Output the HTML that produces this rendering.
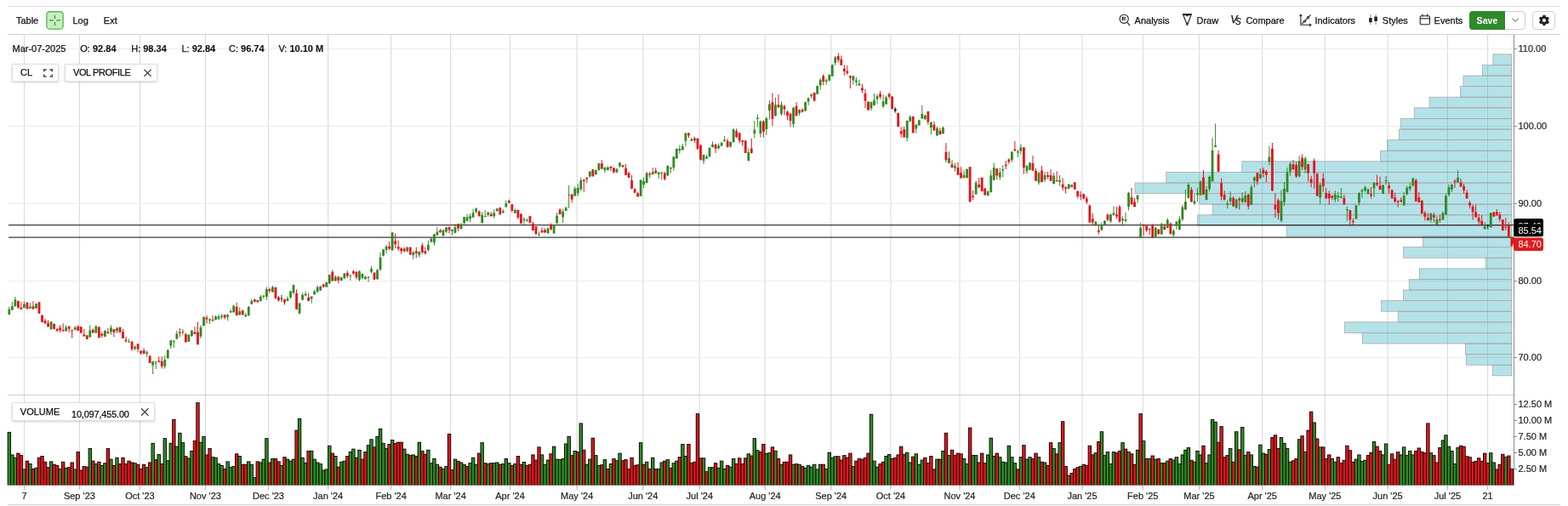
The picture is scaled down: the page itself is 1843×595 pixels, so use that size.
<!DOCTYPE html>
<html><head><meta charset="utf-8"><title>Chart</title>
<style>
html,body{margin:0;padding:0;background:#fff;}
#w{position:relative;width:1843px;height:595px;overflow:hidden;background:#fff;font-family:"Liberation Sans", Arial, sans-serif;}
svg text{font-family:"Liberation Sans", Arial, sans-serif;}
.ax{font-size:11px;fill:#222;stroke:#222;stroke-width:0.2px;}
.lbl{font-size:11px;fill:#fff;}
.t{position:absolute;font-size:11px;line-height:13px;color:#1e1e1e;white-space:nowrap;}
.b{font-weight:bold;}
.box{position:absolute;background:#fff;border:1px solid #dedede;box-shadow:0 1px 3px rgba(0,0,0,0.18);border-radius:1px;}
.btn{position:absolute;border:1px solid #cfcfcf;border-radius:4px;background:#fff;box-sizing:border-box;}
</style></head><body><div id="w">
<svg width="1843" height="595" viewBox="0 0 1843 595" style="position:absolute;left:0;top:0">
<line x1="28.5" y1="41" x2="28.5" y2="574" stroke="#dadada" stroke-width="1.1"/>
<line x1="93.4" y1="41" x2="93.4" y2="574" stroke="#dadada" stroke-width="1.1"/>
<line x1="164.4" y1="41" x2="164.4" y2="574" stroke="#dadada" stroke-width="1.1"/>
<line x1="241.4" y1="41" x2="241.4" y2="574" stroke="#dadada" stroke-width="1.1"/>
<line x1="315.5" y1="41" x2="315.5" y2="574" stroke="#dadada" stroke-width="1.1"/>
<line x1="385.6" y1="41" x2="385.6" y2="574" stroke="#dadada" stroke-width="1.1"/>
<line x1="459.6" y1="41" x2="459.6" y2="574" stroke="#dadada" stroke-width="1.1"/>
<line x1="529.6" y1="41" x2="529.6" y2="574" stroke="#dadada" stroke-width="1.1"/>
<line x1="599.5" y1="41" x2="599.5" y2="574" stroke="#dadada" stroke-width="1.1"/>
<line x1="678.2" y1="41" x2="678.2" y2="574" stroke="#dadada" stroke-width="1.1"/>
<line x1="755.8" y1="41" x2="755.8" y2="574" stroke="#dadada" stroke-width="1.1"/>
<line x1="822.3" y1="41" x2="822.3" y2="574" stroke="#dadada" stroke-width="1.1"/>
<line x1="899.2" y1="41" x2="899.2" y2="574" stroke="#dadada" stroke-width="1.1"/>
<line x1="976.7" y1="41" x2="976.7" y2="574" stroke="#dadada" stroke-width="1.1"/>
<line x1="1047" y1="41" x2="1047" y2="574" stroke="#dadada" stroke-width="1.1"/>
<line x1="1128" y1="41" x2="1128" y2="574" stroke="#dadada" stroke-width="1.1"/>
<line x1="1198.3" y1="41" x2="1198.3" y2="574" stroke="#dadada" stroke-width="1.1"/>
<line x1="1272" y1="41" x2="1272" y2="574" stroke="#dadada" stroke-width="1.1"/>
<line x1="1343.3" y1="41" x2="1343.3" y2="574" stroke="#dadada" stroke-width="1.1"/>
<line x1="1409.5" y1="41" x2="1409.5" y2="574" stroke="#dadada" stroke-width="1.1"/>
<line x1="1483.7" y1="41" x2="1483.7" y2="574" stroke="#dadada" stroke-width="1.1"/>
<line x1="1557.4" y1="41" x2="1557.4" y2="574" stroke="#dadada" stroke-width="1.1"/>
<line x1="1631.1" y1="41" x2="1631.1" y2="574" stroke="#dadada" stroke-width="1.1"/>
<line x1="1701.4" y1="41" x2="1701.4" y2="574" stroke="#dadada" stroke-width="1.1"/>
<line x1="1748.6" y1="41" x2="1748.6" y2="574" stroke="#dadada" stroke-width="1.1"/>
<line x1="10" y1="57.5" x2="1779" y2="57.5" stroke="#ececec" stroke-width="1"/>
<line x1="10" y1="148.5" x2="1779" y2="148.5" stroke="#ececec" stroke-width="1"/>
<line x1="10" y1="239.5" x2="1779" y2="239.5" stroke="#ececec" stroke-width="1"/>
<line x1="10" y1="330.5" x2="1779" y2="330.5" stroke="#ececec" stroke-width="1"/>
<line x1="10" y1="420.5" x2="1779" y2="420.5" stroke="#ececec" stroke-width="1"/>
<rect x="1754.9" y="63.8" width="21.8" height="12.6" fill="rgba(40,172,189,0.35)" stroke="#ababab" stroke-width="0.8"/>
<rect x="1742.5" y="76.4" width="34.2" height="12.6" fill="rgba(40,172,189,0.35)" stroke="#ababab" stroke-width="0.8"/>
<rect x="1720.0" y="89.0" width="56.7" height="12.6" fill="rgba(40,172,189,0.35)" stroke="#ababab" stroke-width="0.8"/>
<rect x="1716.4" y="101.6" width="60.3" height="12.6" fill="rgba(40,172,189,0.35)" stroke="#ababab" stroke-width="0.8"/>
<rect x="1680.1" y="114.2" width="96.6" height="12.6" fill="rgba(40,172,189,0.35)" stroke="#ababab" stroke-width="0.8"/>
<rect x="1662.3" y="126.8" width="114.4" height="12.6" fill="rgba(40,172,189,0.35)" stroke="#ababab" stroke-width="0.8"/>
<rect x="1646.3" y="139.4" width="130.4" height="12.6" fill="rgba(40,172,189,0.35)" stroke="#ababab" stroke-width="0.8"/>
<rect x="1644.6" y="152.0" width="132.1" height="12.6" fill="rgba(40,172,189,0.35)" stroke="#ababab" stroke-width="0.8"/>
<rect x="1630.4" y="164.6" width="146.3" height="12.6" fill="rgba(40,172,189,0.35)" stroke="#ababab" stroke-width="0.8"/>
<rect x="1622.6" y="177.2" width="154.1" height="12.6" fill="rgba(40,172,189,0.35)" stroke="#ababab" stroke-width="0.8"/>
<rect x="1459.8" y="189.8" width="316.9" height="12.6" fill="rgba(40,172,189,0.35)" stroke="#ababab" stroke-width="0.8"/>
<rect x="1370.8" y="202.4" width="405.9" height="12.6" fill="rgba(40,172,189,0.35)" stroke="#ababab" stroke-width="0.8"/>
<rect x="1334.1" y="215.0" width="442.6" height="12.6" fill="rgba(40,172,189,0.35)" stroke="#ababab" stroke-width="0.8"/>
<rect x="1409.8" y="227.6" width="366.9" height="12.6" fill="rgba(40,172,189,0.35)" stroke="#ababab" stroke-width="0.8"/>
<rect x="1425.3" y="240.2" width="351.4" height="12.6" fill="rgba(40,172,189,0.35)" stroke="#ababab" stroke-width="0.8"/>
<rect x="1407.7" y="252.8" width="369.0" height="12.6" fill="rgba(40,172,189,0.35)" stroke="#ababab" stroke-width="0.8"/>
<rect x="1512.2" y="265.4" width="264.5" height="12.6" fill="rgba(40,172,189,0.35)" stroke="#ababab" stroke-width="0.8"/>
<rect x="1672.3" y="278.0" width="104.4" height="12.6" fill="rgba(40,172,189,0.35)" stroke="#ababab" stroke-width="0.8"/>
<rect x="1649.6" y="290.6" width="127.1" height="12.6" fill="rgba(40,172,189,0.35)" stroke="#ababab" stroke-width="0.8"/>
<rect x="1746.4" y="303.2" width="30.3" height="12.6" fill="rgba(40,172,189,0.35)" stroke="#ababab" stroke-width="0.8"/>
<rect x="1668.4" y="315.8" width="108.3" height="12.6" fill="rgba(40,172,189,0.35)" stroke="#ababab" stroke-width="0.8"/>
<rect x="1656.2" y="328.4" width="120.5" height="12.6" fill="rgba(40,172,189,0.35)" stroke="#ababab" stroke-width="0.8"/>
<rect x="1649.6" y="341.0" width="127.1" height="12.6" fill="rgba(40,172,189,0.35)" stroke="#ababab" stroke-width="0.8"/>
<rect x="1623.6" y="353.6" width="153.1" height="12.6" fill="rgba(40,172,189,0.35)" stroke="#ababab" stroke-width="0.8"/>
<rect x="1643.2" y="366.2" width="133.5" height="12.6" fill="rgba(40,172,189,0.35)" stroke="#ababab" stroke-width="0.8"/>
<rect x="1580.3" y="378.8" width="196.4" height="12.6" fill="rgba(40,172,189,0.35)" stroke="#ababab" stroke-width="0.8"/>
<rect x="1601.5" y="391.4" width="175.2" height="12.6" fill="rgba(40,172,189,0.35)" stroke="#ababab" stroke-width="0.8"/>
<rect x="1722.5" y="404.0" width="54.2" height="12.6" fill="rgba(40,172,189,0.35)" stroke="#ababab" stroke-width="0.8"/>
<rect x="1723.4" y="416.6" width="53.3" height="12.6" fill="rgba(40,172,189,0.35)" stroke="#ababab" stroke-width="0.8"/>
<rect x="1754.3" y="429.2" width="22.4" height="12.6" fill="rgba(40,172,189,0.35)" stroke="#ababab" stroke-width="0.8"/>
<line x1="10" y1="264.7" x2="1779" y2="264.7" stroke="#3a3a3a" stroke-width="1.2"/>
<line x1="10" y1="279.1" x2="1779" y2="279.1" stroke="#3a3a3a" stroke-width="1.2"/>
<line x1="10.83" y1="360.6" x2="10.83" y2="370.7" stroke="#2f8a22" stroke-width="1"/>
<rect x="9.43" y="363.7" width="2.8" height="6.0" fill="#2f8a22"/>
<line x1="14.35" y1="355.1" x2="14.35" y2="364.7" stroke="#2f8a22" stroke-width="1"/>
<rect x="12.95" y="360.1" width="2.8" height="4.5" fill="#2f8a22"/>
<line x1="17.87" y1="349.0" x2="17.87" y2="360.6" stroke="#2f8a22" stroke-width="1"/>
<rect x="16.47" y="352.1" width="2.8" height="8.1" fill="#2f8a22"/>
<line x1="21.38" y1="353.6" x2="21.38" y2="363.1" stroke="#e3141b" stroke-width="1"/>
<rect x="19.98" y="353.9" width="2.8" height="7.8" fill="#e3141b"/>
<line x1="24.90" y1="355.1" x2="24.90" y2="363.7" stroke="#e3141b" stroke-width="1"/>
<rect x="23.50" y="361.6" width="2.8" height="2.0" fill="#e3141b"/>
<line x1="28.42" y1="354.1" x2="28.42" y2="362.1" stroke="#2f8a22" stroke-width="1"/>
<rect x="27.02" y="357.6" width="2.8" height="4.5" fill="#2f8a22"/>
<line x1="31.94" y1="355.1" x2="31.94" y2="363.7" stroke="#e3141b" stroke-width="1"/>
<rect x="30.54" y="355.9" width="2.8" height="7.3" fill="#e3141b"/>
<line x1="35.45" y1="356.1" x2="35.45" y2="362.9" stroke="#2f8a22" stroke-width="1"/>
<rect x="34.05" y="360.6" width="2.8" height="2.0" fill="#2f8a22"/>
<line x1="38.97" y1="354.1" x2="38.97" y2="363.7" stroke="#e3141b" stroke-width="1"/>
<rect x="37.57" y="360.1" width="2.8" height="3.5" fill="#e3141b"/>
<line x1="42.49" y1="356.6" x2="42.49" y2="363.1" stroke="#2f8a22" stroke-width="1"/>
<rect x="41.09" y="357.1" width="2.8" height="5.5" fill="#2f8a22"/>
<line x1="46.01" y1="355.1" x2="46.01" y2="369.2" stroke="#e3141b" stroke-width="1"/>
<rect x="44.61" y="355.3" width="2.8" height="13.4" fill="#e3141b"/>
<line x1="49.53" y1="370.2" x2="49.53" y2="378.8" stroke="#e3141b" stroke-width="1"/>
<rect x="48.13" y="370.7" width="2.8" height="8.1" fill="#e3141b"/>
<line x1="53.04" y1="374.7" x2="53.04" y2="380.8" stroke="#e3141b" stroke-width="1"/>
<rect x="51.64" y="377.1" width="2.8" height="3.2" fill="#e3141b"/>
<line x1="56.56" y1="376.3" x2="56.56" y2="384.3" stroke="#e3141b" stroke-width="1"/>
<rect x="55.16" y="379.8" width="2.8" height="4.5" fill="#e3141b"/>
<line x1="60.08" y1="377.8" x2="60.08" y2="387.3" stroke="#2f8a22" stroke-width="1"/>
<rect x="58.68" y="378.3" width="2.8" height="9.1" fill="#2f8a22"/>
<line x1="63.60" y1="380.3" x2="63.60" y2="387.3" stroke="#e3141b" stroke-width="1"/>
<rect x="62.20" y="380.8" width="2.8" height="6.0" fill="#e3141b"/>
<line x1="67.12" y1="385.8" x2="67.12" y2="390.4" stroke="#e3141b" stroke-width="1"/>
<rect x="65.72" y="386.8" width="2.8" height="2.0" fill="#e3141b"/>
<line x1="70.63" y1="382.3" x2="70.63" y2="390.9" stroke="#e3141b" stroke-width="1"/>
<rect x="69.23" y="385.3" width="2.8" height="3.0" fill="#e3141b"/>
<line x1="74.15" y1="380.3" x2="74.15" y2="389.9" stroke="#e3141b" stroke-width="1"/>
<rect x="72.75" y="387.9" width="2.8" height="1.5" fill="#e3141b"/>
<line x1="77.67" y1="382.3" x2="77.67" y2="389.9" stroke="#2f8a22" stroke-width="1"/>
<rect x="76.27" y="384.8" width="2.8" height="4.5" fill="#2f8a22"/>
<line x1="81.19" y1="383.3" x2="81.19" y2="390.9" stroke="#e3141b" stroke-width="1"/>
<rect x="79.79" y="383.8" width="2.8" height="3.0" fill="#e3141b"/>
<line x1="84.71" y1="387.3" x2="84.71" y2="397.4" stroke="#e3141b" stroke-width="1"/>
<rect x="83.31" y="388.4" width="2.8" height="1.0" fill="#e3141b"/>
<line x1="88.22" y1="383.3" x2="88.22" y2="388.4" stroke="#2f8a22" stroke-width="1"/>
<rect x="86.82" y="385.1" width="2.8" height="2.7" fill="#2f8a22"/>
<line x1="91.74" y1="382.3" x2="91.74" y2="389.4" stroke="#e3141b" stroke-width="1"/>
<rect x="90.34" y="383.8" width="2.8" height="5.0" fill="#e3141b"/>
<line x1="95.26" y1="383.8" x2="95.26" y2="392.4" stroke="#e3141b" stroke-width="1"/>
<rect x="93.86" y="384.3" width="2.8" height="7.1" fill="#e3141b"/>
<line x1="98.78" y1="386.8" x2="98.78" y2="395.4" stroke="#e3141b" stroke-width="1"/>
<rect x="97.38" y="393.4" width="2.8" height="2.0" fill="#e3141b"/>
<line x1="102.30" y1="393.9" x2="102.30" y2="398.9" stroke="#e3141b" stroke-width="1"/>
<rect x="100.90" y="394.4" width="2.8" height="4.5" fill="#e3141b"/>
<line x1="105.81" y1="382.3" x2="105.81" y2="396.4" stroke="#2f8a22" stroke-width="1"/>
<rect x="104.41" y="388.4" width="2.8" height="8.1" fill="#2f8a22"/>
<line x1="109.33" y1="386.3" x2="109.33" y2="391.4" stroke="#e3141b" stroke-width="1"/>
<rect x="107.93" y="387.9" width="2.8" height="3.5" fill="#e3141b"/>
<line x1="112.85" y1="382.3" x2="112.85" y2="391.9" stroke="#2f8a22" stroke-width="1"/>
<rect x="111.45" y="383.8" width="2.8" height="7.6" fill="#2f8a22"/>
<rect x="114.97" y="384.3" width="2.8" height="13.1" fill="#e3141b"/>
<line x1="119.89" y1="390.3" x2="119.89" y2="397.4" stroke="#e3141b" stroke-width="1"/>
<rect x="118.49" y="392.5" width="2.8" height="2.2" fill="#e3141b"/>
<line x1="123.41" y1="388.1" x2="123.41" y2="396.3" stroke="#2f8a22" stroke-width="1"/>
<rect x="122.00" y="389.0" width="2.8" height="6.8" fill="#2f8a22"/>
<line x1="126.92" y1="385.9" x2="126.92" y2="392.5" stroke="#e3141b" stroke-width="1"/>
<rect x="125.52" y="390.3" width="2.8" height="1.6" fill="#e3141b"/>
<line x1="130.44" y1="382.4" x2="130.44" y2="393.6" stroke="#2f8a22" stroke-width="1"/>
<rect x="129.04" y="385.4" width="2.8" height="4.9" fill="#2f8a22"/>
<line x1="133.96" y1="387.0" x2="133.96" y2="396.3" stroke="#e3141b" stroke-width="1"/>
<rect x="132.56" y="387.2" width="2.8" height="3.6" fill="#e3141b"/>
<line x1="137.48" y1="384.3" x2="137.48" y2="391.9" stroke="#2f8a22" stroke-width="1"/>
<rect x="136.08" y="385.9" width="2.8" height="3.3" fill="#2f8a22"/>
<line x1="140.99" y1="384.3" x2="140.99" y2="390.8" stroke="#e3141b" stroke-width="1"/>
<rect x="139.59" y="384.8" width="2.8" height="6.0" fill="#e3141b"/>
<line x1="144.51" y1="387.0" x2="144.51" y2="397.9" stroke="#e3141b" stroke-width="1"/>
<rect x="143.11" y="390.3" width="2.8" height="7.6" fill="#e3141b"/>
<line x1="148.03" y1="395.8" x2="148.03" y2="402.9" stroke="#e3141b" stroke-width="1"/>
<rect x="146.63" y="399.6" width="2.8" height="1.6" fill="#e3141b"/>
<line x1="151.55" y1="398.5" x2="151.55" y2="402.9" stroke="#2f8a22" stroke-width="1"/>
<rect x="150.15" y="401.4" width="2.8" height="1.0" fill="#2f8a22"/>
<line x1="155.07" y1="400.7" x2="155.07" y2="412.7" stroke="#e3141b" stroke-width="1"/>
<rect x="153.67" y="401.8" width="2.8" height="8.7" fill="#e3141b"/>
<line x1="158.58" y1="406.1" x2="158.58" y2="412.1" stroke="#2f8a22" stroke-width="1"/>
<rect x="157.18" y="407.8" width="2.8" height="2.2" fill="#2f8a22"/>
<line x1="162.10" y1="403.9" x2="162.10" y2="413.8" stroke="#e3141b" stroke-width="1"/>
<rect x="160.70" y="404.3" width="2.8" height="6.2" fill="#e3141b"/>
<line x1="165.62" y1="412.1" x2="165.62" y2="417.1" stroke="#e3141b" stroke-width="1"/>
<rect x="164.22" y="412.7" width="2.8" height="2.7" fill="#e3141b"/>
<line x1="169.14" y1="409.4" x2="169.14" y2="416.5" stroke="#e3141b" stroke-width="1"/>
<rect x="167.74" y="412.1" width="2.8" height="3.8" fill="#e3141b"/>
<line x1="172.66" y1="412.1" x2="172.66" y2="419.8" stroke="#2f8a22" stroke-width="1"/>
<rect x="171.26" y="414.3" width="2.8" height="1.6" fill="#2f8a22"/>
<line x1="176.17" y1="417.6" x2="176.17" y2="426.9" stroke="#e3141b" stroke-width="1"/>
<rect x="174.77" y="418.7" width="2.8" height="8.2" fill="#e3141b"/>
<line x1="179.69" y1="424.2" x2="179.69" y2="440.0" stroke="#2f8a22" stroke-width="1"/>
<rect x="178.29" y="425.2" width="2.8" height="4.4" fill="#2f8a22"/>
<line x1="183.21" y1="424.2" x2="183.21" y2="434.0" stroke="#2f8a22" stroke-width="1"/>
<rect x="181.81" y="426.3" width="2.8" height="1.1" fill="#2f8a22"/>
<line x1="186.73" y1="419.2" x2="186.73" y2="426.3" stroke="#e3141b" stroke-width="1"/>
<rect x="185.33" y="424.2" width="2.8" height="1.6" fill="#e3141b"/>
<line x1="190.25" y1="419.2" x2="190.25" y2="433.4" stroke="#e3141b" stroke-width="1"/>
<rect x="188.85" y="424.7" width="2.8" height="6.0" fill="#e3141b"/>
<line x1="193.76" y1="418.1" x2="193.76" y2="433.4" stroke="#2f8a22" stroke-width="1"/>
<rect x="192.36" y="423.1" width="2.8" height="7.6" fill="#2f8a22"/>
<line x1="197.28" y1="411.0" x2="197.28" y2="421.8" stroke="#2f8a22" stroke-width="1"/>
<rect x="195.88" y="411.6" width="2.8" height="9.8" fill="#2f8a22"/>
<line x1="200.80" y1="399.6" x2="200.80" y2="410.0" stroke="#2f8a22" stroke-width="1"/>
<rect x="199.40" y="400.3" width="2.8" height="6.3" fill="#2f8a22"/>
<line x1="204.32" y1="399.6" x2="204.32" y2="408.9" stroke="#2f8a22" stroke-width="1"/>
<rect x="202.92" y="401.0" width="2.8" height="1.0" fill="#2f8a22"/>
<line x1="207.84" y1="388.7" x2="207.84" y2="399.0" stroke="#2f8a22" stroke-width="1"/>
<rect x="206.44" y="392.5" width="2.8" height="6.0" fill="#2f8a22"/>
<line x1="211.35" y1="385.9" x2="211.35" y2="396.3" stroke="#e3141b" stroke-width="1"/>
<rect x="209.95" y="390.8" width="2.8" height="1.1" fill="#e3141b"/>
<line x1="214.87" y1="387.0" x2="214.87" y2="393.6" stroke="#2f8a22" stroke-width="1"/>
<rect x="213.47" y="390.1" width="2.8" height="1.0" fill="#2f8a22"/>
<line x1="218.39" y1="391.4" x2="218.39" y2="402.9" stroke="#e3141b" stroke-width="1"/>
<rect x="216.99" y="393.0" width="2.8" height="9.3" fill="#e3141b"/>
<line x1="221.91" y1="393.0" x2="221.91" y2="401.8" stroke="#2f8a22" stroke-width="1"/>
<rect x="220.51" y="393.6" width="2.8" height="8.2" fill="#2f8a22"/>
<line x1="225.43" y1="388.0" x2="225.43" y2="396.2" stroke="#2f8a22" stroke-width="1"/>
<rect x="224.03" y="388.6" width="2.8" height="6.3" fill="#2f8a22"/>
<line x1="228.94" y1="384.2" x2="228.94" y2="393.0" stroke="#e3141b" stroke-width="1"/>
<rect x="227.54" y="390.5" width="2.8" height="2.5" fill="#e3141b"/>
<line x1="232.46" y1="378.5" x2="232.46" y2="405.6" stroke="#e3141b" stroke-width="1"/>
<rect x="231.06" y="390.5" width="2.8" height="14.5" fill="#e3141b"/>
<line x1="235.98" y1="382.3" x2="235.98" y2="398.0" stroke="#2f8a22" stroke-width="1"/>
<rect x="234.58" y="384.8" width="2.8" height="10.7" fill="#2f8a22"/>
<line x1="239.50" y1="372.2" x2="239.50" y2="383.6" stroke="#2f8a22" stroke-width="1"/>
<rect x="238.10" y="372.8" width="2.8" height="10.1" fill="#2f8a22"/>
<line x1="243.02" y1="371.0" x2="243.02" y2="380.4" stroke="#e3141b" stroke-width="1"/>
<rect x="241.62" y="373.5" width="2.8" height="1.9" fill="#e3141b"/>
<line x1="246.53" y1="374.1" x2="246.53" y2="381.0" stroke="#2f8a22" stroke-width="1"/>
<rect x="245.13" y="375.4" width="2.8" height="1.3" fill="#2f8a22"/>
<line x1="250.05" y1="371.0" x2="250.05" y2="378.5" stroke="#e3141b" stroke-width="1"/>
<rect x="248.65" y="375.9" width="2.8" height="1.0" fill="#e3141b"/>
<line x1="253.57" y1="371.0" x2="253.57" y2="376.6" stroke="#2f8a22" stroke-width="1"/>
<rect x="252.17" y="372.2" width="2.8" height="3.8" fill="#2f8a22"/>
<line x1="257.09" y1="369.7" x2="257.09" y2="376.6" stroke="#2f8a22" stroke-width="1"/>
<rect x="255.69" y="372.2" width="2.8" height="2.5" fill="#2f8a22"/>
<line x1="260.61" y1="369.1" x2="260.61" y2="375.4" stroke="#2f8a22" stroke-width="1"/>
<rect x="259.21" y="371.6" width="2.8" height="1.3" fill="#2f8a22"/>
<line x1="264.12" y1="369.7" x2="264.12" y2="375.4" stroke="#e3141b" stroke-width="1"/>
<rect x="262.73" y="370.3" width="2.8" height="3.2" fill="#e3141b"/>
<line x1="267.64" y1="369.1" x2="267.64" y2="377.3" stroke="#2f8a22" stroke-width="1"/>
<rect x="266.24" y="370.3" width="2.8" height="2.5" fill="#2f8a22"/>
<line x1="271.16" y1="363.4" x2="271.16" y2="367.8" stroke="#2f8a22" stroke-width="1"/>
<rect x="269.76" y="365.9" width="2.8" height="1.5" fill="#2f8a22"/>
<line x1="274.68" y1="358.4" x2="274.68" y2="367.6" stroke="#2f8a22" stroke-width="1"/>
<rect x="273.28" y="359.6" width="2.8" height="7.6" fill="#2f8a22"/>
<line x1="278.20" y1="355.8" x2="278.20" y2="371.0" stroke="#e3141b" stroke-width="1"/>
<rect x="276.80" y="360.9" width="2.8" height="10.1" fill="#e3141b"/>
<line x1="281.71" y1="361.5" x2="281.71" y2="370.6" stroke="#2f8a22" stroke-width="1"/>
<rect x="280.31" y="365.9" width="2.8" height="4.4" fill="#2f8a22"/>
<line x1="285.23" y1="364.0" x2="285.23" y2="370.3" stroke="#e3141b" stroke-width="1"/>
<rect x="283.83" y="365.3" width="2.8" height="5.0" fill="#e3141b"/>
<line x1="288.75" y1="367.8" x2="288.75" y2="372.8" stroke="#2f8a22" stroke-width="1"/>
<rect x="287.35" y="370.3" width="2.8" height="1.9" fill="#2f8a22"/>
<line x1="292.27" y1="359.6" x2="292.27" y2="371.6" stroke="#2f8a22" stroke-width="1"/>
<rect x="290.87" y="360.9" width="2.8" height="10.1" fill="#2f8a22"/>
<line x1="295.79" y1="351.4" x2="295.79" y2="357.7" stroke="#2f8a22" stroke-width="1"/>
<rect x="294.39" y="353.9" width="2.8" height="3.8" fill="#2f8a22"/>
<line x1="299.30" y1="351.4" x2="299.30" y2="355.8" stroke="#e3141b" stroke-width="1"/>
<rect x="297.90" y="352.1" width="2.8" height="2.5" fill="#e3141b"/>
<line x1="302.82" y1="352.7" x2="302.82" y2="355.8" stroke="#e3141b" stroke-width="1"/>
<rect x="301.42" y="353.1" width="2.8" height="2.1" fill="#e3141b"/>
<line x1="306.34" y1="347.0" x2="306.34" y2="354.6" stroke="#2f8a22" stroke-width="1"/>
<rect x="304.94" y="348.9" width="2.8" height="5.0" fill="#2f8a22"/>
<line x1="309.86" y1="347.0" x2="309.86" y2="351.4" stroke="#2f8a22" stroke-width="1"/>
<rect x="308.46" y="347.6" width="2.8" height="1.3" fill="#2f8a22"/>
<line x1="313.38" y1="337.6" x2="313.38" y2="352.7" stroke="#2f8a22" stroke-width="1"/>
<rect x="311.98" y="340.1" width="2.8" height="8.8" fill="#2f8a22"/>
<line x1="316.89" y1="338.2" x2="316.89" y2="344.5" stroke="#e3141b" stroke-width="1"/>
<rect x="315.50" y="340.1" width="2.8" height="1.9" fill="#e3141b"/>
<line x1="320.41" y1="335.7" x2="320.41" y2="343.9" stroke="#2f8a22" stroke-width="1"/>
<rect x="319.01" y="337.6" width="2.8" height="5.7" fill="#2f8a22"/>
<line x1="323.93" y1="337.6" x2="323.93" y2="351.4" stroke="#e3141b" stroke-width="1"/>
<rect x="322.53" y="337.8" width="2.8" height="13.0" fill="#e3141b"/>
<line x1="327.45" y1="348.3" x2="327.45" y2="354.6" stroke="#e3141b" stroke-width="1"/>
<rect x="326.05" y="349.5" width="2.8" height="3.8" fill="#e3141b"/>
<line x1="330.97" y1="346.8" x2="330.97" y2="355.0" stroke="#2a2a2a" stroke-width="1"/>
<rect x="329.57" y="350.7" width="2.8" height="1.0" fill="#2a2a2a"/>
<line x1="334.48" y1="351.5" x2="334.48" y2="358.5" stroke="#e3141b" stroke-width="1"/>
<rect x="333.08" y="352.1" width="2.8" height="3.5" fill="#e3141b"/>
<line x1="338.00" y1="348.5" x2="338.00" y2="354.4" stroke="#2f8a22" stroke-width="1"/>
<rect x="336.60" y="350.9" width="2.8" height="2.9" fill="#2f8a22"/>
<line x1="341.52" y1="342.1" x2="341.52" y2="351.5" stroke="#2f8a22" stroke-width="1"/>
<rect x="340.12" y="342.4" width="2.8" height="7.3" fill="#2f8a22"/>
<line x1="345.04" y1="334.4" x2="345.04" y2="346.2" stroke="#2f8a22" stroke-width="1"/>
<rect x="343.64" y="335.0" width="2.8" height="9.4" fill="#2f8a22"/>
<line x1="348.56" y1="340.3" x2="348.56" y2="363.8" stroke="#e3141b" stroke-width="1"/>
<rect x="347.16" y="345.0" width="2.8" height="18.8" fill="#e3141b"/>
<line x1="352.07" y1="356.2" x2="352.07" y2="369.7" stroke="#2f8a22" stroke-width="1"/>
<rect x="350.68" y="356.4" width="2.8" height="12.1" fill="#2f8a22"/>
<line x1="355.59" y1="344.4" x2="355.59" y2="353.2" stroke="#2f8a22" stroke-width="1"/>
<rect x="354.19" y="346.8" width="2.8" height="5.9" fill="#2f8a22"/>
<line x1="359.11" y1="342.6" x2="359.11" y2="348.5" stroke="#2f8a22" stroke-width="1"/>
<rect x="357.71" y="345.6" width="2.8" height="1.8" fill="#2f8a22"/>
<line x1="362.63" y1="344.4" x2="362.63" y2="354.4" stroke="#e3141b" stroke-width="1"/>
<rect x="361.23" y="349.7" width="2.8" height="4.1" fill="#e3141b"/>
<line x1="366.15" y1="348.5" x2="366.15" y2="356.8" stroke="#2f8a22" stroke-width="1"/>
<rect x="364.75" y="348.5" width="2.8" height="2.9" fill="#2f8a22"/>
<line x1="369.66" y1="340.9" x2="369.66" y2="346.8" stroke="#2f8a22" stroke-width="1"/>
<rect x="368.26" y="342.6" width="2.8" height="3.5" fill="#2f8a22"/>
<line x1="373.18" y1="335.6" x2="373.18" y2="343.8" stroke="#2f8a22" stroke-width="1"/>
<rect x="371.78" y="337.7" width="2.8" height="5.5" fill="#2f8a22"/>
<line x1="376.70" y1="336.2" x2="376.70" y2="342.1" stroke="#2f8a22" stroke-width="1"/>
<rect x="375.30" y="336.8" width="2.8" height="4.7" fill="#2f8a22"/>
<line x1="380.22" y1="333.8" x2="380.22" y2="338.5" stroke="#e3141b" stroke-width="1"/>
<rect x="378.82" y="334.4" width="2.8" height="2.9" fill="#e3141b"/>
<line x1="383.74" y1="331.5" x2="383.74" y2="337.7" stroke="#2f8a22" stroke-width="1"/>
<rect x="382.34" y="332.1" width="2.8" height="5.3" fill="#2f8a22"/>
<line x1="387.25" y1="322.6" x2="387.25" y2="334.4" stroke="#2f8a22" stroke-width="1"/>
<rect x="385.86" y="323.2" width="2.8" height="10.0" fill="#2f8a22"/>
<line x1="390.77" y1="317.4" x2="390.77" y2="330.6" stroke="#e3141b" stroke-width="1"/>
<rect x="389.37" y="319.7" width="2.8" height="10.6" fill="#e3141b"/>
<line x1="394.29" y1="323.8" x2="394.29" y2="330.6" stroke="#2f8a22" stroke-width="1"/>
<rect x="392.89" y="325.6" width="2.8" height="4.7" fill="#2f8a22"/>
<line x1="397.81" y1="324.4" x2="397.81" y2="333.2" stroke="#e3141b" stroke-width="1"/>
<rect x="396.41" y="325.6" width="2.8" height="4.1" fill="#e3141b"/>
<line x1="401.33" y1="325.6" x2="401.33" y2="330.3" stroke="#2f8a22" stroke-width="1"/>
<rect x="399.93" y="326.2" width="2.8" height="3.5" fill="#2f8a22"/>
<line x1="404.84" y1="320.9" x2="404.84" y2="328.5" stroke="#2f8a22" stroke-width="1"/>
<rect x="403.44" y="321.5" width="2.8" height="5.3" fill="#2f8a22"/>
<line x1="408.36" y1="318.5" x2="408.36" y2="326.8" stroke="#e3141b" stroke-width="1"/>
<rect x="406.96" y="320.9" width="2.8" height="3.5" fill="#e3141b"/>
<line x1="411.88" y1="323.2" x2="411.88" y2="329.7" stroke="#2f8a22" stroke-width="1"/>
<rect x="410.48" y="323.6" width="2.8" height="1.0" fill="#2f8a22"/>
<line x1="415.40" y1="317.4" x2="415.40" y2="323.2" stroke="#e3141b" stroke-width="1"/>
<rect x="414.00" y="319.1" width="2.8" height="2.4" fill="#e3141b"/>
<line x1="418.92" y1="319.1" x2="418.92" y2="328.5" stroke="#e3141b" stroke-width="1"/>
<rect x="417.52" y="319.7" width="2.8" height="6.5" fill="#e3141b"/>
<line x1="422.43" y1="317.9" x2="422.43" y2="330.9" stroke="#2f8a22" stroke-width="1"/>
<rect x="421.03" y="319.1" width="2.8" height="10.0" fill="#2f8a22"/>
<line x1="425.95" y1="321.5" x2="425.95" y2="328.5" stroke="#2f8a22" stroke-width="1"/>
<rect x="424.55" y="322.1" width="2.8" height="4.7" fill="#2f8a22"/>
<line x1="429.47" y1="324.4" x2="429.47" y2="328.5" stroke="#2f8a22" stroke-width="1"/>
<rect x="428.07" y="325.6" width="2.8" height="2.7" fill="#2f8a22"/>
<line x1="432.99" y1="325.0" x2="432.99" y2="331.5" stroke="#2f8a22" stroke-width="1"/>
<rect x="431.59" y="325.4" width="2.8" height="1.0" fill="#2f8a22"/>
<line x1="436.51" y1="312.8" x2="436.51" y2="321.6" stroke="#2f8a22" stroke-width="1"/>
<rect x="435.11" y="316.2" width="2.8" height="3.4" fill="#2f8a22"/>
<line x1="440.02" y1="320.2" x2="440.02" y2="329.0" stroke="#e3141b" stroke-width="1"/>
<rect x="438.62" y="320.6" width="2.8" height="8.1" fill="#e3141b"/>
<line x1="443.54" y1="316.2" x2="443.54" y2="328.7" stroke="#2f8a22" stroke-width="1"/>
<rect x="442.14" y="317.5" width="2.8" height="10.8" fill="#2f8a22"/>
<line x1="447.06" y1="296.7" x2="447.06" y2="318.9" stroke="#2f8a22" stroke-width="1"/>
<rect x="445.66" y="302.7" width="2.8" height="14.1" fill="#2f8a22"/>
<line x1="450.58" y1="293.3" x2="450.58" y2="301.4" stroke="#2f8a22" stroke-width="1"/>
<rect x="449.18" y="293.3" width="2.8" height="7.4" fill="#2f8a22"/>
<line x1="454.10" y1="287.9" x2="454.10" y2="297.8" stroke="#2f8a22" stroke-width="1"/>
<rect x="452.70" y="290.0" width="2.8" height="4.0" fill="#2f8a22"/>
<line x1="457.61" y1="283.9" x2="457.61" y2="294.0" stroke="#e3141b" stroke-width="1"/>
<rect x="456.21" y="289.7" width="2.8" height="2.7" fill="#e3141b"/>
<line x1="461.13" y1="273.2" x2="461.13" y2="295.3" stroke="#2f8a22" stroke-width="1"/>
<rect x="459.73" y="273.4" width="2.8" height="20.6" fill="#2f8a22"/>
<line x1="464.65" y1="274.5" x2="464.65" y2="292.0" stroke="#e3141b" stroke-width="1"/>
<rect x="463.25" y="283.2" width="2.8" height="4.0" fill="#e3141b"/>
<line x1="468.17" y1="282.6" x2="468.17" y2="294.7" stroke="#e3141b" stroke-width="1"/>
<rect x="466.77" y="290.0" width="2.8" height="2.7" fill="#e3141b"/>
<line x1="471.69" y1="290.6" x2="471.69" y2="298.7" stroke="#e3141b" stroke-width="1"/>
<rect x="470.29" y="292.0" width="2.8" height="3.4" fill="#e3141b"/>
<line x1="475.20" y1="290.6" x2="475.20" y2="296.7" stroke="#e3141b" stroke-width="1"/>
<rect x="473.81" y="292.4" width="2.8" height="3.0" fill="#e3141b"/>
<line x1="478.72" y1="290.6" x2="478.72" y2="296.7" stroke="#2f8a22" stroke-width="1"/>
<rect x="477.32" y="290.6" width="2.8" height="4.7" fill="#2f8a22"/>
<line x1="482.24" y1="290.6" x2="482.24" y2="300.1" stroke="#e3141b" stroke-width="1"/>
<rect x="480.84" y="290.6" width="2.8" height="8.7" fill="#e3141b"/>
<line x1="485.76" y1="295.3" x2="485.76" y2="304.8" stroke="#2f8a22" stroke-width="1"/>
<rect x="484.36" y="296.7" width="2.8" height="3.4" fill="#2f8a22"/>
<line x1="489.28" y1="290.6" x2="489.28" y2="303.4" stroke="#e3141b" stroke-width="1"/>
<rect x="487.88" y="295.3" width="2.8" height="2.7" fill="#e3141b"/>
<line x1="492.79" y1="295.3" x2="492.79" y2="302.7" stroke="#2f8a22" stroke-width="1"/>
<rect x="491.39" y="296.0" width="2.8" height="4.0" fill="#2f8a22"/>
<line x1="496.31" y1="285.9" x2="496.31" y2="298.7" stroke="#e3141b" stroke-width="1"/>
<rect x="494.91" y="288.6" width="2.8" height="8.1" fill="#e3141b"/>
<line x1="499.83" y1="290.6" x2="499.83" y2="299.4" stroke="#e3141b" stroke-width="1"/>
<rect x="498.43" y="295.3" width="2.8" height="2.7" fill="#e3141b"/>
<line x1="503.35" y1="282.6" x2="503.35" y2="296.0" stroke="#2f8a22" stroke-width="1"/>
<rect x="501.95" y="287.9" width="2.8" height="6.1" fill="#2f8a22"/>
<line x1="506.87" y1="279.9" x2="506.87" y2="284.6" stroke="#2f8a22" stroke-width="1"/>
<rect x="505.47" y="280.6" width="2.8" height="4.0" fill="#2f8a22"/>
<line x1="510.38" y1="275.2" x2="510.38" y2="288.6" stroke="#2f8a22" stroke-width="1"/>
<rect x="508.99" y="275.4" width="2.8" height="9.8" fill="#2f8a22"/>
<line x1="513.90" y1="267.1" x2="513.90" y2="277.2" stroke="#2f8a22" stroke-width="1"/>
<rect x="512.50" y="272.5" width="2.8" height="4.0" fill="#2f8a22"/>
<line x1="517.42" y1="269.1" x2="517.42" y2="273.8" stroke="#e3141b" stroke-width="1"/>
<rect x="516.02" y="271.1" width="2.8" height="2.0" fill="#e3141b"/>
<line x1="520.94" y1="269.8" x2="520.94" y2="277.9" stroke="#2f8a22" stroke-width="1"/>
<rect x="519.54" y="270.5" width="2.8" height="6.7" fill="#2f8a22"/>
<line x1="524.46" y1="267.1" x2="524.46" y2="273.8" stroke="#2f8a22" stroke-width="1"/>
<rect x="523.06" y="267.4" width="2.8" height="5.1" fill="#2f8a22"/>
<line x1="527.98" y1="266.4" x2="527.98" y2="274.5" stroke="#e3141b" stroke-width="1"/>
<rect x="526.58" y="267.1" width="2.8" height="3.4" fill="#e3141b"/>
<line x1="531.49" y1="269.8" x2="531.49" y2="276.5" stroke="#2f8a22" stroke-width="1"/>
<rect x="530.09" y="269.8" width="2.8" height="2.0" fill="#2f8a22"/>
<line x1="535.01" y1="263.1" x2="535.01" y2="274.5" stroke="#2f8a22" stroke-width="1"/>
<rect x="533.61" y="267.1" width="2.8" height="6.7" fill="#2f8a22"/>
<line x1="538.53" y1="263.1" x2="538.53" y2="271.8" stroke="#e3141b" stroke-width="1"/>
<rect x="537.13" y="263.3" width="2.8" height="5.1" fill="#e3141b"/>
<line x1="542.05" y1="262.3" x2="542.05" y2="269.4" stroke="#2f8a22" stroke-width="1"/>
<rect x="540.65" y="263.3" width="2.8" height="6.0" fill="#2f8a22"/>
<line x1="545.57" y1="255.2" x2="545.57" y2="263.8" stroke="#2f8a22" stroke-width="1"/>
<rect x="544.17" y="255.2" width="2.8" height="7.1" fill="#2f8a22"/>
<line x1="549.08" y1="251.7" x2="549.08" y2="260.8" stroke="#2f8a22" stroke-width="1"/>
<rect x="547.68" y="255.2" width="2.8" height="4.5" fill="#2f8a22"/>
<line x1="552.60" y1="251.2" x2="552.60" y2="261.3" stroke="#2f8a22" stroke-width="1"/>
<rect x="551.20" y="254.2" width="2.8" height="3.0" fill="#2f8a22"/>
<line x1="556.12" y1="245.7" x2="556.12" y2="255.8" stroke="#2f8a22" stroke-width="1"/>
<rect x="554.72" y="250.2" width="2.8" height="5.5" fill="#2f8a22"/>
<line x1="559.64" y1="244.2" x2="559.64" y2="251.2" stroke="#2f8a22" stroke-width="1"/>
<rect x="558.24" y="245.2" width="2.8" height="4.0" fill="#2f8a22"/>
<line x1="563.15" y1="247.2" x2="563.15" y2="254.7" stroke="#e3141b" stroke-width="1"/>
<rect x="561.75" y="248.7" width="2.8" height="5.5" fill="#e3141b"/>
<line x1="566.67" y1="249.2" x2="566.67" y2="262.3" stroke="#2f8a22" stroke-width="1"/>
<rect x="565.27" y="252.7" width="2.8" height="9.6" fill="#2f8a22"/>
<line x1="570.19" y1="247.2" x2="570.19" y2="255.2" stroke="#2f8a22" stroke-width="1"/>
<rect x="568.79" y="254.0" width="2.8" height="1.0" fill="#2f8a22"/>
<line x1="573.71" y1="249.2" x2="573.71" y2="254.7" stroke="#2f8a22" stroke-width="1"/>
<rect x="572.31" y="249.7" width="2.8" height="3.0" fill="#2f8a22"/>
<line x1="577.23" y1="249.2" x2="577.23" y2="254.7" stroke="#e3141b" stroke-width="1"/>
<rect x="575.83" y="251.7" width="2.8" height="2.5" fill="#e3141b"/>
<line x1="580.75" y1="246.2" x2="580.75" y2="256.8" stroke="#2f8a22" stroke-width="1"/>
<rect x="579.35" y="250.2" width="2.8" height="4.0" fill="#2f8a22"/>
<line x1="584.26" y1="244.7" x2="584.26" y2="248.7" stroke="#2f8a22" stroke-width="1"/>
<rect x="582.86" y="245.2" width="2.8" height="3.0" fill="#2f8a22"/>
<line x1="587.78" y1="243.7" x2="587.78" y2="253.2" stroke="#e3141b" stroke-width="1"/>
<rect x="586.38" y="244.2" width="2.8" height="7.6" fill="#e3141b"/>
<line x1="591.30" y1="246.2" x2="591.30" y2="250.7" stroke="#2f8a22" stroke-width="1"/>
<rect x="589.90" y="248.2" width="2.8" height="2.0" fill="#2f8a22"/>
<line x1="594.82" y1="235.6" x2="594.82" y2="244.2" stroke="#2f8a22" stroke-width="1"/>
<rect x="593.42" y="239.1" width="2.8" height="4.0" fill="#2f8a22"/>
<line x1="598.34" y1="234.6" x2="598.34" y2="238.6" stroke="#e3141b" stroke-width="1"/>
<rect x="596.94" y="236.1" width="2.8" height="2.5" fill="#e3141b"/>
<line x1="601.85" y1="240.1" x2="601.85" y2="249.7" stroke="#e3141b" stroke-width="1"/>
<rect x="600.45" y="240.3" width="2.8" height="7.4" fill="#e3141b"/>
<line x1="605.37" y1="245.7" x2="605.37" y2="250.7" stroke="#2f8a22" stroke-width="1"/>
<rect x="603.97" y="246.7" width="2.8" height="4.0" fill="#2f8a22"/>
<line x1="608.89" y1="246.2" x2="608.89" y2="257.8" stroke="#e3141b" stroke-width="1"/>
<rect x="607.49" y="247.0" width="2.8" height="8.8" fill="#e3141b"/>
<line x1="612.41" y1="250.7" x2="612.41" y2="263.3" stroke="#e3141b" stroke-width="1"/>
<rect x="611.01" y="251.7" width="2.8" height="11.1" fill="#e3141b"/>
<line x1="615.93" y1="255.2" x2="615.93" y2="263.8" stroke="#2f8a22" stroke-width="1"/>
<rect x="614.53" y="257.8" width="2.8" height="1.5" fill="#2f8a22"/>
<line x1="619.44" y1="256.8" x2="619.44" y2="260.8" stroke="#2f8a22" stroke-width="1"/>
<rect x="618.04" y="258.8" width="2.8" height="1.0" fill="#2f8a22"/>
<line x1="622.96" y1="253.7" x2="622.96" y2="262.8" stroke="#e3141b" stroke-width="1"/>
<rect x="621.56" y="254.2" width="2.8" height="7.6" fill="#e3141b"/>
<line x1="626.48" y1="260.8" x2="626.48" y2="271.4" stroke="#e3141b" stroke-width="1"/>
<rect x="625.08" y="262.8" width="2.8" height="8.1" fill="#e3141b"/>
<line x1="630.00" y1="265.8" x2="630.00" y2="275.4" stroke="#e3141b" stroke-width="1"/>
<rect x="628.60" y="266.3" width="2.8" height="9.1" fill="#e3141b"/>
<line x1="633.51" y1="272.4" x2="633.51" y2="277.4" stroke="#2f8a22" stroke-width="1"/>
<rect x="632.12" y="275.9" width="2.8" height="1.0" fill="#2f8a22"/>
<line x1="637.03" y1="267.3" x2="637.03" y2="273.9" stroke="#e3141b" stroke-width="1"/>
<rect x="635.63" y="270.9" width="2.8" height="2.5" fill="#e3141b"/>
<line x1="640.55" y1="268.4" x2="640.55" y2="273.9" stroke="#e3141b" stroke-width="1"/>
<rect x="639.15" y="270.4" width="2.8" height="3.0" fill="#e3141b"/>
<line x1="644.07" y1="267.3" x2="644.07" y2="274.9" stroke="#2f8a22" stroke-width="1"/>
<rect x="642.67" y="268.4" width="2.8" height="6.0" fill="#2f8a22"/>
<line x1="647.59" y1="262.4" x2="647.59" y2="271.2" stroke="#e3141b" stroke-width="1"/>
<rect x="646.19" y="264.8" width="2.8" height="4.8" fill="#e3141b"/>
<line x1="651.11" y1="264.0" x2="651.11" y2="274.7" stroke="#2f8a22" stroke-width="1"/>
<rect x="649.71" y="264.5" width="2.8" height="9.9" fill="#2f8a22"/>
<line x1="654.62" y1="249.7" x2="654.62" y2="263.2" stroke="#2f8a22" stroke-width="1"/>
<rect x="653.22" y="253.6" width="2.8" height="8.8" fill="#2f8a22"/>
<line x1="658.14" y1="244.9" x2="658.14" y2="252.0" stroke="#e3141b" stroke-width="1"/>
<rect x="656.74" y="246.5" width="2.8" height="5.6" fill="#e3141b"/>
<line x1="661.66" y1="245.7" x2="661.66" y2="262.4" stroke="#2f8a22" stroke-width="1"/>
<rect x="660.26" y="248.9" width="2.8" height="6.4" fill="#2f8a22"/>
<line x1="665.18" y1="243.3" x2="665.18" y2="248.1" stroke="#2f8a22" stroke-width="1"/>
<rect x="663.78" y="244.1" width="2.8" height="4.0" fill="#2f8a22"/>
<line x1="668.70" y1="217.7" x2="668.70" y2="244.9" stroke="#2f8a22" stroke-width="1"/>
<rect x="667.30" y="228.8" width="2.8" height="1.0" fill="#2f8a22"/>
<line x1="672.21" y1="227.3" x2="672.21" y2="238.5" stroke="#e3141b" stroke-width="1"/>
<rect x="670.81" y="228.9" width="2.8" height="5.6" fill="#e3141b"/>
<line x1="675.73" y1="219.3" x2="675.73" y2="230.5" stroke="#2f8a22" stroke-width="1"/>
<rect x="674.33" y="221.7" width="2.8" height="8.8" fill="#2f8a22"/>
<line x1="679.25" y1="216.1" x2="679.25" y2="230.5" stroke="#2f8a22" stroke-width="1"/>
<rect x="677.85" y="220.9" width="2.8" height="6.4" fill="#2f8a22"/>
<line x1="682.77" y1="208.9" x2="682.77" y2="224.9" stroke="#2f8a22" stroke-width="1"/>
<rect x="681.37" y="212.1" width="2.8" height="10.4" fill="#2f8a22"/>
<line x1="686.28" y1="210.5" x2="686.28" y2="225.7" stroke="#e3141b" stroke-width="1"/>
<rect x="684.88" y="211.3" width="2.8" height="1.6" fill="#e3141b"/>
<line x1="689.80" y1="208.1" x2="689.80" y2="215.3" stroke="#e3141b" stroke-width="1"/>
<rect x="688.40" y="208.9" width="2.8" height="1.6" fill="#e3141b"/>
<line x1="693.32" y1="201.0" x2="693.32" y2="208.9" stroke="#2f8a22" stroke-width="1"/>
<rect x="691.92" y="201.8" width="2.8" height="5.6" fill="#2f8a22"/>
<line x1="696.84" y1="198.6" x2="696.84" y2="207.3" stroke="#e3141b" stroke-width="1"/>
<rect x="695.44" y="199.4" width="2.8" height="8.0" fill="#e3141b"/>
<line x1="700.36" y1="199.4" x2="700.36" y2="205.8" stroke="#2f8a22" stroke-width="1"/>
<rect x="698.96" y="200.2" width="2.8" height="4.8" fill="#2f8a22"/>
<line x1="703.88" y1="191.4" x2="703.88" y2="200.6" stroke="#2f8a22" stroke-width="1"/>
<rect x="702.48" y="192.2" width="2.8" height="8.0" fill="#2f8a22"/>
<line x1="707.39" y1="188.2" x2="707.39" y2="198.6" stroke="#e3141b" stroke-width="1"/>
<rect x="705.99" y="192.2" width="2.8" height="6.4" fill="#e3141b"/>
<line x1="710.91" y1="196.2" x2="710.91" y2="203.4" stroke="#2f8a22" stroke-width="1"/>
<rect x="709.51" y="197.0" width="2.8" height="3.2" fill="#2f8a22"/>
<line x1="714.43" y1="195.4" x2="714.43" y2="200.2" stroke="#2f8a22" stroke-width="1"/>
<rect x="713.03" y="197.0" width="2.8" height="3.2" fill="#2f8a22"/>
<line x1="717.95" y1="195.4" x2="717.95" y2="201.0" stroke="#e3141b" stroke-width="1"/>
<rect x="716.55" y="195.9" width="2.8" height="1.9" fill="#e3141b"/>
<line x1="721.47" y1="197.0" x2="721.47" y2="203.8" stroke="#e3141b" stroke-width="1"/>
<rect x="720.07" y="197.5" width="2.8" height="5.1" fill="#e3141b"/>
<line x1="724.98" y1="197.8" x2="724.98" y2="203.4" stroke="#2f8a22" stroke-width="1"/>
<rect x="723.58" y="198.6" width="2.8" height="4.0" fill="#2f8a22"/>
<line x1="728.50" y1="190.6" x2="728.50" y2="197.0" stroke="#2f8a22" stroke-width="1"/>
<rect x="727.10" y="191.4" width="2.8" height="4.0" fill="#2f8a22"/>
<line x1="732.02" y1="193.8" x2="732.02" y2="197.0" stroke="#e3141b" stroke-width="1"/>
<rect x="730.62" y="194.3" width="2.8" height="1.9" fill="#e3141b"/>
<line x1="735.54" y1="193.0" x2="735.54" y2="205.8" stroke="#e3141b" stroke-width="1"/>
<rect x="734.14" y="197.8" width="2.8" height="8.0" fill="#e3141b"/>
<line x1="739.06" y1="201.8" x2="739.06" y2="208.9" stroke="#e3141b" stroke-width="1"/>
<rect x="737.66" y="203.4" width="2.8" height="5.6" fill="#e3141b"/>
<line x1="742.57" y1="205.8" x2="742.57" y2="222.5" stroke="#e3141b" stroke-width="1"/>
<rect x="741.17" y="212.1" width="2.8" height="9.6" fill="#e3141b"/>
<line x1="746.09" y1="220.9" x2="746.09" y2="227.3" stroke="#e3141b" stroke-width="1"/>
<rect x="744.69" y="222.5" width="2.8" height="4.0" fill="#e3141b"/>
<line x1="749.61" y1="225.7" x2="749.61" y2="231.3" stroke="#e3141b" stroke-width="1"/>
<rect x="748.21" y="227.3" width="2.8" height="4.0" fill="#e3141b"/>
<rect x="751.73" y="211.4" width="2.8" height="19.3" fill="#2f8a22"/>
<line x1="756.64" y1="208.6" x2="756.64" y2="221.4" stroke="#2f8a22" stroke-width="1"/>
<rect x="755.25" y="212.9" width="2.8" height="4.3" fill="#2f8a22"/>
<line x1="760.16" y1="202.1" x2="760.16" y2="215.7" stroke="#2f8a22" stroke-width="1"/>
<rect x="758.76" y="203.6" width="2.8" height="11.4" fill="#2f8a22"/>
<line x1="763.68" y1="202.1" x2="763.68" y2="209.3" stroke="#e3141b" stroke-width="1"/>
<rect x="762.28" y="204.3" width="2.8" height="1.4" fill="#e3141b"/>
<line x1="767.20" y1="197.1" x2="767.20" y2="205.7" stroke="#2f8a22" stroke-width="1"/>
<rect x="765.80" y="202.1" width="2.8" height="2.9" fill="#2f8a22"/>
<line x1="770.72" y1="197.1" x2="770.72" y2="204.3" stroke="#e3141b" stroke-width="1"/>
<rect x="769.32" y="200.7" width="2.8" height="2.9" fill="#e3141b"/>
<line x1="774.24" y1="202.1" x2="774.24" y2="210.0" stroke="#2f8a22" stroke-width="1"/>
<rect x="772.84" y="202.9" width="2.8" height="2.1" fill="#2f8a22"/>
<line x1="777.75" y1="202.1" x2="777.75" y2="211.4" stroke="#2f8a22" stroke-width="1"/>
<rect x="776.35" y="202.7" width="2.8" height="1.0" fill="#2f8a22"/>
<line x1="781.27" y1="202.1" x2="781.27" y2="212.1" stroke="#e3141b" stroke-width="1"/>
<rect x="779.87" y="203.6" width="2.8" height="7.1" fill="#e3141b"/>
<line x1="784.79" y1="194.3" x2="784.79" y2="207.1" stroke="#2f8a22" stroke-width="1"/>
<rect x="783.39" y="195.0" width="2.8" height="11.4" fill="#2f8a22"/>
<line x1="788.31" y1="196.4" x2="788.31" y2="203.6" stroke="#2f8a22" stroke-width="1"/>
<rect x="786.91" y="197.1" width="2.8" height="1.4" fill="#2f8a22"/>
<line x1="791.83" y1="183.6" x2="791.83" y2="200.7" stroke="#2f8a22" stroke-width="1"/>
<rect x="790.43" y="184.3" width="2.8" height="12.9" fill="#2f8a22"/>
<line x1="795.34" y1="174.3" x2="795.34" y2="186.4" stroke="#2f8a22" stroke-width="1"/>
<rect x="793.94" y="175.0" width="2.8" height="11.4" fill="#2f8a22"/>
<line x1="798.86" y1="170.7" x2="798.86" y2="180.7" stroke="#2f8a22" stroke-width="1"/>
<rect x="797.46" y="175.0" width="2.8" height="2.1" fill="#2f8a22"/>
<line x1="802.38" y1="169.3" x2="802.38" y2="176.4" stroke="#2f8a22" stroke-width="1"/>
<rect x="800.98" y="172.1" width="2.8" height="4.3" fill="#2f8a22"/>
<line x1="805.90" y1="156.4" x2="805.90" y2="172.1" stroke="#2f8a22" stroke-width="1"/>
<rect x="804.50" y="156.4" width="2.8" height="9.3" fill="#2f8a22"/>
<line x1="809.41" y1="156.0" x2="809.41" y2="162.1" stroke="#e3141b" stroke-width="1"/>
<rect x="808.01" y="156.4" width="2.8" height="2.9" fill="#e3141b"/>
<line x1="812.93" y1="162.1" x2="812.93" y2="166.4" stroke="#2f8a22" stroke-width="1"/>
<rect x="811.53" y="163.6" width="2.8" height="2.1" fill="#2f8a22"/>
<line x1="816.45" y1="160.7" x2="816.45" y2="167.9" stroke="#e3141b" stroke-width="1"/>
<rect x="815.05" y="162.9" width="2.8" height="2.1" fill="#e3141b"/>
<line x1="819.97" y1="162.1" x2="819.97" y2="176.4" stroke="#e3141b" stroke-width="1"/>
<rect x="818.57" y="162.9" width="2.8" height="12.1" fill="#e3141b"/>
<line x1="823.49" y1="170.0" x2="823.49" y2="188.6" stroke="#e3141b" stroke-width="1"/>
<rect x="822.09" y="170.7" width="2.8" height="17.1" fill="#e3141b"/>
<line x1="827.00" y1="181.4" x2="827.00" y2="192.9" stroke="#2f8a22" stroke-width="1"/>
<rect x="825.61" y="182.1" width="2.8" height="7.1" fill="#2f8a22"/>
<line x1="830.52" y1="182.1" x2="830.52" y2="187.1" stroke="#2f8a22" stroke-width="1"/>
<rect x="829.12" y="184.3" width="2.8" height="2.1" fill="#2f8a22"/>
<line x1="834.04" y1="172.9" x2="834.04" y2="184.6" stroke="#2f8a22" stroke-width="1"/>
<rect x="832.64" y="174.0" width="2.8" height="10.3" fill="#2f8a22"/>
<line x1="837.56" y1="166.4" x2="837.56" y2="173.6" stroke="#2f8a22" stroke-width="1"/>
<rect x="836.16" y="170.0" width="2.8" height="2.9" fill="#2f8a22"/>
<line x1="841.08" y1="168.6" x2="841.08" y2="180.0" stroke="#e3141b" stroke-width="1"/>
<rect x="839.68" y="170.0" width="2.8" height="5.0" fill="#e3141b"/>
<line x1="844.60" y1="168.6" x2="844.60" y2="175.7" stroke="#2f8a22" stroke-width="1"/>
<rect x="843.20" y="171.4" width="2.8" height="2.9" fill="#2f8a22"/>
<line x1="848.11" y1="166.4" x2="848.11" y2="172.1" stroke="#2f8a22" stroke-width="1"/>
<rect x="846.71" y="167.9" width="2.8" height="3.6" fill="#2f8a22"/>
<line x1="851.63" y1="160.0" x2="851.63" y2="166.9" stroke="#2f8a22" stroke-width="1"/>
<rect x="850.23" y="164.3" width="2.8" height="1.4" fill="#2f8a22"/>
<line x1="855.15" y1="162.9" x2="855.15" y2="173.6" stroke="#e3141b" stroke-width="1"/>
<rect x="853.75" y="165.7" width="2.8" height="7.1" fill="#e3141b"/>
<line x1="858.67" y1="166.3" x2="858.67" y2="173.8" stroke="#2f8a22" stroke-width="1"/>
<rect x="857.27" y="167.0" width="2.8" height="5.3" fill="#2f8a22"/>
<line x1="862.18" y1="151.1" x2="862.18" y2="167.8" stroke="#2f8a22" stroke-width="1"/>
<rect x="860.78" y="152.2" width="2.8" height="14.8" fill="#2f8a22"/>
<line x1="865.70" y1="151.1" x2="865.70" y2="162.5" stroke="#e3141b" stroke-width="1"/>
<rect x="864.30" y="154.2" width="2.8" height="6.8" fill="#e3141b"/>
<line x1="869.22" y1="155.7" x2="869.22" y2="168.5" stroke="#e3141b" stroke-width="1"/>
<rect x="867.82" y="156.4" width="2.8" height="9.1" fill="#e3141b"/>
<line x1="872.74" y1="164.7" x2="872.74" y2="171.6" stroke="#e3141b" stroke-width="1"/>
<rect x="871.34" y="165.2" width="2.8" height="1.8" fill="#e3141b"/>
<line x1="876.26" y1="164.7" x2="876.26" y2="179.9" stroke="#e3141b" stroke-width="1"/>
<rect x="874.86" y="165.5" width="2.8" height="14.4" fill="#e3141b"/>
<line x1="879.77" y1="174.6" x2="879.77" y2="189.7" stroke="#2f8a22" stroke-width="1"/>
<rect x="878.38" y="179.1" width="2.8" height="9.8" fill="#2f8a22"/>
<line x1="883.29" y1="162.5" x2="883.29" y2="180.6" stroke="#e3141b" stroke-width="1"/>
<rect x="881.89" y="174.6" width="2.8" height="5.3" fill="#e3141b"/>
<line x1="886.81" y1="142.1" x2="886.81" y2="162.5" stroke="#2f8a22" stroke-width="1"/>
<rect x="885.41" y="152.6" width="2.8" height="4.5" fill="#2f8a22"/>
<line x1="890.33" y1="134.5" x2="890.33" y2="149.6" stroke="#2f8a22" stroke-width="1"/>
<rect x="888.93" y="138.3" width="2.8" height="1.5" fill="#2f8a22"/>
<line x1="893.85" y1="141.3" x2="893.85" y2="161.7" stroke="#2f8a22" stroke-width="1"/>
<rect x="892.45" y="142.8" width="2.8" height="14.4" fill="#2f8a22"/>
<line x1="897.37" y1="141.3" x2="897.37" y2="161.7" stroke="#e3141b" stroke-width="1"/>
<rect x="895.97" y="142.8" width="2.8" height="12.1" fill="#e3141b"/>
<line x1="900.88" y1="137.5" x2="900.88" y2="158.7" stroke="#2f8a22" stroke-width="1"/>
<rect x="899.48" y="139.0" width="2.8" height="12.9" fill="#2f8a22"/>
<line x1="904.40" y1="117.9" x2="904.40" y2="140.5" stroke="#2f8a22" stroke-width="1"/>
<rect x="903.00" y="122.4" width="2.8" height="7.6" fill="#2f8a22"/>
<line x1="907.92" y1="109.5" x2="907.92" y2="148.1" stroke="#e3141b" stroke-width="1"/>
<rect x="906.52" y="120.1" width="2.8" height="19.7" fill="#e3141b"/>
<line x1="911.44" y1="114.8" x2="911.44" y2="136.8" stroke="#2f8a22" stroke-width="1"/>
<rect x="910.04" y="123.2" width="2.8" height="12.9" fill="#2f8a22"/>
<line x1="914.96" y1="111.1" x2="914.96" y2="126.9" stroke="#e3141b" stroke-width="1"/>
<rect x="913.56" y="123.2" width="2.8" height="3.0" fill="#e3141b"/>
<line x1="918.47" y1="119.4" x2="918.47" y2="136.0" stroke="#2f8a22" stroke-width="1"/>
<rect x="917.07" y="123.2" width="2.8" height="10.6" fill="#2f8a22"/>
<line x1="921.99" y1="123.2" x2="921.99" y2="135.3" stroke="#e3141b" stroke-width="1"/>
<rect x="920.59" y="124.7" width="2.8" height="3.8" fill="#e3141b"/>
<line x1="925.51" y1="130.0" x2="925.51" y2="141.3" stroke="#e3141b" stroke-width="1"/>
<rect x="924.11" y="131.5" width="2.8" height="4.5" fill="#e3141b"/>
<line x1="929.03" y1="133.0" x2="929.03" y2="148.9" stroke="#e3141b" stroke-width="1"/>
<rect x="927.63" y="133.7" width="2.8" height="8.3" fill="#e3141b"/>
<line x1="932.54" y1="125.4" x2="932.54" y2="149.6" stroke="#2f8a22" stroke-width="1"/>
<rect x="931.14" y="126.9" width="2.8" height="18.9" fill="#2f8a22"/>
<line x1="936.06" y1="120.1" x2="936.06" y2="136.8" stroke="#e3141b" stroke-width="1"/>
<rect x="934.66" y="124.7" width="2.8" height="11.3" fill="#e3141b"/>
<line x1="939.58" y1="128.4" x2="939.58" y2="136.0" stroke="#2f8a22" stroke-width="1"/>
<rect x="938.18" y="129.2" width="2.8" height="3.8" fill="#2f8a22"/>
<line x1="943.10" y1="126.9" x2="943.10" y2="132.2" stroke="#e3141b" stroke-width="1"/>
<rect x="941.70" y="129.2" width="2.8" height="2.3" fill="#e3141b"/>
<line x1="946.62" y1="119.4" x2="946.62" y2="131.1" stroke="#2f8a22" stroke-width="1"/>
<rect x="945.22" y="120.1" width="2.8" height="10.2" fill="#2f8a22"/>
<line x1="950.13" y1="114.3" x2="950.13" y2="123.8" stroke="#2f8a22" stroke-width="1"/>
<rect x="948.74" y="115.7" width="2.8" height="3.7" fill="#2f8a22"/>
<line x1="953.65" y1="109.9" x2="953.65" y2="115.7" stroke="#2f8a22" stroke-width="1"/>
<rect x="952.25" y="111.3" width="2.8" height="1.5" fill="#2f8a22"/>
<line x1="957.17" y1="108.4" x2="957.17" y2="119.4" stroke="#e3141b" stroke-width="1"/>
<rect x="955.77" y="109.1" width="2.8" height="9.5" fill="#e3141b"/>
<line x1="960.69" y1="100.4" x2="960.69" y2="110.9" stroke="#2f8a22" stroke-width="1"/>
<rect x="959.29" y="101.1" width="2.8" height="9.5" fill="#2f8a22"/>
<line x1="964.21" y1="92.3" x2="964.21" y2="105.5" stroke="#2f8a22" stroke-width="1"/>
<rect x="962.81" y="93.8" width="2.8" height="6.6" fill="#2f8a22"/>
<line x1="967.73" y1="87.2" x2="967.73" y2="100.4" stroke="#e3141b" stroke-width="1"/>
<rect x="966.33" y="89.4" width="2.8" height="6.6" fill="#e3141b"/>
<line x1="971.24" y1="92.3" x2="971.24" y2="99.6" stroke="#2f8a22" stroke-width="1"/>
<rect x="969.84" y="94.5" width="2.8" height="1.5" fill="#2f8a22"/>
<line x1="974.76" y1="87.2" x2="974.76" y2="95.7" stroke="#2f8a22" stroke-width="1"/>
<rect x="973.36" y="88.0" width="2.8" height="6.6" fill="#2f8a22"/>
<line x1="978.28" y1="75.5" x2="978.28" y2="89.9" stroke="#2f8a22" stroke-width="1"/>
<rect x="976.88" y="76.3" width="2.8" height="13.2" fill="#2f8a22"/>
<line x1="981.80" y1="66.0" x2="981.80" y2="77.0" stroke="#2f8a22" stroke-width="1"/>
<rect x="980.40" y="67.5" width="2.8" height="6.6" fill="#2f8a22"/>
<line x1="985.31" y1="62.4" x2="985.31" y2="73.3" stroke="#e3141b" stroke-width="1"/>
<rect x="983.91" y="66.0" width="2.8" height="4.4" fill="#e3141b"/>
<line x1="988.83" y1="65.3" x2="988.83" y2="77.0" stroke="#e3141b" stroke-width="1"/>
<rect x="987.43" y="69.7" width="2.8" height="7.0" fill="#e3141b"/>
<line x1="992.35" y1="76.3" x2="992.35" y2="88.7" stroke="#e3141b" stroke-width="1"/>
<rect x="990.95" y="80.6" width="2.8" height="3.4" fill="#e3141b"/>
<line x1="995.87" y1="77.0" x2="995.87" y2="88.0" stroke="#e3141b" stroke-width="1"/>
<rect x="994.47" y="83.6" width="2.8" height="2.2" fill="#e3141b"/>
<line x1="999.39" y1="88.7" x2="999.39" y2="104.0" stroke="#e3141b" stroke-width="1"/>
<rect x="997.99" y="89.4" width="2.8" height="2.2" fill="#e3141b"/>
<line x1="1002.90" y1="88.7" x2="1002.90" y2="99.6" stroke="#2f8a22" stroke-width="1"/>
<rect x="1001.50" y="89.4" width="2.8" height="5.1" fill="#2f8a22"/>
<line x1="1006.42" y1="90.9" x2="1006.42" y2="101.1" stroke="#2f8a22" stroke-width="1"/>
<rect x="1005.02" y="94.5" width="2.8" height="2.2" fill="#2f8a22"/>
<line x1="1009.94" y1="93.8" x2="1009.94" y2="101.1" stroke="#2f8a22" stroke-width="1"/>
<rect x="1008.54" y="98.2" width="2.8" height="2.2" fill="#2f8a22"/>
<line x1="1013.46" y1="98.9" x2="1013.46" y2="109.1" stroke="#e3141b" stroke-width="1"/>
<rect x="1012.06" y="103.3" width="2.8" height="2.9" fill="#e3141b"/>
<line x1="1016.98" y1="104.8" x2="1016.98" y2="127.4" stroke="#e3141b" stroke-width="1"/>
<rect x="1015.58" y="109.9" width="2.8" height="8.8" fill="#e3141b"/>
<rect x="1019.10" y="119.4" width="2.8" height="10.2" fill="#e3141b"/>
<line x1="1024.01" y1="119.4" x2="1024.01" y2="130.3" stroke="#2f8a22" stroke-width="1"/>
<rect x="1022.61" y="120.1" width="2.8" height="7.3" fill="#2f8a22"/>
<line x1="1027.53" y1="109.9" x2="1027.53" y2="124.5" stroke="#2f8a22" stroke-width="1"/>
<rect x="1026.13" y="117.9" width="2.8" height="5.8" fill="#2f8a22"/>
<line x1="1031.05" y1="110.5" x2="1031.05" y2="122.5" stroke="#2f8a22" stroke-width="1"/>
<rect x="1029.65" y="113.1" width="2.8" height="3.4" fill="#2f8a22"/>
<line x1="1034.57" y1="107.1" x2="1034.57" y2="116.5" stroke="#e3141b" stroke-width="1"/>
<rect x="1033.17" y="110.5" width="2.8" height="3.4" fill="#e3141b"/>
<line x1="1038.08" y1="111.1" x2="1038.08" y2="127.2" stroke="#2f8a22" stroke-width="1"/>
<rect x="1036.68" y="119.2" width="2.8" height="6.0" fill="#2f8a22"/>
<line x1="1041.60" y1="112.5" x2="1041.60" y2="122.5" stroke="#2f8a22" stroke-width="1"/>
<rect x="1040.20" y="114.5" width="2.8" height="8.1" fill="#2f8a22"/>
<line x1="1045.12" y1="109.1" x2="1045.12" y2="116.5" stroke="#e3141b" stroke-width="1"/>
<rect x="1043.72" y="110.5" width="2.8" height="3.4" fill="#e3141b"/>
<line x1="1048.64" y1="113.1" x2="1048.64" y2="128.6" stroke="#e3141b" stroke-width="1"/>
<rect x="1047.24" y="113.5" width="2.8" height="14.4" fill="#e3141b"/>
<line x1="1052.16" y1="125.9" x2="1052.16" y2="132.6" stroke="#2a2a2a" stroke-width="1"/>
<rect x="1050.76" y="127.9" width="2.8" height="2.7" fill="#2a2a2a"/>
<line x1="1055.67" y1="132.6" x2="1055.67" y2="149.4" stroke="#e3141b" stroke-width="1"/>
<rect x="1054.27" y="132.9" width="2.8" height="15.9" fill="#e3141b"/>
<line x1="1059.19" y1="149.4" x2="1059.19" y2="161.5" stroke="#e3141b" stroke-width="1"/>
<rect x="1057.79" y="154.1" width="2.8" height="3.4" fill="#e3141b"/>
<line x1="1062.71" y1="148.7" x2="1062.71" y2="161.5" stroke="#e3141b" stroke-width="1"/>
<rect x="1061.31" y="152.1" width="2.8" height="9.4" fill="#e3141b"/>
<line x1="1066.23" y1="141.4" x2="1066.23" y2="166.2" stroke="#2f8a22" stroke-width="1"/>
<rect x="1064.83" y="142.0" width="2.8" height="20.2" fill="#2f8a22"/>
<line x1="1069.75" y1="135.3" x2="1069.75" y2="143.4" stroke="#2f8a22" stroke-width="1"/>
<rect x="1068.35" y="137.3" width="2.8" height="5.4" fill="#2f8a22"/>
<line x1="1073.26" y1="136.7" x2="1073.26" y2="156.8" stroke="#e3141b" stroke-width="1"/>
<rect x="1071.86" y="136.9" width="2.8" height="19.2" fill="#e3141b"/>
<line x1="1076.78" y1="146.1" x2="1076.78" y2="156.8" stroke="#2f8a22" stroke-width="1"/>
<rect x="1075.38" y="146.7" width="2.8" height="4.7" fill="#2f8a22"/>
<line x1="1080.30" y1="140.7" x2="1080.30" y2="147.7" stroke="#2f8a22" stroke-width="1"/>
<rect x="1078.90" y="141.4" width="2.8" height="6.0" fill="#2f8a22"/>
<line x1="1083.82" y1="123.9" x2="1083.82" y2="140.0" stroke="#2f8a22" stroke-width="1"/>
<rect x="1082.42" y="134.0" width="2.8" height="5.4" fill="#2f8a22"/>
<line x1="1087.34" y1="134.6" x2="1087.34" y2="141.4" stroke="#2f8a22" stroke-width="1"/>
<rect x="1085.94" y="136.0" width="2.8" height="4.0" fill="#2f8a22"/>
<line x1="1090.85" y1="130.6" x2="1090.85" y2="146.7" stroke="#e3141b" stroke-width="1"/>
<rect x="1089.45" y="131.0" width="2.8" height="12.4" fill="#e3141b"/>
<line x1="1094.37" y1="142.7" x2="1094.37" y2="158.2" stroke="#2f8a22" stroke-width="1"/>
<rect x="1092.97" y="144.0" width="2.8" height="6.0" fill="#2f8a22"/>
<line x1="1097.89" y1="142.7" x2="1097.89" y2="154.1" stroke="#e3141b" stroke-width="1"/>
<rect x="1096.49" y="146.7" width="2.8" height="6.7" fill="#e3141b"/>
<line x1="1101.41" y1="148.7" x2="1101.41" y2="159.5" stroke="#2f8a22" stroke-width="1"/>
<rect x="1100.01" y="150.8" width="2.8" height="8.7" fill="#2f8a22"/>
<line x1="1104.93" y1="150.1" x2="1104.93" y2="158.2" stroke="#e3141b" stroke-width="1"/>
<rect x="1103.53" y="153.5" width="2.8" height="4.7" fill="#e3141b"/>
<line x1="1108.44" y1="148.7" x2="1108.44" y2="157.5" stroke="#2f8a22" stroke-width="1"/>
<rect x="1107.04" y="150.1" width="2.8" height="7.0" fill="#2f8a22"/>
<line x1="1111.96" y1="168.1" x2="1111.96" y2="190.9" stroke="#e3141b" stroke-width="1"/>
<rect x="1110.56" y="178.8" width="2.8" height="9.4" fill="#e3141b"/>
<line x1="1115.48" y1="178.1" x2="1115.48" y2="192.0" stroke="#2f8a22" stroke-width="1"/>
<rect x="1114.08" y="185.8" width="2.8" height="6.2" fill="#2f8a22"/>
<line x1="1119.00" y1="188.2" x2="1119.00" y2="197.6" stroke="#e3141b" stroke-width="1"/>
<rect x="1117.60" y="193.3" width="2.8" height="3.6" fill="#e3141b"/>
<line x1="1122.52" y1="191.6" x2="1122.52" y2="201.7" stroke="#2f8a22" stroke-width="1"/>
<rect x="1121.12" y="195.2" width="2.8" height="2.4" fill="#2f8a22"/>
<line x1="1126.03" y1="190.6" x2="1126.03" y2="205.7" stroke="#e3141b" stroke-width="1"/>
<rect x="1124.63" y="197.0" width="2.8" height="8.7" fill="#e3141b"/>
<line x1="1129.55" y1="196.3" x2="1129.55" y2="209.7" stroke="#e3141b" stroke-width="1"/>
<rect x="1128.15" y="203.0" width="2.8" height="6.4" fill="#e3141b"/>
<line x1="1133.07" y1="200.3" x2="1133.07" y2="209.7" stroke="#2f8a22" stroke-width="1"/>
<rect x="1131.67" y="205.7" width="2.8" height="3.4" fill="#2f8a22"/>
<line x1="1136.59" y1="198.3" x2="1136.59" y2="209.7" stroke="#2f8a22" stroke-width="1"/>
<rect x="1135.19" y="199.0" width="2.8" height="10.1" fill="#2f8a22"/>
<line x1="1140.11" y1="196.0" x2="1140.11" y2="237.9" stroke="#e3141b" stroke-width="1"/>
<rect x="1138.71" y="196.3" width="2.8" height="41.0" fill="#e3141b"/>
<line x1="1143.62" y1="223.8" x2="1143.62" y2="235.2" stroke="#e3141b" stroke-width="1"/>
<rect x="1142.22" y="230.5" width="2.8" height="1.3" fill="#e3141b"/>
<line x1="1147.14" y1="212.4" x2="1147.14" y2="228.8" stroke="#2f8a22" stroke-width="1"/>
<rect x="1145.74" y="214.8" width="2.8" height="13.7" fill="#2f8a22"/>
<line x1="1150.66" y1="209.0" x2="1150.66" y2="220.5" stroke="#e3141b" stroke-width="1"/>
<rect x="1149.26" y="217.1" width="2.8" height="3.4" fill="#e3141b"/>
<rect x="1152.78" y="208.6" width="2.8" height="16.5" fill="#e3141b"/>
<line x1="1157.70" y1="221.1" x2="1157.70" y2="229.9" stroke="#e3141b" stroke-width="1"/>
<rect x="1156.30" y="221.5" width="2.8" height="7.7" fill="#e3141b"/>
<line x1="1161.21" y1="223.8" x2="1161.21" y2="230.5" stroke="#2f8a22" stroke-width="1"/>
<rect x="1159.81" y="225.2" width="2.8" height="4.7" fill="#2f8a22"/>
<line x1="1164.73" y1="200.3" x2="1164.73" y2="226.5" stroke="#2f8a22" stroke-width="1"/>
<rect x="1163.33" y="206.4" width="2.8" height="19.5" fill="#2f8a22"/>
<line x1="1168.25" y1="191.6" x2="1168.25" y2="211.7" stroke="#2f8a22" stroke-width="1"/>
<rect x="1166.85" y="197.0" width="2.8" height="14.8" fill="#2f8a22"/>
<line x1="1171.77" y1="197.6" x2="1171.77" y2="211.1" stroke="#e3141b" stroke-width="1"/>
<rect x="1170.37" y="198.3" width="2.8" height="8.1" fill="#e3141b"/>
<line x1="1175.29" y1="197.6" x2="1175.29" y2="211.7" stroke="#2f8a22" stroke-width="1"/>
<rect x="1173.89" y="203.0" width="2.8" height="5.4" fill="#2f8a22"/>
<line x1="1178.80" y1="194.3" x2="1178.80" y2="208.4" stroke="#2f8a22" stroke-width="1"/>
<rect x="1177.40" y="199.0" width="2.8" height="1.3" fill="#2f8a22"/>
<line x1="1182.32" y1="188.9" x2="1182.32" y2="199.0" stroke="#e3141b" stroke-width="1"/>
<rect x="1180.92" y="193.6" width="2.8" height="1.6" fill="#e3141b"/>
<line x1="1185.84" y1="186.2" x2="1185.84" y2="192.9" stroke="#e3141b" stroke-width="1"/>
<rect x="1184.44" y="187.5" width="2.8" height="2.7" fill="#e3141b"/>
<line x1="1189.36" y1="178.1" x2="1189.36" y2="190.9" stroke="#2f8a22" stroke-width="1"/>
<rect x="1187.96" y="178.5" width="2.8" height="9.7" fill="#2f8a22"/>
<line x1="1192.88" y1="166.0" x2="1192.88" y2="177.5" stroke="#e3141b" stroke-width="1"/>
<rect x="1191.48" y="175.5" width="2.8" height="2.0" fill="#e3141b"/>
<line x1="1196.39" y1="176.1" x2="1196.39" y2="184.9" stroke="#2f8a22" stroke-width="1"/>
<rect x="1194.99" y="178.1" width="2.8" height="1.3" fill="#2f8a22"/>
<line x1="1199.91" y1="169.4" x2="1199.91" y2="181.5" stroke="#2f8a22" stroke-width="1"/>
<rect x="1198.51" y="173.4" width="2.8" height="4.0" fill="#2f8a22"/>
<line x1="1203.43" y1="173.3" x2="1203.43" y2="204.6" stroke="#e3141b" stroke-width="1"/>
<rect x="1202.03" y="173.3" width="2.8" height="23.9" fill="#e3141b"/>
<line x1="1206.95" y1="193.9" x2="1206.95" y2="204.6" stroke="#2f8a22" stroke-width="1"/>
<rect x="1205.55" y="195.2" width="2.8" height="6.0" fill="#2f8a22"/>
<line x1="1210.47" y1="190.5" x2="1210.47" y2="200.2" stroke="#2f8a22" stroke-width="1"/>
<rect x="1209.07" y="191.6" width="2.8" height="8.1" fill="#2f8a22"/>
<line x1="1213.98" y1="183.1" x2="1213.98" y2="201.0" stroke="#e3141b" stroke-width="1"/>
<rect x="1212.58" y="191.9" width="2.8" height="8.7" fill="#e3141b"/>
<line x1="1217.50" y1="197.9" x2="1217.50" y2="212.7" stroke="#e3141b" stroke-width="1"/>
<rect x="1216.10" y="201.0" width="2.8" height="11.7" fill="#e3141b"/>
<line x1="1221.02" y1="202.0" x2="1221.02" y2="217.4" stroke="#2f8a22" stroke-width="1"/>
<rect x="1219.62" y="203.3" width="2.8" height="11.4" fill="#2f8a22"/>
<line x1="1224.54" y1="195.2" x2="1224.54" y2="214.4" stroke="#e3141b" stroke-width="1"/>
<rect x="1223.14" y="200.6" width="2.8" height="13.4" fill="#e3141b"/>
<line x1="1228.06" y1="202.0" x2="1228.06" y2="214.0" stroke="#2f8a22" stroke-width="1"/>
<rect x="1226.66" y="206.0" width="2.8" height="5.4" fill="#2f8a22"/>
<line x1="1231.57" y1="202.0" x2="1231.57" y2="210.7" stroke="#e3141b" stroke-width="1"/>
<rect x="1230.17" y="206.0" width="2.8" height="2.0" fill="#e3141b"/>
<line x1="1235.09" y1="199.3" x2="1235.09" y2="212.7" stroke="#e3141b" stroke-width="1"/>
<rect x="1233.69" y="206.0" width="2.8" height="6.7" fill="#e3141b"/>
<line x1="1238.61" y1="203.3" x2="1238.61" y2="216.7" stroke="#2f8a22" stroke-width="1"/>
<rect x="1237.21" y="206.7" width="2.8" height="9.4" fill="#2f8a22"/>
<line x1="1242.13" y1="201.3" x2="1242.13" y2="213.4" stroke="#e3141b" stroke-width="1"/>
<rect x="1240.73" y="212.0" width="2.8" height="1.3" fill="#e3141b"/>
<line x1="1245.65" y1="206.0" x2="1245.65" y2="218.7" stroke="#2f8a22" stroke-width="1"/>
<rect x="1244.25" y="212.0" width="2.8" height="2.0" fill="#2f8a22"/>
<line x1="1249.16" y1="209.3" x2="1249.16" y2="224.1" stroke="#e3141b" stroke-width="1"/>
<rect x="1247.76" y="216.7" width="2.8" height="4.0" fill="#e3141b"/>
<line x1="1252.68" y1="218.7" x2="1252.68" y2="227.5" stroke="#e3141b" stroke-width="1"/>
<rect x="1251.28" y="220.4" width="2.8" height="1.7" fill="#e3141b"/>
<line x1="1256.20" y1="216.1" x2="1256.20" y2="222.1" stroke="#2f8a22" stroke-width="1"/>
<rect x="1254.80" y="216.7" width="2.8" height="5.4" fill="#2f8a22"/>
<line x1="1259.72" y1="216.7" x2="1259.72" y2="220.4" stroke="#2f8a22" stroke-width="1"/>
<rect x="1258.32" y="217.4" width="2.8" height="2.7" fill="#2f8a22"/>
<line x1="1263.24" y1="214.0" x2="1263.24" y2="223.0" stroke="#e3141b" stroke-width="1"/>
<rect x="1261.84" y="214.4" width="2.8" height="8.3" fill="#e3141b"/>
<line x1="1266.75" y1="224.1" x2="1266.75" y2="233.5" stroke="#e3141b" stroke-width="1"/>
<rect x="1265.35" y="224.8" width="2.8" height="6.0" fill="#e3141b"/>
<line x1="1270.27" y1="224.8" x2="1270.27" y2="235.5" stroke="#e3141b" stroke-width="1"/>
<rect x="1268.87" y="229.5" width="2.8" height="1.3" fill="#e3141b"/>
<line x1="1273.79" y1="227.5" x2="1273.79" y2="234.2" stroke="#e3141b" stroke-width="1"/>
<rect x="1272.39" y="228.2" width="2.8" height="5.4" fill="#e3141b"/>
<line x1="1277.31" y1="230.8" x2="1277.31" y2="240.2" stroke="#e3141b" stroke-width="1"/>
<rect x="1275.91" y="233.5" width="2.8" height="4.0" fill="#e3141b"/>
<line x1="1280.83" y1="240.3" x2="1280.83" y2="262.1" stroke="#e3141b" stroke-width="1"/>
<rect x="1279.43" y="241.8" width="2.8" height="19.6" fill="#e3141b"/>
<line x1="1284.34" y1="250.9" x2="1284.34" y2="264.4" stroke="#e3141b" stroke-width="1"/>
<rect x="1282.94" y="257.4" width="2.8" height="4.1" fill="#e3141b"/>
<line x1="1287.86" y1="259.7" x2="1287.86" y2="266.2" stroke="#2f8a22" stroke-width="1"/>
<rect x="1286.46" y="260.9" width="2.8" height="3.5" fill="#2f8a22"/>
<line x1="1291.38" y1="264.4" x2="1291.38" y2="275.6" stroke="#e3141b" stroke-width="1"/>
<rect x="1289.98" y="270.9" width="2.8" height="1.8" fill="#e3141b"/>
<line x1="1294.90" y1="261.5" x2="1294.90" y2="271.5" stroke="#2f8a22" stroke-width="1"/>
<rect x="1293.50" y="264.4" width="2.8" height="5.9" fill="#2f8a22"/>
<line x1="1298.42" y1="259.1" x2="1298.42" y2="264.4" stroke="#2f8a22" stroke-width="1"/>
<rect x="1297.02" y="259.7" width="2.8" height="4.7" fill="#2f8a22"/>
<line x1="1301.93" y1="250.9" x2="1301.93" y2="260.3" stroke="#e3141b" stroke-width="1"/>
<rect x="1300.53" y="252.6" width="2.8" height="5.9" fill="#e3141b"/>
<line x1="1305.45" y1="251.5" x2="1305.45" y2="262.1" stroke="#2f8a22" stroke-width="1"/>
<rect x="1304.05" y="252.1" width="2.8" height="8.2" fill="#2f8a22"/>
<line x1="1308.97" y1="242.6" x2="1308.97" y2="253.8" stroke="#2f8a22" stroke-width="1"/>
<rect x="1307.57" y="250.3" width="2.8" height="2.4" fill="#2f8a22"/>
<line x1="1312.49" y1="243.2" x2="1312.49" y2="257.4" stroke="#e3141b" stroke-width="1"/>
<rect x="1311.09" y="252.1" width="2.8" height="2.4" fill="#e3141b"/>
<line x1="1316.01" y1="240.9" x2="1316.01" y2="261.5" stroke="#e3141b" stroke-width="1"/>
<rect x="1314.61" y="243.2" width="2.8" height="17.6" fill="#e3141b"/>
<line x1="1319.52" y1="254.4" x2="1319.52" y2="265.6" stroke="#2f8a22" stroke-width="1"/>
<rect x="1318.12" y="257.4" width="2.8" height="1.8" fill="#2f8a22"/>
<line x1="1323.04" y1="249.7" x2="1323.04" y2="261.5" stroke="#2f8a22" stroke-width="1"/>
<rect x="1321.64" y="257.9" width="2.8" height="1.8" fill="#2f8a22"/>
<line x1="1326.56" y1="225.6" x2="1326.56" y2="247.4" stroke="#2f8a22" stroke-width="1"/>
<rect x="1325.16" y="226.8" width="2.8" height="16.5" fill="#2f8a22"/>
<line x1="1330.08" y1="220.9" x2="1330.08" y2="240.9" stroke="#e3141b" stroke-width="1"/>
<rect x="1328.68" y="232.1" width="2.8" height="8.2" fill="#e3141b"/>
<line x1="1333.60" y1="232.6" x2="1333.60" y2="243.2" stroke="#e3141b" stroke-width="1"/>
<rect x="1332.20" y="237.4" width="2.8" height="5.9" fill="#e3141b"/>
<line x1="1337.11" y1="229.1" x2="1337.11" y2="238.5" stroke="#2f8a22" stroke-width="1"/>
<rect x="1335.71" y="229.7" width="2.8" height="4.7" fill="#2f8a22"/>
<line x1="1340.63" y1="262.1" x2="1340.63" y2="279.7" stroke="#2f8a22" stroke-width="1"/>
<rect x="1339.23" y="267.9" width="2.8" height="11.8" fill="#2f8a22"/>
<line x1="1344.15" y1="263.2" x2="1344.15" y2="277.4" stroke="#e3141b" stroke-width="1"/>
<rect x="1342.75" y="264.4" width="2.8" height="1.2" fill="#e3141b"/>
<line x1="1347.67" y1="264.4" x2="1347.67" y2="272.6" stroke="#e3141b" stroke-width="1"/>
<rect x="1346.27" y="265.6" width="2.8" height="5.3" fill="#e3141b"/>
<line x1="1351.19" y1="268.5" x2="1351.19" y2="276.2" stroke="#e3141b" stroke-width="1"/>
<rect x="1349.79" y="268.9" width="2.8" height="1.0" fill="#e3141b"/>
<line x1="1354.70" y1="263.2" x2="1354.70" y2="279.7" stroke="#e3141b" stroke-width="1"/>
<rect x="1353.30" y="264.4" width="2.8" height="14.7" fill="#e3141b"/>
<line x1="1358.22" y1="266.8" x2="1358.22" y2="279.1" stroke="#2f8a22" stroke-width="1"/>
<rect x="1356.82" y="267.9" width="2.8" height="10.6" fill="#2f8a22"/>
<line x1="1361.74" y1="269.1" x2="1361.74" y2="276.2" stroke="#e3141b" stroke-width="1"/>
<rect x="1360.34" y="269.7" width="2.8" height="5.3" fill="#e3141b"/>
<line x1="1365.26" y1="262.1" x2="1365.26" y2="275.6" stroke="#2f8a22" stroke-width="1"/>
<rect x="1363.86" y="263.2" width="2.8" height="12.4" fill="#2f8a22"/>
<line x1="1368.78" y1="262.9" x2="1368.78" y2="270.7" stroke="#e3141b" stroke-width="1"/>
<rect x="1367.38" y="266.4" width="2.8" height="3.6" fill="#e3141b"/>
<line x1="1372.29" y1="256.4" x2="1372.29" y2="268.6" stroke="#2f8a22" stroke-width="1"/>
<rect x="1370.89" y="258.6" width="2.8" height="9.3" fill="#2f8a22"/>
<line x1="1375.81" y1="261.4" x2="1375.81" y2="275.7" stroke="#e3141b" stroke-width="1"/>
<rect x="1374.41" y="262.9" width="2.8" height="12.1" fill="#e3141b"/>
<line x1="1379.33" y1="269.3" x2="1379.33" y2="280.0" stroke="#2f8a22" stroke-width="1"/>
<rect x="1377.93" y="271.4" width="2.8" height="5.0" fill="#2f8a22"/>
<line x1="1382.85" y1="260.0" x2="1382.85" y2="270.0" stroke="#2f8a22" stroke-width="1"/>
<rect x="1381.45" y="260.7" width="2.8" height="5.0" fill="#2f8a22"/>
<line x1="1386.37" y1="254.3" x2="1386.37" y2="270.7" stroke="#2f8a22" stroke-width="1"/>
<rect x="1384.97" y="257.9" width="2.8" height="12.1" fill="#2f8a22"/>
<line x1="1389.88" y1="240.7" x2="1389.88" y2="260.0" stroke="#2f8a22" stroke-width="1"/>
<rect x="1388.48" y="243.6" width="2.8" height="14.3" fill="#2f8a22"/>
<line x1="1393.40" y1="222.9" x2="1393.40" y2="247.1" stroke="#2f8a22" stroke-width="1"/>
<rect x="1392.00" y="237.1" width="2.8" height="9.3" fill="#2f8a22"/>
<line x1="1396.92" y1="215.0" x2="1396.92" y2="233.6" stroke="#2f8a22" stroke-width="1"/>
<rect x="1395.52" y="217.1" width="2.8" height="15.7" fill="#2f8a22"/>
<line x1="1400.44" y1="220.0" x2="1400.44" y2="237.9" stroke="#e3141b" stroke-width="1"/>
<rect x="1399.04" y="222.9" width="2.8" height="14.3" fill="#e3141b"/>
<line x1="1403.96" y1="227.9" x2="1403.96" y2="241.4" stroke="#2f8a22" stroke-width="1"/>
<rect x="1402.56" y="236.4" width="2.8" height="2.9" fill="#2f8a22"/>
<line x1="1407.47" y1="220.7" x2="1407.47" y2="237.1" stroke="#2f8a22" stroke-width="1"/>
<rect x="1406.07" y="227.1" width="2.8" height="2.1" fill="#2f8a22"/>
<line x1="1410.99" y1="212.1" x2="1410.99" y2="230.0" stroke="#2f8a22" stroke-width="1"/>
<rect x="1409.59" y="213.6" width="2.8" height="15.7" fill="#2f8a22"/>
<line x1="1414.51" y1="200.0" x2="1414.51" y2="229.3" stroke="#e3141b" stroke-width="1"/>
<rect x="1413.11" y="208.6" width="2.8" height="20.0" fill="#e3141b"/>
<line x1="1418.03" y1="218.6" x2="1418.03" y2="235.4" stroke="#2f8a22" stroke-width="1"/>
<rect x="1416.63" y="222.9" width="2.8" height="12.1" fill="#2f8a22"/>
<line x1="1421.55" y1="206.4" x2="1421.55" y2="225.0" stroke="#2f8a22" stroke-width="1"/>
<rect x="1420.15" y="207.9" width="2.8" height="14.3" fill="#2f8a22"/>
<line x1="1425.06" y1="162.2" x2="1425.06" y2="213.4" stroke="#2f8a22" stroke-width="1"/>
<rect x="1423.66" y="176.7" width="2.8" height="36.7" fill="#2f8a22"/>
<line x1="1428.58" y1="145.4" x2="1428.58" y2="173.2" stroke="#2f8a22" stroke-width="1"/>
<rect x="1427.18" y="170.9" width="2.8" height="1.9" fill="#2f8a22"/>
<line x1="1432.10" y1="176.7" x2="1432.10" y2="202.2" stroke="#e3141b" stroke-width="1"/>
<rect x="1430.70" y="181.5" width="2.8" height="20.3" fill="#e3141b"/>
<line x1="1435.62" y1="209.6" x2="1435.62" y2="235.7" stroke="#e3141b" stroke-width="1"/>
<rect x="1434.22" y="215.4" width="2.8" height="15.5" fill="#e3141b"/>
<line x1="1439.14" y1="224.1" x2="1439.14" y2="235.7" stroke="#e3141b" stroke-width="1"/>
<rect x="1437.74" y="228.9" width="2.8" height="5.8" fill="#e3141b"/>
<line x1="1442.65" y1="235.7" x2="1442.65" y2="245.3" stroke="#2f8a22" stroke-width="1"/>
<rect x="1441.25" y="239.5" width="2.8" height="1.4" fill="#2f8a22"/>
<line x1="1446.17" y1="225.0" x2="1446.17" y2="240.5" stroke="#2f8a22" stroke-width="1"/>
<rect x="1444.77" y="232.4" width="2.8" height="4.3" fill="#2f8a22"/>
<line x1="1449.69" y1="230.8" x2="1449.69" y2="243.4" stroke="#e3141b" stroke-width="1"/>
<rect x="1448.29" y="232.8" width="2.8" height="9.7" fill="#e3141b"/>
<line x1="1453.21" y1="233.7" x2="1453.21" y2="245.3" stroke="#2f8a22" stroke-width="1"/>
<rect x="1451.81" y="234.7" width="2.8" height="9.7" fill="#2f8a22"/>
<line x1="1456.73" y1="231.8" x2="1456.73" y2="246.3" stroke="#e3141b" stroke-width="1"/>
<rect x="1455.33" y="233.7" width="2.8" height="1.9" fill="#e3141b"/>
<line x1="1460.24" y1="226.0" x2="1460.24" y2="238.6" stroke="#2f8a22" stroke-width="1"/>
<rect x="1458.84" y="232.8" width="2.8" height="4.8" fill="#2f8a22"/>
<line x1="1463.76" y1="225.0" x2="1463.76" y2="238.6" stroke="#2f8a22" stroke-width="1"/>
<rect x="1462.36" y="229.9" width="2.8" height="7.7" fill="#2f8a22"/>
<line x1="1467.28" y1="227.9" x2="1467.28" y2="246.3" stroke="#e3141b" stroke-width="1"/>
<rect x="1465.88" y="228.9" width="2.8" height="13.5" fill="#e3141b"/>
<line x1="1470.80" y1="217.3" x2="1470.80" y2="241.4" stroke="#2f8a22" stroke-width="1"/>
<rect x="1469.40" y="220.2" width="2.8" height="20.3" fill="#2f8a22"/>
<line x1="1474.32" y1="207.6" x2="1474.32" y2="220.2" stroke="#2f8a22" stroke-width="1"/>
<rect x="1472.92" y="208.6" width="2.8" height="3.9" fill="#2f8a22"/>
<line x1="1477.83" y1="202.8" x2="1477.83" y2="217.3" stroke="#e3141b" stroke-width="1"/>
<rect x="1476.43" y="203.4" width="2.8" height="10.0" fill="#e3141b"/>
<line x1="1481.35" y1="198.0" x2="1481.35" y2="210.5" stroke="#2f8a22" stroke-width="1"/>
<rect x="1479.95" y="204.7" width="2.8" height="4.8" fill="#2f8a22"/>
<line x1="1484.87" y1="197.0" x2="1484.87" y2="208.6" stroke="#e3141b" stroke-width="1"/>
<rect x="1483.47" y="199.9" width="2.8" height="3.9" fill="#e3141b"/>
<line x1="1488.39" y1="199.9" x2="1488.39" y2="214.4" stroke="#e3141b" stroke-width="1"/>
<rect x="1486.99" y="201.8" width="2.8" height="3.9" fill="#e3141b"/>
<line x1="1491.91" y1="171.9" x2="1491.91" y2="194.1" stroke="#2f8a22" stroke-width="1"/>
<rect x="1490.51" y="184.4" width="2.8" height="5.8" fill="#2f8a22"/>
<line x1="1495.42" y1="168.0" x2="1495.42" y2="225.0" stroke="#e3141b" stroke-width="1"/>
<rect x="1494.02" y="174.8" width="2.8" height="49.3" fill="#e3141b"/>
<line x1="1498.94" y1="227.2" x2="1498.94" y2="255.9" stroke="#e3141b" stroke-width="1"/>
<rect x="1497.54" y="240.8" width="2.8" height="5.3" fill="#e3141b"/>
<line x1="1502.46" y1="233.2" x2="1502.46" y2="258.2" stroke="#e3141b" stroke-width="1"/>
<rect x="1501.06" y="235.5" width="2.8" height="15.1" fill="#e3141b"/>
<line x1="1505.98" y1="223.4" x2="1505.98" y2="261.2" stroke="#2f8a22" stroke-width="1"/>
<rect x="1504.58" y="236.3" width="2.8" height="23.4" fill="#2f8a22"/>
<line x1="1509.50" y1="214.0" x2="1509.50" y2="242.3" stroke="#2f8a22" stroke-width="1"/>
<rect x="1508.10" y="221.9" width="2.8" height="15.9" fill="#2f8a22"/>
<line x1="1513.01" y1="196.9" x2="1513.01" y2="226.4" stroke="#2f8a22" stroke-width="1"/>
<rect x="1511.61" y="202.2" width="2.8" height="23.4" fill="#2f8a22"/>
<line x1="1516.53" y1="190.1" x2="1516.53" y2="206.8" stroke="#2f8a22" stroke-width="1"/>
<rect x="1515.13" y="192.8" width="2.8" height="9.1" fill="#2f8a22"/>
<line x1="1520.05" y1="187.9" x2="1520.05" y2="200.0" stroke="#e3141b" stroke-width="1"/>
<rect x="1518.65" y="193.1" width="2.8" height="6.0" fill="#e3141b"/>
<line x1="1523.57" y1="190.1" x2="1523.57" y2="209.0" stroke="#e3141b" stroke-width="1"/>
<rect x="1522.17" y="193.9" width="2.8" height="13.6" fill="#e3141b"/>
<line x1="1527.09" y1="183.3" x2="1527.09" y2="208.3" stroke="#2f8a22" stroke-width="1"/>
<rect x="1525.69" y="189.4" width="2.8" height="18.1" fill="#2f8a22"/>
<line x1="1530.60" y1="181.4" x2="1530.60" y2="200.0" stroke="#e3141b" stroke-width="1"/>
<rect x="1529.20" y="185.6" width="2.8" height="10.6" fill="#e3141b"/>
<line x1="1534.12" y1="184.1" x2="1534.12" y2="203.7" stroke="#2f8a22" stroke-width="1"/>
<rect x="1532.72" y="186.3" width="2.8" height="12.9" fill="#2f8a22"/>
<line x1="1537.64" y1="192.8" x2="1537.64" y2="213.6" stroke="#e3141b" stroke-width="1"/>
<rect x="1536.24" y="193.1" width="2.8" height="10.6" fill="#e3141b"/>
<line x1="1541.16" y1="206.8" x2="1541.16" y2="220.4" stroke="#e3141b" stroke-width="1"/>
<rect x="1539.76" y="210.5" width="2.8" height="4.5" fill="#e3141b"/>
<line x1="1544.68" y1="186.3" x2="1544.68" y2="221.9" stroke="#e3141b" stroke-width="1"/>
<rect x="1543.28" y="188.9" width="2.8" height="14.8" fill="#e3141b"/>
<line x1="1548.19" y1="203.0" x2="1548.19" y2="231.0" stroke="#e3141b" stroke-width="1"/>
<rect x="1546.79" y="204.5" width="2.8" height="25.7" fill="#e3141b"/>
<line x1="1551.71" y1="215.1" x2="1551.71" y2="240.0" stroke="#2f8a22" stroke-width="1"/>
<rect x="1550.31" y="217.3" width="2.8" height="15.1" fill="#2f8a22"/>
<line x1="1555.23" y1="203.7" x2="1555.23" y2="225.7" stroke="#e3141b" stroke-width="1"/>
<rect x="1553.83" y="209.8" width="2.8" height="9.1" fill="#e3141b"/>
<line x1="1558.75" y1="221.1" x2="1558.75" y2="234.0" stroke="#e3141b" stroke-width="1"/>
<rect x="1557.35" y="227.2" width="2.8" height="6.0" fill="#e3141b"/>
<line x1="1562.27" y1="224.2" x2="1562.27" y2="240.8" stroke="#e3141b" stroke-width="1"/>
<rect x="1560.87" y="227.9" width="2.8" height="5.3" fill="#e3141b"/>
<line x1="1565.78" y1="229.4" x2="1565.78" y2="235.5" stroke="#e3141b" stroke-width="1"/>
<rect x="1564.38" y="230.2" width="2.8" height="2.3" fill="#e3141b"/>
<line x1="1569.30" y1="224.2" x2="1569.30" y2="237.8" stroke="#2f8a22" stroke-width="1"/>
<rect x="1567.90" y="228.7" width="2.8" height="6.0" fill="#2f8a22"/>
<line x1="1572.82" y1="225.7" x2="1572.82" y2="237.0" stroke="#2f8a22" stroke-width="1"/>
<rect x="1571.42" y="230.2" width="2.8" height="2.3" fill="#2f8a22"/>
<line x1="1576.34" y1="221.1" x2="1576.34" y2="233.2" stroke="#2f8a22" stroke-width="1"/>
<rect x="1574.94" y="231.0" width="2.8" height="1.5" fill="#2f8a22"/>
<line x1="1579.86" y1="229.0" x2="1579.86" y2="240.4" stroke="#e3141b" stroke-width="1"/>
<rect x="1578.46" y="232.8" width="2.8" height="7.6" fill="#e3141b"/>
<line x1="1583.37" y1="242.9" x2="1583.37" y2="259.9" stroke="#2f8a22" stroke-width="1"/>
<rect x="1581.97" y="246.1" width="2.8" height="1.3" fill="#2f8a22"/>
<line x1="1586.89" y1="246.7" x2="1586.89" y2="265.6" stroke="#e3141b" stroke-width="1"/>
<rect x="1585.49" y="247.3" width="2.8" height="11.3" fill="#e3141b"/>
<line x1="1590.41" y1="256.8" x2="1590.41" y2="264.3" stroke="#e3141b" stroke-width="1"/>
<rect x="1589.01" y="259.9" width="2.8" height="1.3" fill="#e3141b"/>
<line x1="1593.93" y1="241.0" x2="1593.93" y2="257.4" stroke="#2f8a22" stroke-width="1"/>
<rect x="1592.53" y="241.6" width="2.8" height="15.8" fill="#2f8a22"/>
<line x1="1597.45" y1="225.9" x2="1597.45" y2="241.6" stroke="#2f8a22" stroke-width="1"/>
<rect x="1596.05" y="227.1" width="2.8" height="11.3" fill="#2f8a22"/>
<line x1="1600.96" y1="222.1" x2="1600.96" y2="232.8" stroke="#2f8a22" stroke-width="1"/>
<rect x="1599.56" y="223.4" width="2.8" height="1.9" fill="#2f8a22"/>
<line x1="1604.48" y1="218.3" x2="1604.48" y2="225.9" stroke="#2f8a22" stroke-width="1"/>
<rect x="1603.08" y="220.2" width="2.8" height="3.8" fill="#2f8a22"/>
<line x1="1608.00" y1="221.5" x2="1608.00" y2="229.0" stroke="#2f8a22" stroke-width="1"/>
<rect x="1606.60" y="222.7" width="2.8" height="5.0" fill="#2f8a22"/>
<line x1="1611.52" y1="220.2" x2="1611.52" y2="233.4" stroke="#e3141b" stroke-width="1"/>
<rect x="1610.12" y="228.4" width="2.8" height="1.9" fill="#e3141b"/>
<line x1="1615.04" y1="213.9" x2="1615.04" y2="231.6" stroke="#2f8a22" stroke-width="1"/>
<rect x="1613.64" y="215.2" width="2.8" height="6.3" fill="#2f8a22"/>
<line x1="1618.55" y1="205.7" x2="1618.55" y2="219.0" stroke="#e3141b" stroke-width="1"/>
<rect x="1617.15" y="215.2" width="2.8" height="1.9" fill="#e3141b"/>
<line x1="1622.07" y1="207.6" x2="1622.07" y2="223.4" stroke="#e3141b" stroke-width="1"/>
<rect x="1620.67" y="218.3" width="2.8" height="4.7" fill="#e3141b"/>
<line x1="1625.59" y1="217.1" x2="1625.59" y2="228.0" stroke="#2f8a22" stroke-width="1"/>
<rect x="1624.19" y="217.7" width="2.8" height="10.1" fill="#2f8a22"/>
<line x1="1629.11" y1="207.0" x2="1629.11" y2="217.1" stroke="#2f8a22" stroke-width="1"/>
<rect x="1627.71" y="212.0" width="2.8" height="1.3" fill="#2f8a22"/>
<line x1="1632.63" y1="213.9" x2="1632.63" y2="227.1" stroke="#e3141b" stroke-width="1"/>
<rect x="1631.23" y="218.3" width="2.8" height="3.2" fill="#e3141b"/>
<line x1="1636.14" y1="222.7" x2="1636.14" y2="234.1" stroke="#e3141b" stroke-width="1"/>
<rect x="1634.74" y="223.4" width="2.8" height="9.5" fill="#e3141b"/>
<line x1="1639.66" y1="226.5" x2="1639.66" y2="238.5" stroke="#e3141b" stroke-width="1"/>
<rect x="1638.26" y="232.2" width="2.8" height="5.0" fill="#e3141b"/>
<line x1="1643.18" y1="235.3" x2="1643.18" y2="243.5" stroke="#e3141b" stroke-width="1"/>
<rect x="1641.78" y="236.6" width="2.8" height="1.3" fill="#e3141b"/>
<line x1="1646.70" y1="232.2" x2="1646.70" y2="237.9" stroke="#e3141b" stroke-width="1"/>
<rect x="1645.30" y="235.3" width="2.8" height="1.9" fill="#e3141b"/>
<line x1="1650.22" y1="225.9" x2="1650.22" y2="241.6" stroke="#2f8a22" stroke-width="1"/>
<rect x="1648.82" y="230.3" width="2.8" height="11.3" fill="#2f8a22"/>
<line x1="1653.73" y1="218.3" x2="1653.73" y2="229.7" stroke="#2f8a22" stroke-width="1"/>
<rect x="1652.33" y="220.8" width="2.8" height="7.6" fill="#2f8a22"/>
<line x1="1657.25" y1="215.2" x2="1657.25" y2="224.6" stroke="#2f8a22" stroke-width="1"/>
<rect x="1655.85" y="219.0" width="2.8" height="3.2" fill="#2f8a22"/>
<line x1="1660.77" y1="209.5" x2="1660.77" y2="219.6" stroke="#2f8a22" stroke-width="1"/>
<rect x="1659.37" y="209.5" width="2.8" height="8.8" fill="#2f8a22"/>
<line x1="1664.29" y1="210.1" x2="1664.29" y2="237.2" stroke="#e3141b" stroke-width="1"/>
<rect x="1662.89" y="212.0" width="2.8" height="24.6" fill="#e3141b"/>
<line x1="1667.81" y1="225.9" x2="1667.81" y2="237.8" stroke="#e3141b" stroke-width="1"/>
<rect x="1666.41" y="232.2" width="2.8" height="5.7" fill="#e3141b"/>
<line x1="1671.32" y1="235.3" x2="1671.32" y2="251.7" stroke="#e3141b" stroke-width="1"/>
<rect x="1669.92" y="235.9" width="2.8" height="15.1" fill="#e3141b"/>
<line x1="1674.84" y1="247.9" x2="1674.84" y2="259.3" stroke="#e3141b" stroke-width="1"/>
<rect x="1673.44" y="250.4" width="2.8" height="4.4" fill="#e3141b"/>
<line x1="1678.36" y1="250.4" x2="1678.36" y2="259.3" stroke="#e3141b" stroke-width="1"/>
<rect x="1676.96" y="256.1" width="2.8" height="3.2" fill="#e3141b"/>
<line x1="1681.88" y1="250.4" x2="1681.88" y2="261.8" stroke="#2f8a22" stroke-width="1"/>
<rect x="1680.48" y="251.1" width="2.8" height="7.6" fill="#2f8a22"/>
<line x1="1685.40" y1="249.8" x2="1685.40" y2="261.8" stroke="#e3141b" stroke-width="1"/>
<rect x="1684.00" y="253.0" width="2.8" height="2.5" fill="#e3141b"/>
<line x1="1688.91" y1="254.2" x2="1688.91" y2="264.3" stroke="#2f8a22" stroke-width="1"/>
<rect x="1687.51" y="258.0" width="2.8" height="5.7" fill="#2f8a22"/>
<line x1="1692.43" y1="253.0" x2="1692.43" y2="261.8" stroke="#e3141b" stroke-width="1"/>
<rect x="1691.03" y="257.8" width="2.8" height="1.0" fill="#e3141b"/>
<line x1="1695.95" y1="248.6" x2="1695.95" y2="258.6" stroke="#2f8a22" stroke-width="1"/>
<rect x="1694.55" y="250.4" width="2.8" height="8.2" fill="#2f8a22"/>
<line x1="1699.47" y1="227.7" x2="1699.47" y2="252.3" stroke="#2f8a22" stroke-width="1"/>
<rect x="1698.07" y="230.3" width="2.8" height="22.1" fill="#2f8a22"/>
<line x1="1702.99" y1="217.0" x2="1702.99" y2="230.9" stroke="#2f8a22" stroke-width="1"/>
<rect x="1701.59" y="220.2" width="2.8" height="8.8" fill="#2f8a22"/>
<line x1="1706.50" y1="216.4" x2="1706.50" y2="225.9" stroke="#2f8a22" stroke-width="1"/>
<rect x="1705.10" y="217.0" width="2.8" height="5.7" fill="#2f8a22"/>
<line x1="1710.02" y1="210.7" x2="1710.02" y2="220.8" stroke="#e3141b" stroke-width="1"/>
<rect x="1708.62" y="212.6" width="2.8" height="1.3" fill="#e3141b"/>
<line x1="1713.54" y1="200.0" x2="1713.54" y2="214.9" stroke="#2f8a22" stroke-width="1"/>
<rect x="1712.14" y="208.8" width="2.8" height="5.7" fill="#2f8a22"/>
<line x1="1717.06" y1="210.1" x2="1717.06" y2="219.5" stroke="#e3141b" stroke-width="1"/>
<rect x="1715.66" y="214.5" width="2.8" height="5.0" fill="#e3141b"/>
<line x1="1720.58" y1="215.8" x2="1720.58" y2="227.7" stroke="#e3141b" stroke-width="1"/>
<rect x="1719.18" y="218.9" width="2.8" height="5.0" fill="#e3141b"/>
<line x1="1724.09" y1="223.3" x2="1724.09" y2="233.4" stroke="#e3141b" stroke-width="1"/>
<rect x="1722.69" y="226.5" width="2.8" height="6.9" fill="#e3141b"/>
<line x1="1727.61" y1="235.9" x2="1727.61" y2="245.4" stroke="#e3141b" stroke-width="1"/>
<rect x="1726.21" y="238.5" width="2.8" height="3.2" fill="#e3141b"/>
<line x1="1731.13" y1="241.0" x2="1731.13" y2="258.6" stroke="#e3141b" stroke-width="1"/>
<rect x="1729.73" y="242.9" width="2.8" height="6.3" fill="#e3141b"/>
<line x1="1734.65" y1="241.0" x2="1734.65" y2="255.5" stroke="#e3141b" stroke-width="1"/>
<rect x="1733.25" y="249.2" width="2.8" height="6.3" fill="#e3141b"/>
<line x1="1738.17" y1="251.7" x2="1738.17" y2="263.7" stroke="#e3141b" stroke-width="1"/>
<rect x="1736.77" y="256.1" width="2.8" height="4.4" fill="#e3141b"/>
<line x1="1741.68" y1="253.0" x2="1741.68" y2="265.6" stroke="#e3141b" stroke-width="1"/>
<rect x="1740.28" y="259.9" width="2.8" height="4.4" fill="#e3141b"/>
<line x1="1745.20" y1="261.2" x2="1745.20" y2="269.7" stroke="#2f8a22" stroke-width="1"/>
<rect x="1743.80" y="266.2" width="2.8" height="3.0" fill="#2f8a22"/>
<line x1="1748.72" y1="263.7" x2="1748.72" y2="269.7" stroke="#2a2a2a" stroke-width="1"/>
<rect x="1747.32" y="265.2" width="2.8" height="1.0" fill="#2a2a2a"/>
<line x1="1752.24" y1="250.1" x2="1752.24" y2="267.7" stroke="#2f8a22" stroke-width="1"/>
<rect x="1750.84" y="250.1" width="2.8" height="17.1" fill="#2f8a22"/>
<line x1="1755.76" y1="249.1" x2="1755.76" y2="255.1" stroke="#e3141b" stroke-width="1"/>
<rect x="1754.36" y="249.6" width="2.8" height="5.0" fill="#e3141b"/>
<line x1="1759.27" y1="246.0" x2="1759.27" y2="253.6" stroke="#e3141b" stroke-width="1"/>
<rect x="1757.87" y="249.1" width="2.8" height="4.0" fill="#e3141b"/>
<line x1="1762.79" y1="249.1" x2="1762.79" y2="260.7" stroke="#e3141b" stroke-width="1"/>
<rect x="1761.39" y="252.6" width="2.8" height="5.0" fill="#e3141b"/>
<rect x="1764.91" y="258.1" width="2.8" height="13.1" fill="#e3141b"/>
<line x1="1769.83" y1="256.1" x2="1769.83" y2="270.7" stroke="#e3141b" stroke-width="1"/>
<rect x="1768.43" y="266.7" width="2.8" height="1.0" fill="#e3141b"/>
<line x1="1773.35" y1="261.7" x2="1773.35" y2="278.3" stroke="#e3141b" stroke-width="1"/>
<rect x="1771.95" y="265.2" width="2.8" height="13.1" fill="#e3141b"/>
<line x1="1776.86" y1="279.3" x2="1776.86" y2="289.9" stroke="#e3141b" stroke-width="1"/>
<rect x="1775.46" y="279.8" width="2.8" height="9.6" fill="#e3141b"/>
<rect x="8.62" y="507.87" width="4.42" height="62.53" fill="#0a0a0a"/>
<rect x="9.52" y="508.77" width="2.62" height="61.63" fill="#2f8a22"/>
<rect x="12.14" y="534.41" width="4.42" height="35.99" fill="#0a0a0a"/>
<rect x="13.04" y="535.31" width="2.62" height="35.09" fill="#2f8a22"/>
<rect x="15.66" y="537.82" width="4.42" height="32.58" fill="#0a0a0a"/>
<rect x="16.56" y="538.72" width="2.62" height="31.68" fill="#2f8a22"/>
<rect x="19.17" y="532.60" width="4.42" height="37.80" fill="#0a0a0a"/>
<rect x="20.07" y="533.50" width="2.62" height="36.90" fill="#e3141b"/>
<rect x="22.69" y="535.09" width="4.42" height="35.31" fill="#0a0a0a"/>
<rect x="23.59" y="535.99" width="2.62" height="34.41" fill="#e3141b"/>
<rect x="26.21" y="551.43" width="4.42" height="18.97" fill="#0a0a0a"/>
<rect x="27.11" y="552.33" width="2.62" height="18.07" fill="#2f8a22"/>
<rect x="29.73" y="541.67" width="4.42" height="28.73" fill="#0a0a0a"/>
<rect x="30.63" y="542.57" width="2.62" height="27.83" fill="#e3141b"/>
<rect x="33.25" y="545.08" width="4.42" height="25.32" fill="#0a0a0a"/>
<rect x="34.15" y="545.98" width="2.62" height="24.42" fill="#2f8a22"/>
<rect x="36.76" y="550.97" width="4.42" height="19.43" fill="#0a0a0a"/>
<rect x="37.66" y="551.87" width="2.62" height="18.53" fill="#e3141b"/>
<rect x="40.28" y="549.84" width="4.42" height="20.56" fill="#0a0a0a"/>
<rect x="41.18" y="550.74" width="2.62" height="19.66" fill="#2f8a22"/>
<rect x="43.80" y="537.82" width="4.42" height="32.58" fill="#0a0a0a"/>
<rect x="44.70" y="538.72" width="2.62" height="31.68" fill="#e3141b"/>
<rect x="47.32" y="536.00" width="4.42" height="34.40" fill="#0a0a0a"/>
<rect x="48.22" y="536.90" width="2.62" height="33.50" fill="#e3141b"/>
<rect x="50.84" y="542.81" width="4.42" height="27.59" fill="#0a0a0a"/>
<rect x="51.74" y="543.71" width="2.62" height="26.69" fill="#e3141b"/>
<rect x="54.35" y="549.16" width="4.42" height="21.24" fill="#0a0a0a"/>
<rect x="55.25" y="550.06" width="2.62" height="20.34" fill="#e3141b"/>
<rect x="57.87" y="542.35" width="4.42" height="28.05" fill="#0a0a0a"/>
<rect x="58.77" y="543.25" width="2.62" height="27.15" fill="#2f8a22"/>
<rect x="61.39" y="545.76" width="4.42" height="24.64" fill="#0a0a0a"/>
<rect x="62.29" y="546.66" width="2.62" height="23.74" fill="#e3141b"/>
<rect x="64.91" y="546.89" width="4.42" height="23.51" fill="#0a0a0a"/>
<rect x="65.81" y="547.79" width="2.62" height="22.61" fill="#e3141b"/>
<rect x="68.43" y="550.97" width="4.42" height="19.43" fill="#0a0a0a"/>
<rect x="69.33" y="551.87" width="2.62" height="18.53" fill="#2f8a22"/>
<rect x="71.94" y="542.81" width="4.42" height="27.59" fill="#0a0a0a"/>
<rect x="72.84" y="543.71" width="2.62" height="26.69" fill="#e3141b"/>
<rect x="75.46" y="549.84" width="4.42" height="20.56" fill="#0a0a0a"/>
<rect x="76.36" y="550.74" width="2.62" height="19.66" fill="#2f8a22"/>
<rect x="78.98" y="549.16" width="4.42" height="21.24" fill="#0a0a0a"/>
<rect x="79.88" y="550.06" width="2.62" height="20.34" fill="#e3141b"/>
<rect x="82.50" y="543.49" width="4.42" height="26.91" fill="#0a0a0a"/>
<rect x="83.40" y="544.39" width="2.62" height="26.01" fill="#e3141b"/>
<rect x="86.02" y="551.43" width="4.42" height="18.97" fill="#0a0a0a"/>
<rect x="86.92" y="552.33" width="2.62" height="18.07" fill="#2f8a22"/>
<rect x="89.53" y="531.01" width="4.42" height="39.39" fill="#0a0a0a"/>
<rect x="90.43" y="531.91" width="2.62" height="38.49" fill="#e3141b"/>
<rect x="93.05" y="552.56" width="4.42" height="17.84" fill="#0a0a0a"/>
<rect x="93.95" y="553.46" width="2.62" height="16.94" fill="#e3141b"/>
<rect x="96.57" y="548.03" width="4.42" height="22.37" fill="#0a0a0a"/>
<rect x="97.47" y="548.93" width="2.62" height="21.47" fill="#e3141b"/>
<rect x="100.09" y="548.71" width="4.42" height="21.69" fill="#0a0a0a"/>
<rect x="100.99" y="549.61" width="2.62" height="20.79" fill="#e3141b"/>
<rect x="103.61" y="526.93" width="4.42" height="43.47" fill="#0a0a0a"/>
<rect x="104.51" y="527.83" width="2.62" height="42.57" fill="#2f8a22"/>
<rect x="107.12" y="541.67" width="4.42" height="28.73" fill="#0a0a0a"/>
<rect x="108.02" y="542.57" width="2.62" height="27.83" fill="#e3141b"/>
<rect x="110.64" y="545.08" width="4.42" height="25.32" fill="#0a0a0a"/>
<rect x="111.54" y="545.98" width="2.62" height="24.42" fill="#2f8a22"/>
<rect x="114.16" y="542.81" width="4.42" height="27.59" fill="#0a0a0a"/>
<rect x="115.06" y="543.71" width="2.62" height="26.69" fill="#e3141b"/>
<rect x="117.68" y="546.89" width="4.42" height="23.51" fill="#0a0a0a"/>
<rect x="118.58" y="547.79" width="2.62" height="22.61" fill="#2f8a22"/>
<rect x="121.20" y="544.17" width="4.42" height="26.23" fill="#0a0a0a"/>
<rect x="122.10" y="545.07" width="2.62" height="25.33" fill="#2f8a22"/>
<rect x="124.71" y="526.93" width="4.42" height="43.47" fill="#0a0a0a"/>
<rect x="125.61" y="527.83" width="2.62" height="42.57" fill="#e3141b"/>
<rect x="128.23" y="539.63" width="4.42" height="30.77" fill="#0a0a0a"/>
<rect x="129.13" y="540.53" width="2.62" height="29.87" fill="#2f8a22"/>
<rect x="131.75" y="546.89" width="4.42" height="23.51" fill="#0a0a0a"/>
<rect x="132.65" y="547.79" width="2.62" height="22.61" fill="#e3141b"/>
<rect x="135.27" y="537.82" width="4.42" height="32.58" fill="#0a0a0a"/>
<rect x="136.17" y="538.72" width="2.62" height="31.68" fill="#2f8a22"/>
<rect x="138.79" y="545.08" width="4.42" height="25.32" fill="#0a0a0a"/>
<rect x="139.69" y="545.98" width="2.62" height="24.42" fill="#e3141b"/>
<rect x="142.30" y="537.82" width="4.42" height="32.58" fill="#0a0a0a"/>
<rect x="143.20" y="538.72" width="2.62" height="31.68" fill="#e3141b"/>
<rect x="145.82" y="545.08" width="4.42" height="25.32" fill="#0a0a0a"/>
<rect x="146.72" y="545.98" width="2.62" height="24.42" fill="#e3141b"/>
<rect x="149.34" y="541.67" width="4.42" height="28.73" fill="#0a0a0a"/>
<rect x="150.24" y="542.57" width="2.62" height="27.83" fill="#e3141b"/>
<rect x="152.86" y="543.49" width="4.42" height="26.91" fill="#0a0a0a"/>
<rect x="153.76" y="544.39" width="2.62" height="26.01" fill="#e3141b"/>
<rect x="156.38" y="544.17" width="4.42" height="26.23" fill="#0a0a0a"/>
<rect x="157.28" y="545.07" width="2.62" height="25.33" fill="#2f8a22"/>
<rect x="159.89" y="545.76" width="4.42" height="24.64" fill="#0a0a0a"/>
<rect x="160.79" y="546.66" width="2.62" height="23.74" fill="#e3141b"/>
<rect x="163.41" y="550.97" width="4.42" height="19.43" fill="#0a0a0a"/>
<rect x="164.31" y="551.87" width="2.62" height="18.53" fill="#e3141b"/>
<rect x="166.93" y="545.76" width="4.42" height="24.64" fill="#0a0a0a"/>
<rect x="167.83" y="546.66" width="2.62" height="23.74" fill="#e3141b"/>
<rect x="170.45" y="549.16" width="4.42" height="21.24" fill="#0a0a0a"/>
<rect x="171.35" y="550.06" width="2.62" height="20.34" fill="#2f8a22"/>
<rect x="173.97" y="543.49" width="4.42" height="26.91" fill="#0a0a0a"/>
<rect x="174.87" y="544.39" width="2.62" height="26.01" fill="#e3141b"/>
<rect x="177.48" y="520.80" width="4.42" height="49.60" fill="#0a0a0a"/>
<rect x="178.38" y="521.70" width="2.62" height="48.70" fill="#2f8a22"/>
<rect x="181.00" y="540.09" width="4.42" height="30.31" fill="#0a0a0a"/>
<rect x="181.90" y="540.99" width="2.62" height="29.41" fill="#e3141b"/>
<rect x="184.52" y="533.96" width="4.42" height="36.44" fill="#0a0a0a"/>
<rect x="185.42" y="534.86" width="2.62" height="35.54" fill="#2f8a22"/>
<rect x="188.04" y="545.08" width="4.42" height="25.32" fill="#0a0a0a"/>
<rect x="188.94" y="545.98" width="2.62" height="24.42" fill="#e3141b"/>
<rect x="191.56" y="515.13" width="4.42" height="55.27" fill="#0a0a0a"/>
<rect x="192.46" y="516.03" width="2.62" height="54.37" fill="#2f8a22"/>
<rect x="195.07" y="541.22" width="4.42" height="29.18" fill="#0a0a0a"/>
<rect x="195.97" y="542.12" width="2.62" height="28.28" fill="#2f8a22"/>
<rect x="198.59" y="520.80" width="4.42" height="49.60" fill="#0a0a0a"/>
<rect x="199.49" y="521.70" width="2.62" height="48.70" fill="#2f8a22"/>
<rect x="202.11" y="492.90" width="4.42" height="77.50" fill="#0a0a0a"/>
<rect x="203.01" y="493.80" width="2.62" height="76.60" fill="#e3141b"/>
<rect x="205.63" y="524.66" width="4.42" height="45.74" fill="#0a0a0a"/>
<rect x="206.53" y="525.56" width="2.62" height="44.84" fill="#2f8a22"/>
<rect x="209.15" y="508.78" width="4.42" height="61.62" fill="#0a0a0a"/>
<rect x="210.05" y="509.68" width="2.62" height="60.72" fill="#2f8a22"/>
<rect x="212.66" y="520.12" width="4.42" height="50.28" fill="#0a0a0a"/>
<rect x="213.56" y="521.02" width="2.62" height="49.38" fill="#2f8a22"/>
<rect x="216.18" y="536.23" width="4.42" height="34.17" fill="#0a0a0a"/>
<rect x="217.08" y="537.13" width="2.62" height="33.27" fill="#e3141b"/>
<rect x="219.70" y="538.50" width="4.42" height="31.90" fill="#0a0a0a"/>
<rect x="220.60" y="539.40" width="2.62" height="31.00" fill="#2f8a22"/>
<rect x="223.22" y="529.88" width="4.42" height="40.52" fill="#0a0a0a"/>
<rect x="224.12" y="530.78" width="2.62" height="39.62" fill="#2f8a22"/>
<rect x="226.74" y="517.85" width="4.42" height="52.55" fill="#0a0a0a"/>
<rect x="227.64" y="518.75" width="2.62" height="51.65" fill="#e3141b"/>
<rect x="230.25" y="473.16" width="4.42" height="97.24" fill="#0a0a0a"/>
<rect x="231.15" y="474.06" width="2.62" height="96.34" fill="#e3141b"/>
<rect x="233.77" y="519.67" width="4.42" height="50.73" fill="#0a0a0a"/>
<rect x="234.67" y="520.57" width="2.62" height="49.83" fill="#2f8a22"/>
<rect x="237.29" y="512.86" width="4.42" height="57.54" fill="#0a0a0a"/>
<rect x="238.19" y="513.76" width="2.62" height="56.64" fill="#2f8a22"/>
<rect x="240.81" y="534.41" width="4.42" height="35.99" fill="#0a0a0a"/>
<rect x="241.71" y="535.31" width="2.62" height="35.09" fill="#e3141b"/>
<rect x="244.33" y="526.93" width="4.42" height="43.47" fill="#0a0a0a"/>
<rect x="245.23" y="527.83" width="2.62" height="42.57" fill="#e3141b"/>
<rect x="247.84" y="537.14" width="4.42" height="33.26" fill="#0a0a0a"/>
<rect x="248.74" y="538.04" width="2.62" height="32.36" fill="#2f8a22"/>
<rect x="251.36" y="537.82" width="4.42" height="32.58" fill="#0a0a0a"/>
<rect x="252.26" y="538.72" width="2.62" height="31.68" fill="#2f8a22"/>
<rect x="254.88" y="545.08" width="4.42" height="25.32" fill="#0a0a0a"/>
<rect x="255.78" y="545.98" width="2.62" height="24.42" fill="#2f8a22"/>
<rect x="258.40" y="546.89" width="4.42" height="23.51" fill="#0a0a0a"/>
<rect x="259.30" y="547.79" width="2.62" height="22.61" fill="#2f8a22"/>
<rect x="261.92" y="550.97" width="4.42" height="19.43" fill="#0a0a0a"/>
<rect x="262.82" y="551.87" width="2.62" height="18.53" fill="#e3141b"/>
<rect x="265.43" y="542.35" width="4.42" height="28.05" fill="#0a0a0a"/>
<rect x="266.33" y="543.25" width="2.62" height="27.15" fill="#2f8a22"/>
<rect x="268.95" y="549.16" width="4.42" height="21.24" fill="#0a0a0a"/>
<rect x="269.85" y="550.06" width="2.62" height="20.34" fill="#2f8a22"/>
<rect x="272.47" y="548.03" width="4.42" height="22.37" fill="#0a0a0a"/>
<rect x="273.37" y="548.93" width="2.62" height="21.47" fill="#2f8a22"/>
<rect x="275.99" y="533.28" width="4.42" height="37.12" fill="#0a0a0a"/>
<rect x="276.89" y="534.18" width="2.62" height="36.22" fill="#e3141b"/>
<rect x="279.51" y="536.00" width="4.42" height="34.40" fill="#0a0a0a"/>
<rect x="280.41" y="536.90" width="2.62" height="33.50" fill="#2f8a22"/>
<rect x="283.02" y="545.76" width="4.42" height="24.64" fill="#0a0a0a"/>
<rect x="283.92" y="546.66" width="2.62" height="23.74" fill="#e3141b"/>
<rect x="286.54" y="545.76" width="4.42" height="24.64" fill="#0a0a0a"/>
<rect x="287.44" y="546.66" width="2.62" height="23.74" fill="#e3141b"/>
<rect x="290.06" y="542.35" width="4.42" height="28.05" fill="#0a0a0a"/>
<rect x="290.96" y="543.25" width="2.62" height="27.15" fill="#2f8a22"/>
<rect x="293.58" y="545.76" width="4.42" height="24.64" fill="#0a0a0a"/>
<rect x="294.48" y="546.66" width="2.62" height="23.74" fill="#2f8a22"/>
<rect x="297.10" y="561.18" width="4.42" height="9.22" fill="#0a0a0a"/>
<rect x="298.00" y="562.08" width="2.62" height="8.32" fill="#2f8a22"/>
<rect x="300.61" y="542.35" width="4.42" height="28.05" fill="#0a0a0a"/>
<rect x="301.51" y="543.25" width="2.62" height="27.15" fill="#e3141b"/>
<rect x="304.13" y="543.49" width="4.42" height="26.91" fill="#0a0a0a"/>
<rect x="305.03" y="544.39" width="2.62" height="26.01" fill="#2f8a22"/>
<rect x="307.65" y="539.63" width="4.42" height="30.77" fill="#0a0a0a"/>
<rect x="308.55" y="540.53" width="2.62" height="29.87" fill="#2f8a22"/>
<rect x="311.17" y="515.13" width="4.42" height="55.27" fill="#0a0a0a"/>
<rect x="312.07" y="516.03" width="2.62" height="54.37" fill="#2f8a22"/>
<rect x="314.69" y="543.49" width="4.42" height="26.91" fill="#0a0a0a"/>
<rect x="315.59" y="544.39" width="2.62" height="26.01" fill="#e3141b"/>
<rect x="318.20" y="538.95" width="4.42" height="31.45" fill="#0a0a0a"/>
<rect x="319.10" y="539.85" width="2.62" height="30.55" fill="#2f8a22"/>
<rect x="321.72" y="538.95" width="4.42" height="31.45" fill="#0a0a0a"/>
<rect x="322.62" y="539.85" width="2.62" height="30.55" fill="#e3141b"/>
<rect x="325.24" y="542.35" width="4.42" height="28.05" fill="#0a0a0a"/>
<rect x="326.14" y="543.25" width="2.62" height="27.15" fill="#e3141b"/>
<rect x="328.76" y="546.89" width="4.42" height="23.51" fill="#0a0a0a"/>
<rect x="329.66" y="547.79" width="2.62" height="22.61" fill="#2f8a22"/>
<rect x="332.28" y="537.14" width="4.42" height="33.26" fill="#0a0a0a"/>
<rect x="333.18" y="538.04" width="2.62" height="32.36" fill="#e3141b"/>
<rect x="335.79" y="539.63" width="4.42" height="30.77" fill="#0a0a0a"/>
<rect x="336.69" y="540.53" width="2.62" height="29.87" fill="#2f8a22"/>
<rect x="339.31" y="541.67" width="4.42" height="28.73" fill="#0a0a0a"/>
<rect x="340.21" y="542.57" width="2.62" height="27.83" fill="#2f8a22"/>
<rect x="342.83" y="539.63" width="4.42" height="30.77" fill="#0a0a0a"/>
<rect x="343.73" y="540.53" width="2.62" height="29.87" fill="#2f8a22"/>
<rect x="346.35" y="505.60" width="4.42" height="64.80" fill="#0a0a0a"/>
<rect x="347.25" y="506.50" width="2.62" height="63.90" fill="#e3141b"/>
<rect x="349.87" y="491.99" width="4.42" height="78.41" fill="#0a0a0a"/>
<rect x="350.77" y="492.89" width="2.62" height="77.51" fill="#2f8a22"/>
<rect x="353.38" y="537.82" width="4.42" height="32.58" fill="#0a0a0a"/>
<rect x="354.28" y="538.72" width="2.62" height="31.68" fill="#2f8a22"/>
<rect x="356.90" y="543.94" width="4.42" height="26.46" fill="#0a0a0a"/>
<rect x="357.80" y="544.84" width="2.62" height="25.56" fill="#2f8a22"/>
<rect x="360.42" y="529.88" width="4.42" height="40.52" fill="#0a0a0a"/>
<rect x="361.32" y="530.78" width="2.62" height="39.62" fill="#e3141b"/>
<rect x="363.94" y="529.88" width="4.42" height="40.52" fill="#0a0a0a"/>
<rect x="364.84" y="530.78" width="2.62" height="39.62" fill="#2f8a22"/>
<rect x="367.46" y="539.63" width="4.42" height="30.77" fill="#0a0a0a"/>
<rect x="368.36" y="540.53" width="2.62" height="29.87" fill="#2f8a22"/>
<rect x="370.97" y="543.49" width="4.42" height="26.91" fill="#0a0a0a"/>
<rect x="371.87" y="544.39" width="2.62" height="26.01" fill="#2f8a22"/>
<rect x="374.49" y="545.08" width="4.42" height="25.32" fill="#0a0a0a"/>
<rect x="375.39" y="545.98" width="2.62" height="24.42" fill="#2f8a22"/>
<rect x="378.01" y="552.56" width="4.42" height="17.84" fill="#0a0a0a"/>
<rect x="378.91" y="553.46" width="2.62" height="16.94" fill="#2f8a22"/>
<rect x="381.53" y="551.43" width="4.42" height="18.97" fill="#0a0a0a"/>
<rect x="382.43" y="552.33" width="2.62" height="18.07" fill="#2f8a22"/>
<rect x="385.05" y="523.75" width="4.42" height="46.65" fill="#0a0a0a"/>
<rect x="385.95" y="524.65" width="2.62" height="45.75" fill="#2f8a22"/>
<rect x="388.56" y="532.60" width="4.42" height="37.80" fill="#0a0a0a"/>
<rect x="389.46" y="533.50" width="2.62" height="36.90" fill="#e3141b"/>
<rect x="392.08" y="536.00" width="4.42" height="34.40" fill="#0a0a0a"/>
<rect x="392.98" y="536.90" width="2.62" height="33.50" fill="#2f8a22"/>
<rect x="395.60" y="548.71" width="4.42" height="21.69" fill="#0a0a0a"/>
<rect x="396.50" y="549.61" width="2.62" height="20.79" fill="#e3141b"/>
<rect x="399.12" y="542.81" width="4.42" height="27.59" fill="#0a0a0a"/>
<rect x="400.02" y="543.71" width="2.62" height="26.69" fill="#2f8a22"/>
<rect x="402.64" y="541.67" width="4.42" height="28.73" fill="#0a0a0a"/>
<rect x="403.54" y="542.57" width="2.62" height="27.83" fill="#2f8a22"/>
<rect x="406.15" y="536.00" width="4.42" height="34.40" fill="#0a0a0a"/>
<rect x="407.05" y="536.90" width="2.62" height="33.50" fill="#e3141b"/>
<rect x="409.67" y="531.01" width="4.42" height="39.39" fill="#0a0a0a"/>
<rect x="410.57" y="531.91" width="2.62" height="38.49" fill="#2f8a22"/>
<rect x="413.19" y="527.61" width="4.42" height="42.79" fill="#0a0a0a"/>
<rect x="414.09" y="528.51" width="2.62" height="41.89" fill="#2f8a22"/>
<rect x="416.71" y="537.82" width="4.42" height="32.58" fill="#0a0a0a"/>
<rect x="417.61" y="538.72" width="2.62" height="31.68" fill="#e3141b"/>
<rect x="420.23" y="528.74" width="4.42" height="41.66" fill="#0a0a0a"/>
<rect x="421.13" y="529.64" width="2.62" height="40.76" fill="#2f8a22"/>
<rect x="423.74" y="539.63" width="4.42" height="30.77" fill="#0a0a0a"/>
<rect x="424.64" y="540.53" width="2.62" height="29.87" fill="#e3141b"/>
<rect x="427.26" y="531.01" width="4.42" height="39.39" fill="#0a0a0a"/>
<rect x="428.16" y="531.91" width="2.62" height="38.49" fill="#e3141b"/>
<rect x="430.78" y="523.07" width="4.42" height="47.33" fill="#0a0a0a"/>
<rect x="431.68" y="523.97" width="2.62" height="46.43" fill="#2f8a22"/>
<rect x="434.30" y="516.27" width="4.42" height="54.13" fill="#0a0a0a"/>
<rect x="435.20" y="517.17" width="2.62" height="53.23" fill="#2f8a22"/>
<rect x="437.82" y="525.34" width="4.42" height="45.06" fill="#0a0a0a"/>
<rect x="438.72" y="526.24" width="2.62" height="44.16" fill="#e3141b"/>
<rect x="441.33" y="512.86" width="4.42" height="57.54" fill="#0a0a0a"/>
<rect x="442.23" y="513.76" width="2.62" height="56.64" fill="#2f8a22"/>
<rect x="444.85" y="503.79" width="4.42" height="66.61" fill="#0a0a0a"/>
<rect x="445.75" y="504.69" width="2.62" height="65.71" fill="#2f8a22"/>
<rect x="448.37" y="520.80" width="4.42" height="49.60" fill="#0a0a0a"/>
<rect x="449.27" y="521.70" width="2.62" height="48.70" fill="#2f8a22"/>
<rect x="451.89" y="526.93" width="4.42" height="43.47" fill="#0a0a0a"/>
<rect x="452.79" y="527.83" width="2.62" height="42.57" fill="#2f8a22"/>
<rect x="455.41" y="521.94" width="4.42" height="48.46" fill="#0a0a0a"/>
<rect x="456.31" y="522.84" width="2.62" height="47.56" fill="#e3141b"/>
<rect x="458.92" y="516.95" width="4.42" height="53.45" fill="#0a0a0a"/>
<rect x="459.82" y="517.85" width="2.62" height="52.55" fill="#2f8a22"/>
<rect x="462.44" y="520.80" width="4.42" height="49.60" fill="#0a0a0a"/>
<rect x="463.34" y="521.70" width="2.62" height="48.70" fill="#e3141b"/>
<rect x="465.96" y="519.67" width="4.42" height="50.73" fill="#0a0a0a"/>
<rect x="466.86" y="520.57" width="2.62" height="49.83" fill="#e3141b"/>
<rect x="469.48" y="519.67" width="4.42" height="50.73" fill="#0a0a0a"/>
<rect x="470.38" y="520.57" width="2.62" height="49.83" fill="#e3141b"/>
<rect x="473.00" y="527.61" width="4.42" height="42.79" fill="#0a0a0a"/>
<rect x="473.90" y="528.51" width="2.62" height="41.89" fill="#2f8a22"/>
<rect x="476.51" y="533.73" width="4.42" height="36.67" fill="#0a0a0a"/>
<rect x="477.41" y="534.63" width="2.62" height="35.77" fill="#2f8a22"/>
<rect x="480.03" y="535.09" width="4.42" height="35.31" fill="#0a0a0a"/>
<rect x="480.93" y="535.99" width="2.62" height="34.41" fill="#e3141b"/>
<rect x="483.55" y="534.41" width="4.42" height="35.99" fill="#0a0a0a"/>
<rect x="484.45" y="535.31" width="2.62" height="35.09" fill="#2f8a22"/>
<rect x="487.07" y="536.00" width="4.42" height="34.40" fill="#0a0a0a"/>
<rect x="487.97" y="536.90" width="2.62" height="33.50" fill="#e3141b"/>
<rect x="490.59" y="519.67" width="4.42" height="50.73" fill="#0a0a0a"/>
<rect x="491.49" y="520.57" width="2.62" height="49.83" fill="#2f8a22"/>
<rect x="494.10" y="529.88" width="4.42" height="40.52" fill="#0a0a0a"/>
<rect x="495.00" y="530.78" width="2.62" height="39.62" fill="#e3141b"/>
<rect x="497.62" y="533.73" width="4.42" height="36.67" fill="#0a0a0a"/>
<rect x="498.52" y="534.63" width="2.62" height="35.77" fill="#e3141b"/>
<rect x="501.14" y="528.74" width="4.42" height="41.66" fill="#0a0a0a"/>
<rect x="502.04" y="529.64" width="2.62" height="40.76" fill="#2f8a22"/>
<rect x="504.66" y="544.17" width="4.42" height="26.23" fill="#0a0a0a"/>
<rect x="505.56" y="545.07" width="2.62" height="25.33" fill="#2f8a22"/>
<rect x="508.18" y="538.95" width="4.42" height="31.45" fill="#0a0a0a"/>
<rect x="509.08" y="539.85" width="2.62" height="30.55" fill="#2f8a22"/>
<rect x="511.69" y="545.76" width="4.42" height="24.64" fill="#0a0a0a"/>
<rect x="512.59" y="546.66" width="2.62" height="23.74" fill="#2f8a22"/>
<rect x="515.21" y="548.71" width="4.42" height="21.69" fill="#0a0a0a"/>
<rect x="516.11" y="549.61" width="2.62" height="20.79" fill="#e3141b"/>
<rect x="518.73" y="550.97" width="4.42" height="19.43" fill="#0a0a0a"/>
<rect x="519.63" y="551.87" width="2.62" height="18.53" fill="#2f8a22"/>
<rect x="522.25" y="548.03" width="4.42" height="22.37" fill="#0a0a0a"/>
<rect x="523.15" y="548.93" width="2.62" height="21.47" fill="#2f8a22"/>
<rect x="525.77" y="509.91" width="4.42" height="60.49" fill="#0a0a0a"/>
<rect x="526.67" y="510.81" width="2.62" height="59.59" fill="#e3141b"/>
<rect x="529.28" y="552.11" width="4.42" height="18.29" fill="#0a0a0a"/>
<rect x="530.18" y="553.01" width="2.62" height="17.39" fill="#e3141b"/>
<rect x="532.80" y="539.63" width="4.42" height="30.77" fill="#0a0a0a"/>
<rect x="533.70" y="540.53" width="2.62" height="29.87" fill="#2f8a22"/>
<rect x="536.32" y="541.90" width="4.42" height="28.50" fill="#0a0a0a"/>
<rect x="537.22" y="542.80" width="2.62" height="27.60" fill="#e3141b"/>
<rect x="539.84" y="543.49" width="4.42" height="26.91" fill="#0a0a0a"/>
<rect x="540.74" y="544.39" width="2.62" height="26.01" fill="#2f8a22"/>
<rect x="543.36" y="545.76" width="4.42" height="24.64" fill="#0a0a0a"/>
<rect x="544.26" y="546.66" width="2.62" height="23.74" fill="#2f8a22"/>
<rect x="546.87" y="548.03" width="4.42" height="22.37" fill="#0a0a0a"/>
<rect x="547.77" y="548.93" width="2.62" height="21.47" fill="#e3141b"/>
<rect x="550.39" y="544.17" width="4.42" height="26.23" fill="#0a0a0a"/>
<rect x="551.29" y="545.07" width="2.62" height="25.33" fill="#2f8a22"/>
<rect x="553.91" y="537.82" width="4.42" height="32.58" fill="#0a0a0a"/>
<rect x="554.81" y="538.72" width="2.62" height="31.68" fill="#2f8a22"/>
<rect x="557.43" y="545.76" width="4.42" height="24.64" fill="#0a0a0a"/>
<rect x="558.33" y="546.66" width="2.62" height="23.74" fill="#2f8a22"/>
<rect x="560.95" y="532.60" width="4.42" height="37.80" fill="#0a0a0a"/>
<rect x="561.85" y="533.50" width="2.62" height="36.90" fill="#e3141b"/>
<rect x="564.46" y="520.12" width="4.42" height="50.28" fill="#0a0a0a"/>
<rect x="565.36" y="521.02" width="2.62" height="49.38" fill="#2f8a22"/>
<rect x="567.98" y="544.17" width="4.42" height="26.23" fill="#0a0a0a"/>
<rect x="568.88" y="545.07" width="2.62" height="25.33" fill="#e3141b"/>
<rect x="571.50" y="545.08" width="4.42" height="25.32" fill="#0a0a0a"/>
<rect x="572.40" y="545.98" width="2.62" height="24.42" fill="#2f8a22"/>
<rect x="575.02" y="544.17" width="4.42" height="26.23" fill="#0a0a0a"/>
<rect x="575.92" y="545.07" width="2.62" height="25.33" fill="#e3141b"/>
<rect x="578.54" y="544.17" width="4.42" height="26.23" fill="#0a0a0a"/>
<rect x="579.44" y="545.07" width="2.62" height="25.33" fill="#2f8a22"/>
<rect x="582.05" y="543.49" width="4.42" height="26.91" fill="#0a0a0a"/>
<rect x="582.95" y="544.39" width="2.62" height="26.01" fill="#2f8a22"/>
<rect x="585.57" y="545.76" width="4.42" height="24.64" fill="#0a0a0a"/>
<rect x="586.47" y="546.66" width="2.62" height="23.74" fill="#e3141b"/>
<rect x="589.09" y="545.08" width="4.42" height="25.32" fill="#0a0a0a"/>
<rect x="589.99" y="545.98" width="2.62" height="24.42" fill="#2f8a22"/>
<rect x="592.61" y="538.95" width="4.42" height="31.45" fill="#0a0a0a"/>
<rect x="593.51" y="539.85" width="2.62" height="30.55" fill="#2f8a22"/>
<rect x="596.13" y="544.17" width="4.42" height="26.23" fill="#0a0a0a"/>
<rect x="597.03" y="545.07" width="2.62" height="25.33" fill="#2f8a22"/>
<rect x="599.64" y="546.89" width="4.42" height="23.51" fill="#0a0a0a"/>
<rect x="600.54" y="547.79" width="2.62" height="22.61" fill="#e3141b"/>
<rect x="603.16" y="545.08" width="4.42" height="25.32" fill="#0a0a0a"/>
<rect x="604.06" y="545.98" width="2.62" height="24.42" fill="#2f8a22"/>
<rect x="606.68" y="536.00" width="4.42" height="34.40" fill="#0a0a0a"/>
<rect x="607.58" y="536.90" width="2.62" height="33.50" fill="#e3141b"/>
<rect x="610.20" y="545.76" width="4.42" height="24.64" fill="#0a0a0a"/>
<rect x="611.10" y="546.66" width="2.62" height="23.74" fill="#e3141b"/>
<rect x="613.72" y="543.03" width="4.42" height="27.37" fill="#0a0a0a"/>
<rect x="614.62" y="543.93" width="2.62" height="26.47" fill="#2f8a22"/>
<rect x="617.23" y="546.89" width="4.42" height="23.51" fill="#0a0a0a"/>
<rect x="618.13" y="547.79" width="2.62" height="22.61" fill="#e3141b"/>
<rect x="620.75" y="545.76" width="4.42" height="24.64" fill="#0a0a0a"/>
<rect x="621.65" y="546.66" width="2.62" height="23.74" fill="#e3141b"/>
<rect x="624.27" y="534.41" width="4.42" height="35.99" fill="#0a0a0a"/>
<rect x="625.17" y="535.31" width="2.62" height="35.09" fill="#e3141b"/>
<rect x="627.79" y="540.54" width="4.42" height="29.86" fill="#0a0a0a"/>
<rect x="628.69" y="541.44" width="2.62" height="28.96" fill="#e3141b"/>
<rect x="631.31" y="525.34" width="4.42" height="45.06" fill="#0a0a0a"/>
<rect x="632.21" y="526.24" width="2.62" height="44.16" fill="#e3141b"/>
<rect x="634.82" y="534.41" width="4.42" height="35.99" fill="#0a0a0a"/>
<rect x="635.72" y="535.31" width="2.62" height="35.09" fill="#2f8a22"/>
<rect x="638.34" y="545.76" width="4.42" height="24.64" fill="#0a0a0a"/>
<rect x="639.24" y="546.66" width="2.62" height="23.74" fill="#2f8a22"/>
<rect x="641.86" y="540.54" width="4.42" height="29.86" fill="#0a0a0a"/>
<rect x="642.76" y="541.44" width="2.62" height="28.96" fill="#2f8a22"/>
<rect x="645.38" y="533.28" width="4.42" height="37.12" fill="#0a0a0a"/>
<rect x="646.28" y="534.18" width="2.62" height="36.22" fill="#e3141b"/>
<rect x="648.90" y="524.66" width="4.42" height="45.74" fill="#0a0a0a"/>
<rect x="649.80" y="525.56" width="2.62" height="44.84" fill="#2f8a22"/>
<rect x="652.41" y="539.63" width="4.42" height="30.77" fill="#0a0a0a"/>
<rect x="653.31" y="540.53" width="2.62" height="29.87" fill="#2f8a22"/>
<rect x="655.93" y="540.09" width="4.42" height="30.31" fill="#0a0a0a"/>
<rect x="656.83" y="540.99" width="2.62" height="29.41" fill="#2f8a22"/>
<rect x="659.45" y="538.95" width="4.42" height="31.45" fill="#0a0a0a"/>
<rect x="660.35" y="539.85" width="2.62" height="30.55" fill="#2f8a22"/>
<rect x="662.97" y="521.48" width="4.42" height="48.92" fill="#0a0a0a"/>
<rect x="663.87" y="522.38" width="2.62" height="48.02" fill="#2f8a22"/>
<rect x="666.49" y="512.86" width="4.42" height="57.54" fill="#0a0a0a"/>
<rect x="667.39" y="513.76" width="2.62" height="56.64" fill="#2f8a22"/>
<rect x="670.00" y="535.09" width="4.42" height="35.31" fill="#0a0a0a"/>
<rect x="670.90" y="535.99" width="2.62" height="34.41" fill="#e3141b"/>
<rect x="673.52" y="529.88" width="4.42" height="40.52" fill="#0a0a0a"/>
<rect x="674.42" y="530.78" width="2.62" height="39.62" fill="#2f8a22"/>
<rect x="677.04" y="531.01" width="4.42" height="39.39" fill="#0a0a0a"/>
<rect x="677.94" y="531.91" width="2.62" height="38.49" fill="#e3141b"/>
<rect x="680.56" y="497.44" width="4.42" height="72.96" fill="#0a0a0a"/>
<rect x="681.46" y="498.34" width="2.62" height="72.06" fill="#2f8a22"/>
<rect x="684.08" y="528.74" width="4.42" height="41.66" fill="#0a0a0a"/>
<rect x="684.98" y="529.64" width="2.62" height="40.76" fill="#e3141b"/>
<rect x="687.59" y="545.76" width="4.42" height="24.64" fill="#0a0a0a"/>
<rect x="688.49" y="546.66" width="2.62" height="23.74" fill="#2f8a22"/>
<rect x="691.11" y="539.63" width="4.42" height="30.77" fill="#0a0a0a"/>
<rect x="692.01" y="540.53" width="2.62" height="29.87" fill="#2f8a22"/>
<rect x="694.63" y="514.68" width="4.42" height="55.72" fill="#0a0a0a"/>
<rect x="695.53" y="515.58" width="2.62" height="54.82" fill="#e3141b"/>
<rect x="698.15" y="535.09" width="4.42" height="35.31" fill="#0a0a0a"/>
<rect x="699.05" y="535.99" width="2.62" height="34.41" fill="#2f8a22"/>
<rect x="701.67" y="546.89" width="4.42" height="23.51" fill="#0a0a0a"/>
<rect x="702.57" y="547.79" width="2.62" height="22.61" fill="#2f8a22"/>
<rect x="705.18" y="546.21" width="4.42" height="24.19" fill="#0a0a0a"/>
<rect x="706.08" y="547.11" width="2.62" height="23.29" fill="#e3141b"/>
<rect x="708.70" y="540.09" width="4.42" height="30.31" fill="#0a0a0a"/>
<rect x="709.60" y="540.99" width="2.62" height="29.41" fill="#2f8a22"/>
<rect x="712.22" y="550.97" width="4.42" height="19.43" fill="#0a0a0a"/>
<rect x="713.12" y="551.87" width="2.62" height="18.53" fill="#e3141b"/>
<rect x="715.74" y="545.08" width="4.42" height="25.32" fill="#0a0a0a"/>
<rect x="716.64" y="545.98" width="2.62" height="24.42" fill="#2f8a22"/>
<rect x="719.26" y="538.95" width="4.42" height="31.45" fill="#0a0a0a"/>
<rect x="720.16" y="539.85" width="2.62" height="30.55" fill="#e3141b"/>
<rect x="722.77" y="541.22" width="4.42" height="29.18" fill="#0a0a0a"/>
<rect x="723.67" y="542.12" width="2.62" height="28.28" fill="#2f8a22"/>
<rect x="726.29" y="532.60" width="4.42" height="37.80" fill="#0a0a0a"/>
<rect x="727.19" y="533.50" width="2.62" height="36.90" fill="#2f8a22"/>
<rect x="729.81" y="541.22" width="4.42" height="29.18" fill="#0a0a0a"/>
<rect x="730.71" y="542.12" width="2.62" height="28.28" fill="#e3141b"/>
<rect x="733.33" y="540.09" width="4.42" height="30.31" fill="#0a0a0a"/>
<rect x="734.23" y="540.99" width="2.62" height="29.41" fill="#e3141b"/>
<rect x="736.85" y="550.97" width="4.42" height="19.43" fill="#0a0a0a"/>
<rect x="737.75" y="551.87" width="2.62" height="18.53" fill="#e3141b"/>
<rect x="740.36" y="537.82" width="4.42" height="32.58" fill="#0a0a0a"/>
<rect x="741.26" y="538.72" width="2.62" height="31.68" fill="#e3141b"/>
<rect x="743.88" y="546.89" width="4.42" height="23.51" fill="#0a0a0a"/>
<rect x="744.78" y="547.79" width="2.62" height="22.61" fill="#e3141b"/>
<rect x="747.40" y="546.21" width="4.42" height="24.19" fill="#0a0a0a"/>
<rect x="748.30" y="547.11" width="2.62" height="23.29" fill="#e3141b"/>
<rect x="750.92" y="520.12" width="4.42" height="50.28" fill="#0a0a0a"/>
<rect x="751.82" y="521.02" width="2.62" height="49.38" fill="#2f8a22"/>
<rect x="754.44" y="545.76" width="4.42" height="24.64" fill="#0a0a0a"/>
<rect x="755.34" y="546.66" width="2.62" height="23.74" fill="#e3141b"/>
<rect x="757.95" y="542.81" width="4.42" height="27.59" fill="#0a0a0a"/>
<rect x="758.85" y="543.71" width="2.62" height="26.69" fill="#2f8a22"/>
<rect x="761.47" y="550.97" width="4.42" height="19.43" fill="#0a0a0a"/>
<rect x="762.37" y="551.87" width="2.62" height="18.53" fill="#e3141b"/>
<rect x="764.99" y="537.82" width="4.42" height="32.58" fill="#0a0a0a"/>
<rect x="765.89" y="538.72" width="2.62" height="31.68" fill="#2f8a22"/>
<rect x="768.51" y="550.97" width="4.42" height="19.43" fill="#0a0a0a"/>
<rect x="769.41" y="551.87" width="2.62" height="18.53" fill="#e3141b"/>
<rect x="772.03" y="550.97" width="4.42" height="19.43" fill="#0a0a0a"/>
<rect x="772.93" y="551.87" width="2.62" height="18.53" fill="#2f8a22"/>
<rect x="775.54" y="543.49" width="4.42" height="26.91" fill="#0a0a0a"/>
<rect x="776.44" y="544.39" width="2.62" height="26.01" fill="#2f8a22"/>
<rect x="779.06" y="541.67" width="4.42" height="28.73" fill="#0a0a0a"/>
<rect x="779.96" y="542.57" width="2.62" height="27.83" fill="#e3141b"/>
<rect x="782.58" y="540.09" width="4.42" height="30.31" fill="#0a0a0a"/>
<rect x="783.48" y="540.99" width="2.62" height="29.41" fill="#2f8a22"/>
<rect x="786.10" y="549.84" width="4.42" height="20.56" fill="#0a0a0a"/>
<rect x="787.00" y="550.74" width="2.62" height="19.66" fill="#e3141b"/>
<rect x="789.62" y="544.17" width="4.42" height="26.23" fill="#0a0a0a"/>
<rect x="790.52" y="545.07" width="2.62" height="25.33" fill="#2f8a22"/>
<rect x="793.13" y="541.67" width="4.42" height="28.73" fill="#0a0a0a"/>
<rect x="794.03" y="542.57" width="2.62" height="27.83" fill="#2f8a22"/>
<rect x="796.65" y="537.14" width="4.42" height="33.26" fill="#0a0a0a"/>
<rect x="797.55" y="538.04" width="2.62" height="32.36" fill="#e3141b"/>
<rect x="800.17" y="521.94" width="4.42" height="48.46" fill="#0a0a0a"/>
<rect x="801.07" y="522.84" width="2.62" height="47.56" fill="#2f8a22"/>
<rect x="803.69" y="536.00" width="4.42" height="34.40" fill="#0a0a0a"/>
<rect x="804.59" y="536.90" width="2.62" height="33.50" fill="#2f8a22"/>
<rect x="807.21" y="521.94" width="4.42" height="48.46" fill="#0a0a0a"/>
<rect x="808.11" y="522.84" width="2.62" height="47.56" fill="#e3141b"/>
<rect x="810.72" y="544.17" width="4.42" height="26.23" fill="#0a0a0a"/>
<rect x="811.62" y="545.07" width="2.62" height="25.33" fill="#e3141b"/>
<rect x="814.24" y="542.81" width="4.42" height="27.59" fill="#0a0a0a"/>
<rect x="815.14" y="543.71" width="2.62" height="26.69" fill="#e3141b"/>
<rect x="817.76" y="486.09" width="4.42" height="84.31" fill="#0a0a0a"/>
<rect x="818.66" y="486.99" width="2.62" height="83.41" fill="#e3141b"/>
<rect x="821.28" y="538.27" width="4.42" height="32.13" fill="#0a0a0a"/>
<rect x="822.18" y="539.17" width="2.62" height="31.23" fill="#e3141b"/>
<rect x="824.80" y="538.27" width="4.42" height="32.13" fill="#0a0a0a"/>
<rect x="825.70" y="539.17" width="2.62" height="31.23" fill="#2f8a22"/>
<rect x="828.31" y="554.15" width="4.42" height="16.25" fill="#0a0a0a"/>
<rect x="829.21" y="555.05" width="2.62" height="15.35" fill="#e3141b"/>
<rect x="831.83" y="549.16" width="4.42" height="21.24" fill="#0a0a0a"/>
<rect x="832.73" y="550.06" width="2.62" height="20.34" fill="#2f8a22"/>
<rect x="835.35" y="549.16" width="4.42" height="21.24" fill="#0a0a0a"/>
<rect x="836.25" y="550.06" width="2.62" height="20.34" fill="#2f8a22"/>
<rect x="838.87" y="544.17" width="4.42" height="26.23" fill="#0a0a0a"/>
<rect x="839.77" y="545.07" width="2.62" height="25.33" fill="#e3141b"/>
<rect x="842.39" y="549.84" width="4.42" height="20.56" fill="#0a0a0a"/>
<rect x="843.29" y="550.74" width="2.62" height="19.66" fill="#2f8a22"/>
<rect x="845.90" y="541.67" width="4.42" height="28.73" fill="#0a0a0a"/>
<rect x="846.80" y="542.57" width="2.62" height="27.83" fill="#2f8a22"/>
<rect x="849.42" y="550.97" width="4.42" height="19.43" fill="#0a0a0a"/>
<rect x="850.32" y="551.87" width="2.62" height="18.53" fill="#2f8a22"/>
<rect x="852.94" y="546.89" width="4.42" height="23.51" fill="#0a0a0a"/>
<rect x="853.84" y="547.79" width="2.62" height="22.61" fill="#e3141b"/>
<rect x="856.46" y="548.71" width="4.42" height="21.69" fill="#0a0a0a"/>
<rect x="857.36" y="549.61" width="2.62" height="20.79" fill="#2f8a22"/>
<rect x="859.98" y="538.95" width="4.42" height="31.45" fill="#0a0a0a"/>
<rect x="860.88" y="539.85" width="2.62" height="30.55" fill="#2f8a22"/>
<rect x="863.49" y="545.08" width="4.42" height="25.32" fill="#0a0a0a"/>
<rect x="864.39" y="545.98" width="2.62" height="24.42" fill="#e3141b"/>
<rect x="867.01" y="538.27" width="4.42" height="32.13" fill="#0a0a0a"/>
<rect x="867.91" y="539.17" width="2.62" height="31.23" fill="#e3141b"/>
<rect x="870.53" y="545.08" width="4.42" height="25.32" fill="#0a0a0a"/>
<rect x="871.43" y="545.98" width="2.62" height="24.42" fill="#e3141b"/>
<rect x="874.05" y="538.27" width="4.42" height="32.13" fill="#0a0a0a"/>
<rect x="874.95" y="539.17" width="2.62" height="31.23" fill="#e3141b"/>
<rect x="877.57" y="533.28" width="4.42" height="37.12" fill="#0a0a0a"/>
<rect x="878.47" y="534.18" width="2.62" height="36.22" fill="#2f8a22"/>
<rect x="881.08" y="535.55" width="4.42" height="34.85" fill="#0a0a0a"/>
<rect x="881.98" y="536.45" width="2.62" height="33.95" fill="#e3141b"/>
<rect x="884.60" y="515.13" width="4.42" height="55.27" fill="#0a0a0a"/>
<rect x="885.50" y="516.03" width="2.62" height="54.37" fill="#2f8a22"/>
<rect x="888.12" y="529.20" width="4.42" height="41.20" fill="#0a0a0a"/>
<rect x="889.02" y="530.10" width="2.62" height="40.30" fill="#2f8a22"/>
<rect x="891.64" y="531.01" width="4.42" height="39.39" fill="#0a0a0a"/>
<rect x="892.54" y="531.91" width="2.62" height="38.49" fill="#e3141b"/>
<rect x="895.16" y="521.94" width="4.42" height="48.46" fill="#0a0a0a"/>
<rect x="896.06" y="522.84" width="2.62" height="47.56" fill="#e3141b"/>
<rect x="898.67" y="532.83" width="4.42" height="37.57" fill="#0a0a0a"/>
<rect x="899.57" y="533.73" width="2.62" height="36.67" fill="#2f8a22"/>
<rect x="902.19" y="532.15" width="4.42" height="38.25" fill="#0a0a0a"/>
<rect x="903.09" y="533.05" width="2.62" height="37.35" fill="#2f8a22"/>
<rect x="905.71" y="525.34" width="4.42" height="45.06" fill="#0a0a0a"/>
<rect x="906.61" y="526.24" width="2.62" height="44.16" fill="#e3141b"/>
<rect x="909.23" y="529.88" width="4.42" height="40.52" fill="#0a0a0a"/>
<rect x="910.13" y="530.78" width="2.62" height="39.62" fill="#2f8a22"/>
<rect x="912.75" y="538.95" width="4.42" height="31.45" fill="#0a0a0a"/>
<rect x="913.65" y="539.85" width="2.62" height="30.55" fill="#e3141b"/>
<rect x="916.26" y="545.76" width="4.42" height="24.64" fill="#0a0a0a"/>
<rect x="917.16" y="546.66" width="2.62" height="23.74" fill="#2f8a22"/>
<rect x="919.78" y="542.81" width="4.42" height="27.59" fill="#0a0a0a"/>
<rect x="920.68" y="543.71" width="2.62" height="26.69" fill="#e3141b"/>
<rect x="923.30" y="542.81" width="4.42" height="27.59" fill="#0a0a0a"/>
<rect x="924.20" y="543.71" width="2.62" height="26.69" fill="#e3141b"/>
<rect x="926.82" y="534.41" width="4.42" height="35.99" fill="#0a0a0a"/>
<rect x="927.72" y="535.31" width="2.62" height="35.09" fill="#e3141b"/>
<rect x="930.34" y="545.76" width="4.42" height="24.64" fill="#0a0a0a"/>
<rect x="931.24" y="546.66" width="2.62" height="23.74" fill="#2f8a22"/>
<rect x="933.85" y="545.08" width="4.42" height="25.32" fill="#0a0a0a"/>
<rect x="934.75" y="545.98" width="2.62" height="24.42" fill="#e3141b"/>
<rect x="937.37" y="545.76" width="4.42" height="24.64" fill="#0a0a0a"/>
<rect x="938.27" y="546.66" width="2.62" height="23.74" fill="#2f8a22"/>
<rect x="940.89" y="548.03" width="4.42" height="22.37" fill="#0a0a0a"/>
<rect x="941.79" y="548.93" width="2.62" height="21.47" fill="#e3141b"/>
<rect x="944.41" y="549.84" width="4.42" height="20.56" fill="#0a0a0a"/>
<rect x="945.31" y="550.74" width="2.62" height="19.66" fill="#2f8a22"/>
<rect x="947.93" y="546.89" width="4.42" height="23.51" fill="#0a0a0a"/>
<rect x="948.83" y="547.79" width="2.62" height="22.61" fill="#2f8a22"/>
<rect x="951.44" y="548.71" width="4.42" height="21.69" fill="#0a0a0a"/>
<rect x="952.34" y="549.61" width="2.62" height="20.79" fill="#2f8a22"/>
<rect x="954.96" y="545.76" width="4.42" height="24.64" fill="#0a0a0a"/>
<rect x="955.86" y="546.66" width="2.62" height="23.74" fill="#2f8a22"/>
<rect x="958.48" y="551.43" width="4.42" height="18.97" fill="#0a0a0a"/>
<rect x="959.38" y="552.33" width="2.62" height="18.07" fill="#2f8a22"/>
<rect x="962.00" y="545.76" width="4.42" height="24.64" fill="#0a0a0a"/>
<rect x="962.90" y="546.66" width="2.62" height="23.74" fill="#2f8a22"/>
<rect x="965.52" y="545.76" width="4.42" height="24.64" fill="#0a0a0a"/>
<rect x="966.42" y="546.66" width="2.62" height="23.74" fill="#e3141b"/>
<rect x="969.03" y="550.97" width="4.42" height="19.43" fill="#0a0a0a"/>
<rect x="969.93" y="551.87" width="2.62" height="18.53" fill="#2f8a22"/>
<rect x="972.55" y="531.69" width="4.42" height="38.71" fill="#0a0a0a"/>
<rect x="973.45" y="532.59" width="2.62" height="37.81" fill="#2f8a22"/>
<rect x="976.07" y="537.82" width="4.42" height="32.58" fill="#0a0a0a"/>
<rect x="976.97" y="538.72" width="2.62" height="31.68" fill="#2f8a22"/>
<rect x="979.59" y="536.23" width="4.42" height="34.17" fill="#0a0a0a"/>
<rect x="980.49" y="537.13" width="2.62" height="33.27" fill="#2f8a22"/>
<rect x="983.11" y="536.23" width="4.42" height="34.17" fill="#0a0a0a"/>
<rect x="984.01" y="537.13" width="2.62" height="33.27" fill="#e3141b"/>
<rect x="986.62" y="540.54" width="4.42" height="29.86" fill="#0a0a0a"/>
<rect x="987.52" y="541.44" width="2.62" height="28.96" fill="#e3141b"/>
<rect x="990.14" y="535.09" width="4.42" height="35.31" fill="#0a0a0a"/>
<rect x="991.04" y="535.99" width="2.62" height="34.41" fill="#e3141b"/>
<rect x="993.66" y="537.82" width="4.42" height="32.58" fill="#0a0a0a"/>
<rect x="994.56" y="538.72" width="2.62" height="31.68" fill="#e3141b"/>
<rect x="997.18" y="532.60" width="4.42" height="37.80" fill="#0a0a0a"/>
<rect x="998.08" y="533.50" width="2.62" height="36.90" fill="#e3141b"/>
<rect x="1000.70" y="548.03" width="4.42" height="22.37" fill="#0a0a0a"/>
<rect x="1001.60" y="548.93" width="2.62" height="21.47" fill="#2f8a22"/>
<rect x="1004.21" y="541.67" width="4.42" height="28.73" fill="#0a0a0a"/>
<rect x="1005.11" y="542.57" width="2.62" height="27.83" fill="#e3141b"/>
<rect x="1007.73" y="538.95" width="4.42" height="31.45" fill="#0a0a0a"/>
<rect x="1008.63" y="539.85" width="2.62" height="30.55" fill="#e3141b"/>
<rect x="1011.25" y="539.63" width="4.42" height="30.77" fill="#0a0a0a"/>
<rect x="1012.15" y="540.53" width="2.62" height="29.87" fill="#e3141b"/>
<rect x="1014.77" y="537.82" width="4.42" height="32.58" fill="#0a0a0a"/>
<rect x="1015.67" y="538.72" width="2.62" height="31.68" fill="#e3141b"/>
<rect x="1018.29" y="532.60" width="4.42" height="37.80" fill="#0a0a0a"/>
<rect x="1019.19" y="533.50" width="2.62" height="36.90" fill="#e3141b"/>
<rect x="1021.80" y="486.77" width="4.42" height="83.63" fill="#0a0a0a"/>
<rect x="1022.70" y="487.67" width="2.62" height="82.73" fill="#2f8a22"/>
<rect x="1025.32" y="541.67" width="4.42" height="28.73" fill="#0a0a0a"/>
<rect x="1026.22" y="542.57" width="2.62" height="27.83" fill="#2f8a22"/>
<rect x="1028.84" y="548.71" width="4.42" height="21.69" fill="#0a0a0a"/>
<rect x="1029.74" y="549.61" width="2.62" height="20.79" fill="#2f8a22"/>
<rect x="1032.36" y="545.08" width="4.42" height="25.32" fill="#0a0a0a"/>
<rect x="1033.26" y="545.98" width="2.62" height="24.42" fill="#e3141b"/>
<rect x="1035.88" y="542.81" width="4.42" height="27.59" fill="#0a0a0a"/>
<rect x="1036.78" y="543.71" width="2.62" height="26.69" fill="#e3141b"/>
<rect x="1039.39" y="536.00" width="4.42" height="34.40" fill="#0a0a0a"/>
<rect x="1040.29" y="536.90" width="2.62" height="33.50" fill="#2f8a22"/>
<rect x="1042.91" y="533.96" width="4.42" height="36.44" fill="#0a0a0a"/>
<rect x="1043.81" y="534.86" width="2.62" height="35.54" fill="#2f8a22"/>
<rect x="1046.43" y="538.95" width="4.42" height="31.45" fill="#0a0a0a"/>
<rect x="1047.33" y="539.85" width="2.62" height="30.55" fill="#e3141b"/>
<rect x="1049.95" y="537.82" width="4.42" height="32.58" fill="#0a0a0a"/>
<rect x="1050.85" y="538.72" width="2.62" height="31.68" fill="#e3141b"/>
<rect x="1053.47" y="534.41" width="4.42" height="35.99" fill="#0a0a0a"/>
<rect x="1054.37" y="535.31" width="2.62" height="35.09" fill="#e3141b"/>
<rect x="1056.98" y="524.66" width="4.42" height="45.74" fill="#0a0a0a"/>
<rect x="1057.88" y="525.56" width="2.62" height="44.84" fill="#e3141b"/>
<rect x="1060.50" y="533.96" width="4.42" height="36.44" fill="#0a0a0a"/>
<rect x="1061.40" y="534.86" width="2.62" height="35.54" fill="#e3141b"/>
<rect x="1064.02" y="531.69" width="4.42" height="38.71" fill="#0a0a0a"/>
<rect x="1064.92" y="532.59" width="2.62" height="37.81" fill="#2f8a22"/>
<rect x="1067.54" y="543.49" width="4.42" height="26.91" fill="#0a0a0a"/>
<rect x="1068.44" y="544.39" width="2.62" height="26.01" fill="#2f8a22"/>
<rect x="1071.06" y="536.68" width="4.42" height="33.72" fill="#0a0a0a"/>
<rect x="1071.96" y="537.58" width="2.62" height="32.82" fill="#e3141b"/>
<rect x="1074.57" y="533.28" width="4.42" height="37.12" fill="#0a0a0a"/>
<rect x="1075.47" y="534.18" width="2.62" height="36.22" fill="#2f8a22"/>
<rect x="1078.09" y="545.76" width="4.42" height="24.64" fill="#0a0a0a"/>
<rect x="1078.99" y="546.66" width="2.62" height="23.74" fill="#2f8a22"/>
<rect x="1081.61" y="540.54" width="4.42" height="29.86" fill="#0a0a0a"/>
<rect x="1082.51" y="541.44" width="2.62" height="28.96" fill="#2f8a22"/>
<rect x="1085.13" y="537.82" width="4.42" height="32.58" fill="#0a0a0a"/>
<rect x="1086.03" y="538.72" width="2.62" height="31.68" fill="#e3141b"/>
<rect x="1088.65" y="544.17" width="4.42" height="26.23" fill="#0a0a0a"/>
<rect x="1089.55" y="545.07" width="2.62" height="25.33" fill="#e3141b"/>
<rect x="1092.16" y="536.00" width="4.42" height="34.40" fill="#0a0a0a"/>
<rect x="1093.06" y="536.90" width="2.62" height="33.50" fill="#e3141b"/>
<rect x="1095.68" y="551.43" width="4.42" height="18.97" fill="#0a0a0a"/>
<rect x="1096.58" y="552.33" width="2.62" height="18.07" fill="#e3141b"/>
<rect x="1099.20" y="539.63" width="4.42" height="30.77" fill="#0a0a0a"/>
<rect x="1100.10" y="540.53" width="2.62" height="29.87" fill="#2f8a22"/>
<rect x="1102.72" y="539.63" width="4.42" height="30.77" fill="#0a0a0a"/>
<rect x="1103.62" y="540.53" width="2.62" height="29.87" fill="#e3141b"/>
<rect x="1106.24" y="529.88" width="4.42" height="40.52" fill="#0a0a0a"/>
<rect x="1107.14" y="530.78" width="2.62" height="39.62" fill="#2f8a22"/>
<rect x="1109.75" y="508.78" width="4.42" height="61.62" fill="#0a0a0a"/>
<rect x="1110.65" y="509.68" width="2.62" height="60.72" fill="#e3141b"/>
<rect x="1113.27" y="535.09" width="4.42" height="35.31" fill="#0a0a0a"/>
<rect x="1114.17" y="535.99" width="2.62" height="34.41" fill="#2f8a22"/>
<rect x="1116.79" y="528.74" width="4.42" height="41.66" fill="#0a0a0a"/>
<rect x="1117.69" y="529.64" width="2.62" height="40.76" fill="#e3141b"/>
<rect x="1120.31" y="535.09" width="4.42" height="35.31" fill="#0a0a0a"/>
<rect x="1121.21" y="535.99" width="2.62" height="34.41" fill="#e3141b"/>
<rect x="1123.83" y="532.60" width="4.42" height="37.80" fill="#0a0a0a"/>
<rect x="1124.73" y="533.50" width="2.62" height="36.90" fill="#e3141b"/>
<rect x="1127.34" y="533.28" width="4.42" height="37.12" fill="#0a0a0a"/>
<rect x="1128.24" y="534.18" width="2.62" height="36.22" fill="#e3141b"/>
<rect x="1130.86" y="538.95" width="4.42" height="31.45" fill="#0a0a0a"/>
<rect x="1131.76" y="539.85" width="2.62" height="30.55" fill="#2f8a22"/>
<rect x="1134.38" y="545.08" width="4.42" height="25.32" fill="#0a0a0a"/>
<rect x="1135.28" y="545.98" width="2.62" height="24.42" fill="#2f8a22"/>
<rect x="1137.90" y="502.65" width="4.42" height="67.75" fill="#0a0a0a"/>
<rect x="1138.80" y="503.55" width="2.62" height="66.85" fill="#e3141b"/>
<rect x="1141.42" y="535.09" width="4.42" height="35.31" fill="#0a0a0a"/>
<rect x="1142.32" y="535.99" width="2.62" height="34.41" fill="#2f8a22"/>
<rect x="1144.93" y="535.09" width="4.42" height="35.31" fill="#0a0a0a"/>
<rect x="1145.83" y="535.99" width="2.62" height="34.41" fill="#2f8a22"/>
<rect x="1148.45" y="543.49" width="4.42" height="26.91" fill="#0a0a0a"/>
<rect x="1149.35" y="544.39" width="2.62" height="26.01" fill="#e3141b"/>
<rect x="1151.97" y="532.60" width="4.42" height="37.80" fill="#0a0a0a"/>
<rect x="1152.87" y="533.50" width="2.62" height="36.90" fill="#e3141b"/>
<rect x="1155.49" y="544.17" width="4.42" height="26.23" fill="#0a0a0a"/>
<rect x="1156.39" y="545.07" width="2.62" height="25.33" fill="#e3141b"/>
<rect x="1159.01" y="534.41" width="4.42" height="35.99" fill="#0a0a0a"/>
<rect x="1159.91" y="535.31" width="2.62" height="35.09" fill="#2f8a22"/>
<rect x="1162.52" y="514.68" width="4.42" height="55.72" fill="#0a0a0a"/>
<rect x="1163.42" y="515.58" width="2.62" height="54.82" fill="#2f8a22"/>
<rect x="1166.04" y="536.00" width="4.42" height="34.40" fill="#0a0a0a"/>
<rect x="1166.94" y="536.90" width="2.62" height="33.50" fill="#2f8a22"/>
<rect x="1169.56" y="532.60" width="4.42" height="37.80" fill="#0a0a0a"/>
<rect x="1170.46" y="533.50" width="2.62" height="36.90" fill="#e3141b"/>
<rect x="1173.08" y="537.14" width="4.42" height="33.26" fill="#0a0a0a"/>
<rect x="1173.98" y="538.04" width="2.62" height="32.36" fill="#2f8a22"/>
<rect x="1176.60" y="542.81" width="4.42" height="27.59" fill="#0a0a0a"/>
<rect x="1177.50" y="543.71" width="2.62" height="26.69" fill="#2f8a22"/>
<rect x="1180.11" y="543.49" width="4.42" height="26.91" fill="#0a0a0a"/>
<rect x="1181.01" y="544.39" width="2.62" height="26.01" fill="#2f8a22"/>
<rect x="1183.63" y="523.75" width="4.42" height="46.65" fill="#0a0a0a"/>
<rect x="1184.53" y="524.65" width="2.62" height="45.75" fill="#2f8a22"/>
<rect x="1187.15" y="537.14" width="4.42" height="33.26" fill="#0a0a0a"/>
<rect x="1188.05" y="538.04" width="2.62" height="32.36" fill="#2f8a22"/>
<rect x="1190.67" y="544.17" width="4.42" height="26.23" fill="#0a0a0a"/>
<rect x="1191.57" y="545.07" width="2.62" height="25.33" fill="#2f8a22"/>
<rect x="1194.19" y="551.43" width="4.42" height="18.97" fill="#0a0a0a"/>
<rect x="1195.09" y="552.33" width="2.62" height="18.07" fill="#e3141b"/>
<rect x="1197.70" y="537.14" width="4.42" height="33.26" fill="#0a0a0a"/>
<rect x="1198.60" y="538.04" width="2.62" height="32.36" fill="#2f8a22"/>
<rect x="1201.22" y="523.07" width="4.42" height="47.33" fill="#0a0a0a"/>
<rect x="1202.12" y="523.97" width="2.62" height="46.43" fill="#e3141b"/>
<rect x="1204.74" y="539.63" width="4.42" height="30.77" fill="#0a0a0a"/>
<rect x="1205.64" y="540.53" width="2.62" height="29.87" fill="#2f8a22"/>
<rect x="1208.26" y="537.14" width="4.42" height="33.26" fill="#0a0a0a"/>
<rect x="1209.16" y="538.04" width="2.62" height="32.36" fill="#2f8a22"/>
<rect x="1211.78" y="538.95" width="4.42" height="31.45" fill="#0a0a0a"/>
<rect x="1212.68" y="539.85" width="2.62" height="30.55" fill="#e3141b"/>
<rect x="1215.29" y="532.60" width="4.42" height="37.80" fill="#0a0a0a"/>
<rect x="1216.19" y="533.50" width="2.62" height="36.90" fill="#e3141b"/>
<rect x="1218.81" y="537.14" width="4.42" height="33.26" fill="#0a0a0a"/>
<rect x="1219.71" y="538.04" width="2.62" height="32.36" fill="#2f8a22"/>
<rect x="1222.33" y="542.81" width="4.42" height="27.59" fill="#0a0a0a"/>
<rect x="1223.23" y="543.71" width="2.62" height="26.69" fill="#e3141b"/>
<rect x="1225.85" y="543.49" width="4.42" height="26.91" fill="#0a0a0a"/>
<rect x="1226.75" y="544.39" width="2.62" height="26.01" fill="#2f8a22"/>
<rect x="1229.37" y="546.89" width="4.42" height="23.51" fill="#0a0a0a"/>
<rect x="1230.27" y="547.79" width="2.62" height="22.61" fill="#e3141b"/>
<rect x="1232.88" y="520.12" width="4.42" height="50.28" fill="#0a0a0a"/>
<rect x="1233.78" y="521.02" width="2.62" height="49.38" fill="#e3141b"/>
<rect x="1236.40" y="526.93" width="4.42" height="43.47" fill="#0a0a0a"/>
<rect x="1237.30" y="527.83" width="2.62" height="42.57" fill="#2f8a22"/>
<rect x="1239.92" y="533.28" width="4.42" height="37.12" fill="#0a0a0a"/>
<rect x="1240.82" y="534.18" width="2.62" height="36.22" fill="#e3141b"/>
<rect x="1243.44" y="520.12" width="4.42" height="50.28" fill="#0a0a0a"/>
<rect x="1244.34" y="521.02" width="2.62" height="49.38" fill="#2f8a22"/>
<rect x="1246.96" y="495.17" width="4.42" height="75.23" fill="#0a0a0a"/>
<rect x="1247.86" y="496.07" width="2.62" height="74.33" fill="#e3141b"/>
<rect x="1250.47" y="548.03" width="4.42" height="22.37" fill="#0a0a0a"/>
<rect x="1251.37" y="548.93" width="2.62" height="21.47" fill="#e3141b"/>
<rect x="1253.99" y="558.69" width="4.42" height="11.71" fill="#0a0a0a"/>
<rect x="1254.89" y="559.59" width="2.62" height="10.81" fill="#2f8a22"/>
<rect x="1257.51" y="555.97" width="4.42" height="14.43" fill="#0a0a0a"/>
<rect x="1258.41" y="556.87" width="2.62" height="13.53" fill="#e3141b"/>
<rect x="1261.03" y="550.97" width="4.42" height="19.43" fill="#0a0a0a"/>
<rect x="1261.93" y="551.87" width="2.62" height="18.53" fill="#e3141b"/>
<rect x="1264.55" y="549.16" width="4.42" height="21.24" fill="#0a0a0a"/>
<rect x="1265.45" y="550.06" width="2.62" height="20.34" fill="#e3141b"/>
<rect x="1268.06" y="548.03" width="4.42" height="22.37" fill="#0a0a0a"/>
<rect x="1268.96" y="548.93" width="2.62" height="21.47" fill="#2f8a22"/>
<rect x="1271.58" y="545.76" width="4.42" height="24.64" fill="#0a0a0a"/>
<rect x="1272.48" y="546.66" width="2.62" height="23.74" fill="#e3141b"/>
<rect x="1275.10" y="546.89" width="4.42" height="23.51" fill="#0a0a0a"/>
<rect x="1276.00" y="547.79" width="2.62" height="22.61" fill="#e3141b"/>
<rect x="1278.62" y="523.75" width="4.42" height="46.65" fill="#0a0a0a"/>
<rect x="1279.52" y="524.65" width="2.62" height="45.75" fill="#e3141b"/>
<rect x="1282.14" y="534.41" width="4.42" height="35.99" fill="#0a0a0a"/>
<rect x="1283.04" y="535.31" width="2.62" height="35.09" fill="#e3141b"/>
<rect x="1285.65" y="532.15" width="4.42" height="38.25" fill="#0a0a0a"/>
<rect x="1286.55" y="533.05" width="2.62" height="37.35" fill="#2f8a22"/>
<rect x="1289.17" y="518.99" width="4.42" height="51.41" fill="#0a0a0a"/>
<rect x="1290.07" y="519.89" width="2.62" height="50.51" fill="#e3141b"/>
<rect x="1292.69" y="507.19" width="4.42" height="63.21" fill="#0a0a0a"/>
<rect x="1293.59" y="508.09" width="2.62" height="62.31" fill="#2f8a22"/>
<rect x="1296.21" y="535.09" width="4.42" height="35.31" fill="#0a0a0a"/>
<rect x="1297.11" y="535.99" width="2.62" height="34.41" fill="#2f8a22"/>
<rect x="1299.73" y="531.01" width="4.42" height="39.39" fill="#0a0a0a"/>
<rect x="1300.63" y="531.91" width="2.62" height="38.49" fill="#2f8a22"/>
<rect x="1303.24" y="545.08" width="4.42" height="25.32" fill="#0a0a0a"/>
<rect x="1304.14" y="545.98" width="2.62" height="24.42" fill="#2f8a22"/>
<rect x="1306.76" y="531.01" width="4.42" height="39.39" fill="#0a0a0a"/>
<rect x="1307.66" y="531.91" width="2.62" height="38.49" fill="#2f8a22"/>
<rect x="1310.28" y="532.15" width="4.42" height="38.25" fill="#0a0a0a"/>
<rect x="1311.18" y="533.05" width="2.62" height="37.35" fill="#e3141b"/>
<rect x="1313.80" y="529.88" width="4.42" height="40.52" fill="#0a0a0a"/>
<rect x="1314.70" y="530.78" width="2.62" height="39.62" fill="#e3141b"/>
<rect x="1317.32" y="520.12" width="4.42" height="50.28" fill="#0a0a0a"/>
<rect x="1318.22" y="521.02" width="2.62" height="49.38" fill="#2f8a22"/>
<rect x="1320.83" y="527.61" width="4.42" height="42.79" fill="#0a0a0a"/>
<rect x="1321.73" y="528.51" width="2.62" height="41.89" fill="#e3141b"/>
<rect x="1324.35" y="531.01" width="4.42" height="39.39" fill="#0a0a0a"/>
<rect x="1325.25" y="531.91" width="2.62" height="38.49" fill="#2f8a22"/>
<rect x="1327.87" y="533.28" width="4.42" height="37.12" fill="#0a0a0a"/>
<rect x="1328.77" y="534.18" width="2.62" height="36.22" fill="#e3141b"/>
<rect x="1331.39" y="545.76" width="4.42" height="24.64" fill="#0a0a0a"/>
<rect x="1332.29" y="546.66" width="2.62" height="23.74" fill="#e3141b"/>
<rect x="1334.91" y="528.74" width="4.42" height="41.66" fill="#0a0a0a"/>
<rect x="1335.81" y="529.64" width="2.62" height="40.76" fill="#2f8a22"/>
<rect x="1338.42" y="486.09" width="4.42" height="84.31" fill="#0a0a0a"/>
<rect x="1339.32" y="486.99" width="2.62" height="83.41" fill="#e3141b"/>
<rect x="1341.94" y="518.08" width="4.42" height="52.32" fill="#0a0a0a"/>
<rect x="1342.84" y="518.98" width="2.62" height="51.42" fill="#2f8a22"/>
<rect x="1345.46" y="538.95" width="4.42" height="31.45" fill="#0a0a0a"/>
<rect x="1346.36" y="539.85" width="2.62" height="30.55" fill="#e3141b"/>
<rect x="1348.98" y="538.95" width="4.42" height="31.45" fill="#0a0a0a"/>
<rect x="1349.88" y="539.85" width="2.62" height="30.55" fill="#2f8a22"/>
<rect x="1352.50" y="535.55" width="4.42" height="34.85" fill="#0a0a0a"/>
<rect x="1353.40" y="536.45" width="2.62" height="33.95" fill="#e3141b"/>
<rect x="1356.01" y="539.63" width="4.42" height="30.77" fill="#0a0a0a"/>
<rect x="1356.91" y="540.53" width="2.62" height="29.87" fill="#2f8a22"/>
<rect x="1359.53" y="538.95" width="4.42" height="31.45" fill="#0a0a0a"/>
<rect x="1360.43" y="539.85" width="2.62" height="30.55" fill="#e3141b"/>
<rect x="1363.05" y="544.17" width="4.42" height="26.23" fill="#0a0a0a"/>
<rect x="1363.95" y="545.07" width="2.62" height="25.33" fill="#2f8a22"/>
<rect x="1366.57" y="544.17" width="4.42" height="26.23" fill="#0a0a0a"/>
<rect x="1367.47" y="545.07" width="2.62" height="25.33" fill="#e3141b"/>
<rect x="1370.09" y="541.67" width="4.42" height="28.73" fill="#0a0a0a"/>
<rect x="1370.99" y="542.57" width="2.62" height="27.83" fill="#2f8a22"/>
<rect x="1373.60" y="538.95" width="4.42" height="31.45" fill="#0a0a0a"/>
<rect x="1374.50" y="539.85" width="2.62" height="30.55" fill="#e3141b"/>
<rect x="1377.12" y="540.54" width="4.42" height="29.86" fill="#0a0a0a"/>
<rect x="1378.02" y="541.44" width="2.62" height="28.96" fill="#2f8a22"/>
<rect x="1380.64" y="537.14" width="4.42" height="33.26" fill="#0a0a0a"/>
<rect x="1381.54" y="538.04" width="2.62" height="32.36" fill="#2f8a22"/>
<rect x="1384.16" y="545.08" width="4.42" height="25.32" fill="#0a0a0a"/>
<rect x="1385.06" y="545.98" width="2.62" height="24.42" fill="#2f8a22"/>
<rect x="1387.68" y="534.41" width="4.42" height="35.99" fill="#0a0a0a"/>
<rect x="1388.58" y="535.31" width="2.62" height="35.09" fill="#2f8a22"/>
<rect x="1391.19" y="528.74" width="4.42" height="41.66" fill="#0a0a0a"/>
<rect x="1392.09" y="529.64" width="2.62" height="40.76" fill="#2f8a22"/>
<rect x="1394.71" y="526.02" width="4.42" height="44.38" fill="#0a0a0a"/>
<rect x="1395.61" y="526.92" width="2.62" height="43.48" fill="#2f8a22"/>
<rect x="1398.23" y="540.77" width="4.42" height="29.63" fill="#0a0a0a"/>
<rect x="1399.13" y="541.67" width="2.62" height="28.73" fill="#e3141b"/>
<rect x="1401.75" y="542.81" width="4.42" height="27.59" fill="#0a0a0a"/>
<rect x="1402.65" y="543.71" width="2.62" height="26.69" fill="#2f8a22"/>
<rect x="1405.27" y="529.88" width="4.42" height="40.52" fill="#0a0a0a"/>
<rect x="1406.17" y="530.78" width="2.62" height="39.62" fill="#2f8a22"/>
<rect x="1408.78" y="534.41" width="4.42" height="35.99" fill="#0a0a0a"/>
<rect x="1409.68" y="535.31" width="2.62" height="35.09" fill="#2f8a22"/>
<rect x="1412.30" y="523.75" width="4.42" height="46.65" fill="#0a0a0a"/>
<rect x="1413.20" y="524.65" width="2.62" height="45.75" fill="#e3141b"/>
<rect x="1415.82" y="544.17" width="4.42" height="26.23" fill="#0a0a0a"/>
<rect x="1416.72" y="545.07" width="2.62" height="25.33" fill="#2f8a22"/>
<rect x="1419.34" y="534.41" width="4.42" height="35.99" fill="#0a0a0a"/>
<rect x="1420.24" y="535.31" width="2.62" height="35.09" fill="#2f8a22"/>
<rect x="1422.86" y="492.90" width="4.42" height="77.50" fill="#0a0a0a"/>
<rect x="1423.76" y="493.80" width="2.62" height="76.60" fill="#2f8a22"/>
<rect x="1426.37" y="495.85" width="4.42" height="74.55" fill="#0a0a0a"/>
<rect x="1427.27" y="496.75" width="2.62" height="73.65" fill="#2f8a22"/>
<rect x="1429.89" y="519.67" width="4.42" height="50.73" fill="#0a0a0a"/>
<rect x="1430.79" y="520.57" width="2.62" height="49.83" fill="#e3141b"/>
<rect x="1433.41" y="501.07" width="4.42" height="69.33" fill="#0a0a0a"/>
<rect x="1434.31" y="501.97" width="2.62" height="68.43" fill="#e3141b"/>
<rect x="1436.93" y="537.14" width="4.42" height="33.26" fill="#0a0a0a"/>
<rect x="1437.83" y="538.04" width="2.62" height="32.36" fill="#e3141b"/>
<rect x="1440.45" y="535.09" width="4.42" height="35.31" fill="#0a0a0a"/>
<rect x="1441.35" y="535.99" width="2.62" height="34.41" fill="#e3141b"/>
<rect x="1443.96" y="526.93" width="4.42" height="43.47" fill="#0a0a0a"/>
<rect x="1444.86" y="527.83" width="2.62" height="42.57" fill="#2f8a22"/>
<rect x="1447.48" y="542.81" width="4.42" height="27.59" fill="#0a0a0a"/>
<rect x="1448.38" y="543.71" width="2.62" height="26.69" fill="#e3141b"/>
<rect x="1451.00" y="507.19" width="4.42" height="63.21" fill="#0a0a0a"/>
<rect x="1451.90" y="508.09" width="2.62" height="62.31" fill="#2f8a22"/>
<rect x="1454.52" y="528.29" width="4.42" height="42.11" fill="#0a0a0a"/>
<rect x="1455.42" y="529.19" width="2.62" height="41.21" fill="#e3141b"/>
<rect x="1458.04" y="501.97" width="4.42" height="68.43" fill="#0a0a0a"/>
<rect x="1458.94" y="502.87" width="2.62" height="67.53" fill="#2f8a22"/>
<rect x="1461.55" y="535.09" width="4.42" height="35.31" fill="#0a0a0a"/>
<rect x="1462.45" y="535.99" width="2.62" height="34.41" fill="#2f8a22"/>
<rect x="1465.07" y="531.01" width="4.42" height="39.39" fill="#0a0a0a"/>
<rect x="1465.97" y="531.91" width="2.62" height="38.49" fill="#e3141b"/>
<rect x="1468.59" y="534.41" width="4.42" height="35.99" fill="#0a0a0a"/>
<rect x="1469.49" y="535.31" width="2.62" height="35.09" fill="#2f8a22"/>
<rect x="1472.11" y="548.03" width="4.42" height="22.37" fill="#0a0a0a"/>
<rect x="1473.01" y="548.93" width="2.62" height="21.47" fill="#2f8a22"/>
<rect x="1475.63" y="548.71" width="4.42" height="21.69" fill="#0a0a0a"/>
<rect x="1476.53" y="549.61" width="2.62" height="20.79" fill="#e3141b"/>
<rect x="1479.14" y="522.62" width="4.42" height="47.78" fill="#0a0a0a"/>
<rect x="1480.04" y="523.52" width="2.62" height="46.88" fill="#2f8a22"/>
<rect x="1482.66" y="532.60" width="4.42" height="37.80" fill="#0a0a0a"/>
<rect x="1483.56" y="533.50" width="2.62" height="36.90" fill="#2f8a22"/>
<rect x="1486.18" y="533.73" width="4.42" height="36.67" fill="#0a0a0a"/>
<rect x="1487.08" y="534.63" width="2.62" height="35.77" fill="#e3141b"/>
<rect x="1489.70" y="528.06" width="4.42" height="42.34" fill="#0a0a0a"/>
<rect x="1490.60" y="528.96" width="2.62" height="41.44" fill="#2f8a22"/>
<rect x="1493.22" y="514.00" width="4.42" height="56.40" fill="#0a0a0a"/>
<rect x="1494.12" y="514.90" width="2.62" height="55.50" fill="#e3141b"/>
<rect x="1496.73" y="511.27" width="4.42" height="59.13" fill="#0a0a0a"/>
<rect x="1497.63" y="512.17" width="2.62" height="58.23" fill="#e3141b"/>
<rect x="1500.25" y="526.93" width="4.42" height="43.47" fill="#0a0a0a"/>
<rect x="1501.15" y="527.83" width="2.62" height="42.57" fill="#e3141b"/>
<rect x="1503.77" y="514.00" width="4.42" height="56.40" fill="#0a0a0a"/>
<rect x="1504.67" y="514.90" width="2.62" height="55.50" fill="#2f8a22"/>
<rect x="1507.29" y="520.80" width="4.42" height="49.60" fill="#0a0a0a"/>
<rect x="1508.19" y="521.70" width="2.62" height="48.70" fill="#2f8a22"/>
<rect x="1510.81" y="526.93" width="4.42" height="43.47" fill="#0a0a0a"/>
<rect x="1511.71" y="527.83" width="2.62" height="42.57" fill="#2f8a22"/>
<rect x="1514.32" y="542.81" width="4.42" height="27.59" fill="#0a0a0a"/>
<rect x="1515.22" y="543.71" width="2.62" height="26.69" fill="#2f8a22"/>
<rect x="1517.84" y="541.22" width="4.42" height="29.18" fill="#0a0a0a"/>
<rect x="1518.74" y="542.12" width="2.62" height="28.28" fill="#e3141b"/>
<rect x="1521.36" y="538.95" width="4.42" height="31.45" fill="#0a0a0a"/>
<rect x="1522.26" y="539.85" width="2.62" height="30.55" fill="#e3141b"/>
<rect x="1524.88" y="516.27" width="4.42" height="54.13" fill="#0a0a0a"/>
<rect x="1525.78" y="517.17" width="2.62" height="53.23" fill="#2f8a22"/>
<rect x="1528.40" y="512.18" width="4.42" height="58.22" fill="#0a0a0a"/>
<rect x="1529.30" y="513.08" width="2.62" height="57.32" fill="#e3141b"/>
<rect x="1531.91" y="531.01" width="4.42" height="39.39" fill="#0a0a0a"/>
<rect x="1532.81" y="531.91" width="2.62" height="38.49" fill="#2f8a22"/>
<rect x="1535.43" y="505.60" width="4.42" height="64.80" fill="#0a0a0a"/>
<rect x="1536.33" y="506.50" width="2.62" height="63.90" fill="#e3141b"/>
<rect x="1538.95" y="483.82" width="4.42" height="86.58" fill="#0a0a0a"/>
<rect x="1539.85" y="484.72" width="2.62" height="85.68" fill="#e3141b"/>
<rect x="1542.47" y="496.53" width="4.42" height="73.87" fill="#0a0a0a"/>
<rect x="1543.37" y="497.43" width="2.62" height="72.97" fill="#2f8a22"/>
<rect x="1545.99" y="515.58" width="4.42" height="54.82" fill="#0a0a0a"/>
<rect x="1546.89" y="516.48" width="2.62" height="53.92" fill="#e3141b"/>
<rect x="1549.50" y="525.34" width="4.42" height="45.06" fill="#0a0a0a"/>
<rect x="1550.40" y="526.24" width="2.62" height="44.16" fill="#2f8a22"/>
<rect x="1553.02" y="525.34" width="4.42" height="45.06" fill="#0a0a0a"/>
<rect x="1553.92" y="526.24" width="2.62" height="44.16" fill="#e3141b"/>
<rect x="1556.54" y="538.95" width="4.42" height="31.45" fill="#0a0a0a"/>
<rect x="1557.44" y="539.85" width="2.62" height="30.55" fill="#e3141b"/>
<rect x="1560.06" y="534.41" width="4.42" height="35.99" fill="#0a0a0a"/>
<rect x="1560.96" y="535.31" width="2.62" height="35.09" fill="#e3141b"/>
<rect x="1563.58" y="538.95" width="4.42" height="31.45" fill="#0a0a0a"/>
<rect x="1564.48" y="539.85" width="2.62" height="30.55" fill="#2f8a22"/>
<rect x="1567.09" y="542.81" width="4.42" height="27.59" fill="#0a0a0a"/>
<rect x="1567.99" y="543.71" width="2.62" height="26.69" fill="#2f8a22"/>
<rect x="1570.61" y="537.14" width="4.42" height="33.26" fill="#0a0a0a"/>
<rect x="1571.51" y="538.04" width="2.62" height="32.36" fill="#e3141b"/>
<rect x="1574.13" y="544.17" width="4.42" height="26.23" fill="#0a0a0a"/>
<rect x="1575.03" y="545.07" width="2.62" height="25.33" fill="#e3141b"/>
<rect x="1577.65" y="540.77" width="4.42" height="29.63" fill="#0a0a0a"/>
<rect x="1578.55" y="541.67" width="2.62" height="28.73" fill="#e3141b"/>
<rect x="1581.17" y="523.75" width="4.42" height="46.65" fill="#0a0a0a"/>
<rect x="1582.07" y="524.65" width="2.62" height="45.75" fill="#e3141b"/>
<rect x="1584.68" y="529.20" width="4.42" height="41.20" fill="#0a0a0a"/>
<rect x="1585.58" y="530.10" width="2.62" height="40.30" fill="#e3141b"/>
<rect x="1588.20" y="542.81" width="4.42" height="27.59" fill="#0a0a0a"/>
<rect x="1589.10" y="543.71" width="2.62" height="26.69" fill="#e3141b"/>
<rect x="1591.72" y="539.63" width="4.42" height="30.77" fill="#0a0a0a"/>
<rect x="1592.62" y="540.53" width="2.62" height="29.87" fill="#2f8a22"/>
<rect x="1595.24" y="534.41" width="4.42" height="35.99" fill="#0a0a0a"/>
<rect x="1596.14" y="535.31" width="2.62" height="35.09" fill="#2f8a22"/>
<rect x="1598.76" y="541.90" width="4.42" height="28.50" fill="#0a0a0a"/>
<rect x="1599.66" y="542.80" width="2.62" height="27.60" fill="#2f8a22"/>
<rect x="1602.27" y="540.77" width="4.42" height="29.63" fill="#0a0a0a"/>
<rect x="1603.17" y="541.67" width="2.62" height="28.73" fill="#2f8a22"/>
<rect x="1605.79" y="535.09" width="4.42" height="35.31" fill="#0a0a0a"/>
<rect x="1606.69" y="535.99" width="2.62" height="34.41" fill="#e3141b"/>
<rect x="1609.31" y="531.69" width="4.42" height="38.71" fill="#0a0a0a"/>
<rect x="1610.21" y="532.59" width="2.62" height="37.81" fill="#e3141b"/>
<rect x="1612.83" y="518.99" width="4.42" height="51.41" fill="#0a0a0a"/>
<rect x="1613.73" y="519.89" width="2.62" height="50.51" fill="#2f8a22"/>
<rect x="1616.35" y="524.66" width="4.42" height="45.74" fill="#0a0a0a"/>
<rect x="1617.25" y="525.56" width="2.62" height="44.84" fill="#e3141b"/>
<rect x="1619.86" y="529.88" width="4.42" height="40.52" fill="#0a0a0a"/>
<rect x="1620.76" y="530.78" width="2.62" height="39.62" fill="#e3141b"/>
<rect x="1623.38" y="534.41" width="4.42" height="35.99" fill="#0a0a0a"/>
<rect x="1624.28" y="535.31" width="2.62" height="35.09" fill="#2f8a22"/>
<rect x="1626.90" y="521.48" width="4.42" height="48.92" fill="#0a0a0a"/>
<rect x="1627.80" y="522.38" width="2.62" height="48.02" fill="#2f8a22"/>
<rect x="1630.42" y="545.76" width="4.42" height="24.64" fill="#0a0a0a"/>
<rect x="1631.32" y="546.66" width="2.62" height="23.74" fill="#e3141b"/>
<rect x="1633.94" y="533.28" width="4.42" height="37.12" fill="#0a0a0a"/>
<rect x="1634.84" y="534.18" width="2.62" height="36.22" fill="#e3141b"/>
<rect x="1637.45" y="539.63" width="4.42" height="30.77" fill="#0a0a0a"/>
<rect x="1638.35" y="540.53" width="2.62" height="29.87" fill="#e3141b"/>
<rect x="1640.97" y="531.01" width="4.42" height="39.39" fill="#0a0a0a"/>
<rect x="1641.87" y="531.91" width="2.62" height="38.49" fill="#e3141b"/>
<rect x="1644.49" y="534.41" width="4.42" height="35.99" fill="#0a0a0a"/>
<rect x="1645.39" y="535.31" width="2.62" height="35.09" fill="#2f8a22"/>
<rect x="1648.01" y="525.34" width="4.42" height="45.06" fill="#0a0a0a"/>
<rect x="1648.91" y="526.24" width="2.62" height="44.16" fill="#2f8a22"/>
<rect x="1651.53" y="535.09" width="4.42" height="35.31" fill="#0a0a0a"/>
<rect x="1652.43" y="535.99" width="2.62" height="34.41" fill="#2f8a22"/>
<rect x="1655.04" y="529.88" width="4.42" height="40.52" fill="#0a0a0a"/>
<rect x="1655.94" y="530.78" width="2.62" height="39.62" fill="#2f8a22"/>
<rect x="1658.56" y="534.41" width="4.42" height="35.99" fill="#0a0a0a"/>
<rect x="1659.46" y="535.31" width="2.62" height="35.09" fill="#2f8a22"/>
<rect x="1662.08" y="529.88" width="4.42" height="40.52" fill="#0a0a0a"/>
<rect x="1662.98" y="530.78" width="2.62" height="39.62" fill="#e3141b"/>
<rect x="1665.60" y="526.47" width="4.42" height="43.93" fill="#0a0a0a"/>
<rect x="1666.50" y="527.37" width="2.62" height="43.03" fill="#e3141b"/>
<rect x="1669.12" y="531.01" width="4.42" height="39.39" fill="#0a0a0a"/>
<rect x="1670.02" y="531.91" width="2.62" height="38.49" fill="#e3141b"/>
<rect x="1672.63" y="532.15" width="4.42" height="38.25" fill="#0a0a0a"/>
<rect x="1673.53" y="533.05" width="2.62" height="37.35" fill="#e3141b"/>
<rect x="1676.15" y="497.44" width="4.42" height="72.96" fill="#0a0a0a"/>
<rect x="1677.05" y="498.34" width="2.62" height="72.06" fill="#e3141b"/>
<rect x="1679.67" y="532.15" width="4.42" height="38.25" fill="#0a0a0a"/>
<rect x="1680.57" y="533.05" width="2.62" height="37.35" fill="#2f8a22"/>
<rect x="1683.19" y="535.09" width="4.42" height="35.31" fill="#0a0a0a"/>
<rect x="1684.09" y="535.99" width="2.62" height="34.41" fill="#e3141b"/>
<rect x="1686.71" y="543.49" width="4.42" height="26.91" fill="#0a0a0a"/>
<rect x="1687.61" y="544.39" width="2.62" height="26.01" fill="#e3141b"/>
<rect x="1690.22" y="526.02" width="4.42" height="44.38" fill="#0a0a0a"/>
<rect x="1691.12" y="526.92" width="2.62" height="43.48" fill="#e3141b"/>
<rect x="1693.74" y="517.40" width="4.42" height="53.00" fill="#0a0a0a"/>
<rect x="1694.64" y="518.30" width="2.62" height="52.10" fill="#2f8a22"/>
<rect x="1697.26" y="511.27" width="4.42" height="59.13" fill="#0a0a0a"/>
<rect x="1698.16" y="512.17" width="2.62" height="58.23" fill="#2f8a22"/>
<rect x="1700.78" y="524.66" width="4.42" height="45.74" fill="#0a0a0a"/>
<rect x="1701.68" y="525.56" width="2.62" height="44.84" fill="#2f8a22"/>
<rect x="1704.30" y="529.88" width="4.42" height="40.52" fill="#0a0a0a"/>
<rect x="1705.20" y="530.78" width="2.62" height="39.62" fill="#2f8a22"/>
<rect x="1707.81" y="545.08" width="4.42" height="25.32" fill="#0a0a0a"/>
<rect x="1708.71" y="545.98" width="2.62" height="24.42" fill="#2f8a22"/>
<rect x="1711.33" y="526.02" width="4.42" height="44.38" fill="#0a0a0a"/>
<rect x="1712.23" y="526.92" width="2.62" height="43.48" fill="#2f8a22"/>
<rect x="1714.85" y="523.75" width="4.42" height="46.65" fill="#0a0a0a"/>
<rect x="1715.75" y="524.65" width="2.62" height="45.75" fill="#e3141b"/>
<rect x="1718.37" y="524.66" width="4.42" height="45.74" fill="#0a0a0a"/>
<rect x="1719.27" y="525.56" width="2.62" height="44.84" fill="#e3141b"/>
<rect x="1721.89" y="536.23" width="4.42" height="34.17" fill="#0a0a0a"/>
<rect x="1722.79" y="537.13" width="2.62" height="33.27" fill="#e3141b"/>
<rect x="1725.40" y="537.14" width="4.42" height="33.26" fill="#0a0a0a"/>
<rect x="1726.30" y="538.04" width="2.62" height="32.36" fill="#e3141b"/>
<rect x="1728.92" y="542.81" width="4.42" height="27.59" fill="#0a0a0a"/>
<rect x="1729.82" y="543.71" width="2.62" height="26.69" fill="#e3141b"/>
<rect x="1732.44" y="541.90" width="4.42" height="28.50" fill="#0a0a0a"/>
<rect x="1733.34" y="542.80" width="2.62" height="27.60" fill="#e3141b"/>
<rect x="1735.96" y="538.27" width="4.42" height="32.13" fill="#0a0a0a"/>
<rect x="1736.86" y="539.17" width="2.62" height="31.23" fill="#e3141b"/>
<rect x="1739.48" y="541.90" width="4.42" height="28.50" fill="#0a0a0a"/>
<rect x="1740.38" y="542.80" width="2.62" height="27.60" fill="#e3141b"/>
<rect x="1742.99" y="532.60" width="4.42" height="37.80" fill="#0a0a0a"/>
<rect x="1743.89" y="533.50" width="2.62" height="36.90" fill="#e3141b"/>
<rect x="1746.51" y="543.94" width="4.42" height="26.46" fill="#0a0a0a"/>
<rect x="1747.41" y="544.84" width="2.62" height="25.56" fill="#e3141b"/>
<rect x="1750.03" y="532.15" width="4.42" height="38.25" fill="#0a0a0a"/>
<rect x="1750.93" y="533.05" width="2.62" height="37.35" fill="#2f8a22"/>
<rect x="1753.55" y="543.49" width="4.42" height="26.91" fill="#0a0a0a"/>
<rect x="1754.45" y="544.39" width="2.62" height="26.01" fill="#2f8a22"/>
<rect x="1757.07" y="551.43" width="4.42" height="18.97" fill="#0a0a0a"/>
<rect x="1757.97" y="552.33" width="2.62" height="18.07" fill="#e3141b"/>
<rect x="1760.58" y="545.76" width="4.42" height="24.64" fill="#0a0a0a"/>
<rect x="1761.48" y="546.66" width="2.62" height="23.74" fill="#e3141b"/>
<rect x="1764.10" y="533.73" width="4.42" height="36.67" fill="#0a0a0a"/>
<rect x="1765.00" y="534.63" width="2.62" height="35.77" fill="#e3141b"/>
<rect x="1767.62" y="537.14" width="4.42" height="33.26" fill="#0a0a0a"/>
<rect x="1768.52" y="538.04" width="2.62" height="32.36" fill="#2f8a22"/>
<rect x="1771.14" y="535.55" width="4.42" height="34.85" fill="#0a0a0a"/>
<rect x="1772.04" y="536.45" width="2.62" height="33.95" fill="#e3141b"/>
<rect x="1774.66" y="550.97" width="4.42" height="19.43" fill="#0a0a0a"/>
<rect x="1775.56" y="551.87" width="2.62" height="18.53" fill="#e3141b"/>
<line x1="28.5" y1="570.5" x2="28.5" y2="576" stroke="#b8b8b8" stroke-width="1"/>
<line x1="93.4" y1="570.5" x2="93.4" y2="576" stroke="#b8b8b8" stroke-width="1"/>
<line x1="164.4" y1="570.5" x2="164.4" y2="576" stroke="#b8b8b8" stroke-width="1"/>
<line x1="241.4" y1="570.5" x2="241.4" y2="576" stroke="#b8b8b8" stroke-width="1"/>
<line x1="315.5" y1="570.5" x2="315.5" y2="576" stroke="#b8b8b8" stroke-width="1"/>
<line x1="385.6" y1="570.5" x2="385.6" y2="576" stroke="#b8b8b8" stroke-width="1"/>
<line x1="459.6" y1="570.5" x2="459.6" y2="576" stroke="#b8b8b8" stroke-width="1"/>
<line x1="529.6" y1="570.5" x2="529.6" y2="576" stroke="#b8b8b8" stroke-width="1"/>
<line x1="599.5" y1="570.5" x2="599.5" y2="576" stroke="#b8b8b8" stroke-width="1"/>
<line x1="678.2" y1="570.5" x2="678.2" y2="576" stroke="#b8b8b8" stroke-width="1"/>
<line x1="755.8" y1="570.5" x2="755.8" y2="576" stroke="#b8b8b8" stroke-width="1"/>
<line x1="822.3" y1="570.5" x2="822.3" y2="576" stroke="#b8b8b8" stroke-width="1"/>
<line x1="899.2" y1="570.5" x2="899.2" y2="576" stroke="#b8b8b8" stroke-width="1"/>
<line x1="976.7" y1="570.5" x2="976.7" y2="576" stroke="#b8b8b8" stroke-width="1"/>
<line x1="1047" y1="570.5" x2="1047" y2="576" stroke="#b8b8b8" stroke-width="1"/>
<line x1="1128" y1="570.5" x2="1128" y2="576" stroke="#b8b8b8" stroke-width="1"/>
<line x1="1198.3" y1="570.5" x2="1198.3" y2="576" stroke="#b8b8b8" stroke-width="1"/>
<line x1="1272" y1="570.5" x2="1272" y2="576" stroke="#b8b8b8" stroke-width="1"/>
<line x1="1343.3" y1="570.5" x2="1343.3" y2="576" stroke="#b8b8b8" stroke-width="1"/>
<line x1="1409.5" y1="570.5" x2="1409.5" y2="576" stroke="#b8b8b8" stroke-width="1"/>
<line x1="1483.7" y1="570.5" x2="1483.7" y2="576" stroke="#b8b8b8" stroke-width="1"/>
<line x1="1557.4" y1="570.5" x2="1557.4" y2="576" stroke="#b8b8b8" stroke-width="1"/>
<line x1="1631.1" y1="570.5" x2="1631.1" y2="576" stroke="#b8b8b8" stroke-width="1"/>
<line x1="1701.4" y1="570.5" x2="1701.4" y2="576" stroke="#b8b8b8" stroke-width="1"/>
<line x1="1748.6" y1="570.5" x2="1748.6" y2="576" stroke="#b8b8b8" stroke-width="1"/>
<line x1="9" y1="7.5" x2="1834" y2="7.5" stroke="#dcdcdc" stroke-width="1"/>
<line x1="9" y1="40.5" x2="1834" y2="40.5" stroke="#d0d0d0" stroke-width="1.2"/>
<line x1="9" y1="464.5" x2="1779" y2="464.5" stroke="#d0d0d0" stroke-width="1"/>
<line x1="9" y1="593.5" x2="1834" y2="593.5" stroke="#d0d0d0" stroke-width="1"/>
<line x1="1779.5" y1="41" x2="1779.5" y2="571" stroke="#8a8a8a" stroke-width="1"/>
<line x1="1779" y1="57.5" x2="1783" y2="57.5" stroke="#8a8a8a"/>
<text x="1784.5" y="61.4" class="ax">110.00</text>
<line x1="1779" y1="148.5" x2="1783" y2="148.5" stroke="#8a8a8a"/>
<text x="1784.5" y="152.2" class="ax">100.00</text>
<line x1="1779" y1="239.5" x2="1783" y2="239.5" stroke="#8a8a8a"/>
<text x="1784.5" y="242.9" class="ax">90.00</text>
<line x1="1779" y1="330.5" x2="1783" y2="330.5" stroke="#8a8a8a"/>
<text x="1784.5" y="333.6" class="ax">80.00</text>
<line x1="1779" y1="420.5" x2="1783" y2="420.5" stroke="#8a8a8a"/>
<text x="1784.5" y="424.4" class="ax">70.00</text>
<line x1="1779" y1="475.5" x2="1783" y2="475.5" stroke="#8a8a8a"/>
<text x="1784.5" y="479.2" class="ax">12.50 M</text>
<line x1="1779" y1="494.5" x2="1783" y2="494.5" stroke="#8a8a8a"/>
<text x="1784.5" y="498.0" class="ax">10.00 M</text>
<line x1="1779" y1="513.5" x2="1783" y2="513.5" stroke="#8a8a8a"/>
<text x="1784.5" y="516.6" class="ax">7.50 M</text>
<line x1="1779" y1="532.5" x2="1783" y2="532.5" stroke="#8a8a8a"/>
<text x="1784.5" y="535.8" class="ax">5.00 M</text>
<line x1="1779" y1="551.5" x2="1783" y2="551.5" stroke="#8a8a8a"/>
<text x="1784.5" y="555.2" class="ax">2.50 M</text>
<text x="28.5" y="587" class="ax" text-anchor="middle">7</text>
<text x="93.4" y="587" class="ax" text-anchor="middle">Sep '23</text>
<text x="164.4" y="587" class="ax" text-anchor="middle">Oct '23</text>
<text x="241.4" y="587" class="ax" text-anchor="middle">Nov '23</text>
<text x="315.5" y="587" class="ax" text-anchor="middle">Dec '23</text>
<text x="385.6" y="587" class="ax" text-anchor="middle">Jan '24</text>
<text x="459.6" y="587" class="ax" text-anchor="middle">Feb '24</text>
<text x="529.6" y="587" class="ax" text-anchor="middle">Mar '24</text>
<text x="599.5" y="587" class="ax" text-anchor="middle">Apr '24</text>
<text x="678.2" y="587" class="ax" text-anchor="middle">May '24</text>
<text x="755.8" y="587" class="ax" text-anchor="middle">Jun '24</text>
<text x="822.3" y="587" class="ax" text-anchor="middle">Jul '24</text>
<text x="899.2" y="587" class="ax" text-anchor="middle">Aug '24</text>
<text x="976.7" y="587" class="ax" text-anchor="middle">Sep '24</text>
<text x="1047.0" y="587" class="ax" text-anchor="middle">Oct '24</text>
<text x="1128.0" y="587" class="ax" text-anchor="middle">Nov '24</text>
<text x="1198.3" y="587" class="ax" text-anchor="middle">Dec '24</text>
<text x="1272.0" y="587" class="ax" text-anchor="middle">Jan '25</text>
<text x="1343.3" y="587" class="ax" text-anchor="middle">Feb '25</text>
<text x="1409.5" y="587" class="ax" text-anchor="middle">Mar '25</text>
<text x="1483.7" y="587" class="ax" text-anchor="middle">Apr '25</text>
<text x="1557.4" y="587" class="ax" text-anchor="middle">May '25</text>
<text x="1631.1" y="587" class="ax" text-anchor="middle">Jun '25</text>
<text x="1701.4" y="587" class="ax" text-anchor="middle">Jul '25</text>
<text x="1748.6" y="587" class="ax" text-anchor="middle">21</text>
<rect x="1779.2" y="256.9" width="34.8" height="21.3" rx="2.5" fill="#000"/>
<svg x="1779" y="257" width="36" height="6.6" overflow="hidden"><text x="5.4" y="12.6" class="lbl">87.40</text></svg>
<text x="1784.4" y="274.8" class="lbl">85.54</text>
<path d="M1779.2,279.6 L1811.5,279.6 Q1814,279.6 1814,282 L1814,292.5 Q1814,295 1811.5,295 L1781.5,295 Q1779.2,295 1779.2,292.5 L1779.2,288 L1776.4,283 L1776.4,279.6 Z" fill="#e01b1b"/>
<text x="1784.4" y="291.2" class="lbl">84.70</text>
</svg>
<div class="box" style="left:14px;top:74.5px;width:52.6px;height:19.2px;"></div>
<div class="box" style="left:76px;top:74.5px;width:106.5px;height:19.2px;"></div>
<div class="box" style="left:14px;top:473px;width:165.5px;height:20px;"></div>
<div class="btn" style="left:1726.5px;top:13px;width:66px;height:21.5px;"></div>
<div style="position:absolute;left:1726.5px;top:13px;width:42.5px;height:21.5px;background:#2f8a2a;border-radius:4px 0 0 4px;"></div>
<div class="btn" style="left:1801px;top:13px;width:27px;height:21.5px;"></div>
<svg width="1843" height="595" viewBox="0 0 1843 595" style="position:absolute;left:0;top:0">
<g font-size="11" fill="#111" stroke="#111" stroke-width="0.25">
<text x="18.9" y="28.1">Table</text>
<text x="85.5" y="28.1">Log</text>
<text x="121.8" y="28.1">Ext</text>
<text x="1333.6" y="27.8">Analysis</text>
<text x="1406.5" y="27.8">Draw</text>
<text x="1464.4" y="27.8">Compare</text>
<text x="1545.4" y="27.8">Indicators</text>
<text x="1624.8" y="27.8">Styles</text>
<text x="1685.6" y="27.8">Events</text>
<text x="14.5" y="61.1">Mar-07-2025</text>
<text x="94.3" y="61.1">O: <tspan font-weight="bold" stroke-width="0.1">92.84</tspan></text>
<text x="154.2" y="61.1">H: <tspan font-weight="bold" stroke-width="0.1">98.34</tspan></text>
<text x="213.4" y="61.1">L: <tspan font-weight="bold" stroke-width="0.1">92.84</tspan></text>
<text x="269" y="61.1">C: <tspan font-weight="bold" stroke-width="0.1">96.74</tspan></text>
<text x="327.4" y="61.1">V: <tspan font-weight="bold" stroke-width="0.1">10.10 M</tspan></text>
<text x="24" y="89">CL</text>
<text x="86" y="89" letter-spacing="-0.4">VOL PROFILE</text>
<text x="23.8" y="488.4">VOLUME</text>
<text x="84" y="490.6" letter-spacing="-0.2">10,097,455.00</text>
</g>
<text x="1735.6" y="28.4" font-size="10.6" font-weight="bold" fill="#fff">Save</text>
<!-- crosshair button -->
<rect x="54.85" y="13.75" width="19.3" height="20.4" rx="3.5" fill="#c9edc3" stroke="#52b947" stroke-width="1.3"/>
<g stroke="#3d983b" stroke-width="1.3">
<line x1="58" y1="23.9" x2="62.7" y2="23.9"/><line x1="66.3" y1="23.9" x2="71" y2="23.9"/>
<line x1="64.5" y1="18" x2="64.5" y2="22"/><line x1="64.5" y1="25.9" x2="64.5" y2="30"/>
</g>
<!-- analysis icon -->
<g fill="none" stroke="#222" stroke-width="1.1">
<circle cx="1321.2" cy="22.3" r="5.1"/>
<line x1="1324.9" y1="26.1" x2="1328" y2="30.2"/>
</g>
<rect x="1318.9" y="19.6" width="1.7" height="4.4" fill="#222"/><rect x="1321.5" y="19.6" width="1.2" height="4.4" fill="#222"/>
<!-- draw icon -->
<path d="M1390.4,16.5 L1400.4,16.5 L1395.4,29.7 Z" fill="none" stroke="#222" stroke-width="1.1" stroke-linejoin="round"/>
<path d="M1390.2,16 L1400.6,16 L1399.7,18.4 Q1398,17.6 1396.6,18.6 L1395.4,19.6 L1394.2,18.6 Q1392.8,17.6 1391.1,18.4 Z" fill="#222"/>
<path d="M1394.2,26.6 L1396.6,26.6 L1395.4,29.7 Z" fill="#222"/>
<!-- VS icon -->
<text x="1446.2" y="27" font-size="12.5" font-style="italic" fill="#222" stroke="#222" stroke-width="0.35">V</text>
<text x="1452" y="29" font-size="10" font-style="italic" fill="#222" stroke="#222" stroke-width="0.35">S</text>
<!-- indicators icon -->
<g fill="none" stroke="#222" stroke-width="1.1">
<path d="M1528.9,17.6 L1528.9,29.3 L1540.6,29.3"/>
<path d="M1527.5,19 L1528.9,17.2 L1530.3,19"/>
<path d="M1539.1,27.9 L1540.9,29.3 L1539.1,30.7"/>
<path d="M1530.2,28.2 L1540.6,17.4"/>
<circle cx="1533.6" cy="24.8" r="1.1" fill="#fff"/>
<circle cx="1537.5" cy="20.7" r="1.1" fill="#fff"/>
</g>
<!-- styles icon -->
<g fill="#222">
<rect x="1610.4" y="16.8" width="1" height="12.4" fill="#888"/>
<rect x="1609.1" y="20.9" width="3.6" height="5.4" rx="0.7"/>
<rect x="1616.6" y="16.6" width="1" height="12.4" fill="#888"/>
<rect x="1615.3" y="19.6" width="3.6" height="5.3" rx="0.7"/>
</g>
<!-- events icon -->
<g fill="none" stroke="#222" stroke-width="1.1">
<rect x="1669.2" y="18.8" width="11.2" height="10" rx="1.2"/>
<line x1="1669.2" y1="21.8" x2="1680.4" y2="21.8"/>
<line x1="1672" y1="16.6" x2="1672" y2="19.5"/><line x1="1677.6" y1="16.6" x2="1677.6" y2="19.5"/>
</g>
<!-- chevron -->
<path d="M1777.2,21.7 L1781.1,25.3 L1785,21.7" fill="none" stroke="#555" stroke-width="1"/>
<!-- gear -->
<g transform="translate(1814.95,23.9)">
<circle r="4.7" fill="#1e1e1e"/>
<g fill="#1e1e1e">
<rect x="-1.6" y="-6.1" width="3.2" height="12.2" rx="0.5"/>
<rect x="-1.6" y="-6.1" width="3.2" height="12.2" rx="0.5" transform="rotate(60)"/>
<rect x="-1.6" y="-6.1" width="3.2" height="12.2" rx="0.5" transform="rotate(120)"/>
</g>
<circle r="2.1" fill="#fff"/>
</g>
<!-- expand icon in CL box -->
<g fill="none" stroke="#505050" stroke-width="1.7">
<path d="M51.9,84.2 L51.9,81.8 L54.6,81.8"/>
<path d="M58.6,81.8 L61.3,81.8 L61.3,84.2"/>
<path d="M51.9,87.6 L51.9,90 L54.6,90"/>
<path d="M58.6,90 L61.3,90 L61.3,87.6"/>
</g>
<!-- X icons -->
<g stroke="#444" stroke-width="1.3">
<line x1="169.4" y1="81.8" x2="177.6" y2="89.8"/><line x1="177.6" y1="81.8" x2="169.4" y2="89.8"/>
<line x1="166" y1="480.3" x2="174.4" y2="488.7"/><line x1="174.4" y1="480.3" x2="166" y2="488.7"/>
</g>
</svg>

</div></body></html>
